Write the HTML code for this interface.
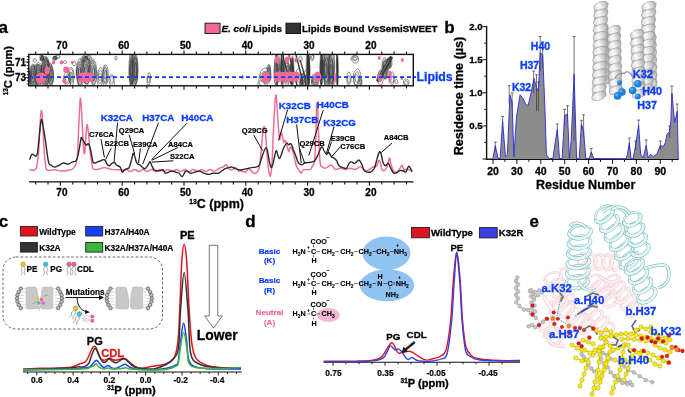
<!DOCTYPE html>
<html><head><meta charset="utf-8"><style>
html,body{margin:0;padding:0;background:#fff;width:685px;height:397px;overflow:hidden}
svg{display:block;font-family:"Liberation Sans",sans-serif;will-change:transform}
text{stroke-width:0.3px}
text:not([stroke]){stroke:#000}
</style></head><body>
<svg width="685" height="397" viewBox="0 0 685 397">
<text x="-1.5" y="33.0" font-size="17.00" font-weight="bold" fill="#000" stroke="#000" style="stroke-width:0.30px" text-anchor="start" >a</text>
<rect x="205" y="23.2" width="15" height="10.3" fill="#f0699a" stroke="#222" stroke-width="1"/>
<text x="221.5" y="31.6" font-size="9.8" font-weight="bold"><tspan font-style="italic">E. coli</tspan> Lipids</text>
<rect x="286" y="23.2" width="14.5" height="10.3" fill="#333" stroke="#111" stroke-width="1"/>
<text x="302" y="31.6" font-size="9.8" font-weight="bold">Lipids Bound <tspan font-style="italic">Vs</tspan>SemiSWEET</text>
<text x="61.9" y="48.7" font-size="10.00" font-weight="bold" fill="#000" stroke="#000" style="stroke-width:0.30px" text-anchor="middle" >70</text>
<text x="123.7" y="48.7" font-size="10.00" font-weight="bold" fill="#000" stroke="#000" style="stroke-width:0.30px" text-anchor="middle" >60</text>
<text x="185.5" y="48.7" font-size="10.00" font-weight="bold" fill="#000" stroke="#000" style="stroke-width:0.30px" text-anchor="middle" >50</text>
<text x="247.3" y="48.7" font-size="10.00" font-weight="bold" fill="#000" stroke="#000" style="stroke-width:0.30px" text-anchor="middle" >40</text>
<text x="309.1" y="48.7" font-size="10.00" font-weight="bold" fill="#000" stroke="#000" style="stroke-width:0.30px" text-anchor="middle" >30</text>
<text x="370.9" y="48.7" font-size="10.00" font-weight="bold" fill="#000" stroke="#000" style="stroke-width:0.30px" text-anchor="middle" >20</text>
<path d="M35.7,54.4 v-2.8 M35.7,85.8 v2.8 M48.0,54.4 v-2.8 M48.0,85.8 v2.8 M60.4,54.4 v-4.0 M60.4,85.8 v4.0 M72.8,54.4 v-2.8 M72.8,85.8 v2.8 M85.1,54.4 v-2.8 M85.1,85.8 v2.8 M97.5,54.4 v-2.8 M97.5,85.8 v2.8 M109.8,54.4 v-2.8 M109.8,85.8 v2.8 M122.2,54.4 v-4.0 M122.2,85.8 v4.0 M134.6,54.4 v-2.8 M134.6,85.8 v2.8 M146.9,54.4 v-2.8 M146.9,85.8 v2.8 M159.3,54.4 v-2.8 M159.3,85.8 v2.8 M171.6,54.4 v-2.8 M171.6,85.8 v2.8 M184.0,54.4 v-4.0 M184.0,85.8 v4.0 M196.4,54.4 v-2.8 M196.4,85.8 v2.8 M208.7,54.4 v-2.8 M208.7,85.8 v2.8 M221.1,54.4 v-2.8 M221.1,85.8 v2.8 M233.4,54.4 v-2.8 M233.4,85.8 v2.8 M245.8,54.4 v-4.0 M245.8,85.8 v4.0 M258.2,54.4 v-2.8 M258.2,85.8 v2.8 M270.5,54.4 v-2.8 M270.5,85.8 v2.8 M282.9,54.4 v-2.8 M282.9,85.8 v2.8 M295.2,54.4 v-2.8 M295.2,85.8 v2.8 M307.6,54.4 v-4.0 M307.6,85.8 v4.0 M320.0,54.4 v-2.8 M320.0,85.8 v2.8 M332.3,54.4 v-2.8 M332.3,85.8 v2.8 M344.7,54.4 v-2.8 M344.7,85.8 v2.8 M357.0,54.4 v-2.8 M357.0,85.8 v2.8 M369.4,54.4 v-4.0 M369.4,85.8 v4.0 M381.8,54.4 v-2.8 M381.8,85.8 v2.8 M394.1,54.4 v-2.8 M394.1,85.8 v2.8 M406.5,54.4 v-2.8 M406.5,85.8 v2.8" stroke="#111" stroke-width="1.1" fill="none"/>
<path d="M28.8,56.5 h-2 M28.8,59.5 h-2 M28.8,62.6 h-2 M28.8,65.6 h-2 M28.8,68.7 h-2 M28.8,71.7 h-2 M28.8,74.8 h-2 M28.8,77.8 h-2 M28.8,80.9 h-2 M28.8,83.9 h-2 M28.8,62 h-3.5 M28.8,77.7 h-3.5" stroke="#111" stroke-width="0.9" fill="none"/>
<text x="26.0" y="65.5" font-size="10.00" font-weight="bold" fill="#000" stroke="#000" style="stroke-width:0.30px" text-anchor="end" >71</text>
<text x="26.0" y="81.3" font-size="10.00" font-weight="bold" fill="#000" stroke="#000" style="stroke-width:0.30px" text-anchor="end" >73</text>
<text transform="translate(11.6,70.6) rotate(-90)" text-anchor="middle" font-size="11.2" font-weight="bold"><tspan font-size="6.4" dy="-3.8">13</tspan><tspan dy="3.8">C (ppm)</tspan></text>
<clipPath id="box2d"><rect x="29" y="55" width="384" height="30.5"/></clipPath>
<g clip-path="url(#box2d)">
<path d="M36.8,76.0 C36.8,76.7 36.9,79.0 36.8,80.4 C36.6,81.8 36.2,83.4 35.8,84.6 C35.3,85.7 34.7,86.6 34.0,87.1 C33.4,87.6 32.6,88.1 31.9,87.7 C31.3,87.3 30.7,85.8 30.2,84.7 C29.7,83.5 29.2,82.3 28.9,80.8 C28.6,79.4 28.3,77.5 28.4,76.0 C28.5,74.5 29.0,73.0 29.4,71.7 C29.7,70.4 30.0,69.3 30.5,68.2 C30.9,67.1 31.4,65.7 32.0,65.1 C32.6,64.4 33.4,64.2 34.1,64.4 C34.8,64.6 35.7,65.0 36.2,66.2 C36.7,67.3 37.0,69.5 37.1,71.2 C37.2,72.8 36.9,75.2 36.8,76.0 Z" fill="#999"/>
<path d="M37.7,76.4 C37.7,77.2 37.8,79.8 37.6,81.4 C37.4,83.1 37.1,85.2 36.5,86.1 C36.0,87.1 35.1,87.2 34.4,87.3 C33.7,87.4 33.0,86.9 32.4,86.5 C31.8,86.1 31.0,85.9 30.5,85.0 C30.1,84.0 29.8,82.3 29.5,80.9 C29.3,79.4 29.2,77.9 29.1,76.4 C29.1,74.8 29.0,73.0 29.2,71.5 C29.5,70.1 29.9,68.6 30.4,67.4 C30.9,66.2 31.6,64.7 32.2,64.3 C32.9,63.9 33.8,64.2 34.4,65.0 C35.0,65.8 35.4,67.8 35.8,69.0 C36.2,70.1 36.6,70.9 36.9,72.2 C37.3,73.4 37.6,75.7 37.7,76.4 Z" fill="none" stroke="#2a2a2a" stroke-width="0.55"/>
<path d="M37.0,76.2 C37.0,76.9 37.0,79.0 36.8,80.3 C36.6,81.6 36.3,83.2 35.9,84.0 C35.4,84.8 34.7,85.0 34.2,85.2 C33.6,85.3 33.1,85.2 32.5,84.9 C32.0,84.6 31.4,84.3 31.0,83.5 C30.6,82.6 30.5,81.0 30.3,79.8 C30.1,78.6 30.1,77.5 30.0,76.2 C30.0,75.0 29.9,73.5 30.0,72.3 C30.2,71.1 30.5,69.8 30.9,68.8 C31.3,67.7 31.9,66.5 32.4,66.2 C33.0,65.9 33.7,66.4 34.2,67.0 C34.7,67.7 35.0,69.3 35.3,70.2 C35.7,71.2 36.1,71.7 36.3,72.7 C36.6,73.7 36.9,75.7 37.0,76.2 Z" fill="none" stroke="#2a2a2a" stroke-width="0.55"/>
<path d="M35.7,76.1 C35.6,76.6 35.4,78.1 35.2,79.0 C35.0,79.8 34.8,80.5 34.5,81.2 C34.2,81.8 33.8,82.5 33.4,82.8 C33.0,83.1 32.6,83.0 32.2,82.9 C31.7,82.8 31.2,82.7 30.8,82.2 C30.4,81.6 30.0,80.5 29.9,79.5 C29.8,78.4 30.1,77.1 30.2,76.1 C30.3,75.1 30.4,74.3 30.5,73.4 C30.7,72.6 30.9,71.7 31.1,71.0 C31.4,70.3 31.8,69.6 32.2,69.2 C32.5,68.7 33.1,68.1 33.5,68.3 C33.9,68.5 34.4,69.5 34.7,70.3 C35.0,71.1 35.1,72.2 35.3,73.2 C35.4,74.1 35.6,75.6 35.7,76.1 Z" fill="none" stroke="#2a2a2a" stroke-width="0.55"/>
<path d="M34.7,76.7 C34.7,77.0 34.8,78.2 34.7,78.9 C34.6,79.5 34.3,80.1 34.1,80.6 C33.9,81.0 33.6,81.3 33.3,81.6 C33.0,81.8 32.6,82.3 32.3,82.1 C32.0,82.0 31.7,81.3 31.5,80.8 C31.3,80.2 31.2,79.4 31.1,78.7 C31.0,78.0 31.0,77.3 31.0,76.7 C31.0,76.0 31.1,75.4 31.2,74.8 C31.3,74.1 31.3,73.2 31.5,72.5 C31.7,71.9 32.0,71.2 32.3,71.0 C32.6,70.9 33.0,71.3 33.3,71.6 C33.6,71.9 33.9,72.3 34.1,72.9 C34.3,73.4 34.4,74.0 34.5,74.6 C34.6,75.3 34.7,76.3 34.7,76.7 Z" fill="none" stroke="#2a2a2a" stroke-width="0.55"/>
<path d="M34.0,76.2 C34.0,76.4 34.1,77.3 34.0,77.7 C33.9,78.1 33.7,78.5 33.5,78.7 C33.3,78.8 33.1,78.8 33.0,78.9 C32.8,78.9 32.6,78.9 32.5,78.8 C32.3,78.8 32.2,78.6 32.0,78.3 C31.9,78.1 31.7,77.9 31.6,77.6 C31.4,77.2 31.4,76.6 31.4,76.2 C31.4,75.7 31.5,75.3 31.6,74.9 C31.7,74.5 31.8,74.0 31.9,73.7 C32.1,73.5 32.3,73.2 32.4,73.2 C32.6,73.1 32.8,73.4 33.0,73.5 C33.1,73.6 33.3,73.8 33.4,74.0 C33.6,74.3 33.7,74.6 33.7,75.0 C33.8,75.3 33.9,76.0 34.0,76.2 Z" fill="none" stroke="#2a2a2a" stroke-width="0.55"/>
<path d="M44.7,75.0 C44.6,76.0 44.5,79.4 44.1,80.9 C43.6,82.3 42.6,82.9 41.9,83.7 C41.2,84.5 40.7,85.1 40.0,85.5 C39.3,86.0 38.6,86.4 37.9,86.2 C37.3,85.9 36.6,85.1 36.0,84.1 C35.3,83.2 34.6,82.1 34.2,80.5 C33.9,79.0 33.8,76.8 33.8,75.0 C33.8,73.2 34.1,71.4 34.4,69.7 C34.7,68.0 35.0,65.9 35.6,64.9 C36.2,63.9 37.2,63.8 37.9,63.8 C38.7,63.7 39.3,64.4 40.0,64.8 C40.6,65.2 41.3,65.3 41.9,66.2 C42.5,67.0 43.1,68.3 43.6,69.7 C44.0,71.2 44.5,74.1 44.7,75.0 Z" fill="#8a8a8a"/>
<path d="M44.0,74.7 C43.9,75.5 44.0,78.2 43.8,79.9 C43.6,81.6 43.3,83.8 42.7,85.0 C42.2,86.2 41.3,86.9 40.5,87.2 C39.7,87.5 38.8,87.5 38.1,86.8 C37.5,86.1 36.9,84.3 36.5,83.0 C36.1,81.8 35.9,80.4 35.5,79.0 C35.1,77.6 34.4,76.3 34.2,74.7 C34.0,73.0 34.0,70.6 34.3,68.9 C34.6,67.2 35.3,65.6 35.9,64.5 C36.6,63.5 37.4,62.6 38.1,62.4 C38.9,62.3 39.6,63.3 40.3,63.8 C41.0,64.4 41.7,64.8 42.2,65.8 C42.8,66.7 43.5,68.0 43.8,69.5 C44.1,70.9 43.9,73.8 44.0,74.7 Z" fill="none" stroke="#2a2a2a" stroke-width="0.55"/>
<path d="M42.4,75.7 C42.4,76.4 42.7,78.7 42.5,80.0 C42.3,81.3 41.8,82.4 41.3,83.4 C40.8,84.3 40.3,85.0 39.7,85.5 C39.1,85.9 38.4,86.3 37.8,86.0 C37.2,85.7 36.6,84.6 36.1,83.6 C35.7,82.6 35.2,81.4 34.9,80.1 C34.7,78.8 34.8,77.0 34.9,75.7 C35.0,74.4 35.4,73.4 35.7,72.1 C35.9,70.9 35.9,69.4 36.3,68.2 C36.6,67.0 37.2,65.7 37.8,65.1 C38.3,64.6 39.1,64.7 39.8,65.1 C40.4,65.5 41.1,66.4 41.5,67.5 C41.9,68.6 42.0,70.5 42.1,71.8 C42.3,73.2 42.3,75.1 42.4,75.7 Z" fill="none" stroke="#2a2a2a" stroke-width="0.55"/>
<path d="M42.4,74.8 C42.4,75.4 42.4,77.6 42.1,78.6 C41.8,79.5 41.2,80.0 40.8,80.6 C40.3,81.1 39.9,81.5 39.5,81.7 C39.1,81.8 38.6,81.8 38.2,81.6 C37.8,81.4 37.3,81.1 36.9,80.5 C36.5,80.0 36.0,79.3 35.8,78.3 C35.5,77.4 35.6,75.9 35.6,74.8 C35.6,73.6 35.7,72.5 35.9,71.4 C36.1,70.3 36.3,68.9 36.7,68.3 C37.1,67.6 37.7,67.6 38.1,67.5 C38.6,67.5 39.1,67.7 39.5,68.0 C39.9,68.3 40.3,68.7 40.7,69.3 C41.0,69.9 41.3,70.7 41.6,71.6 C41.9,72.5 42.3,74.3 42.4,74.8 Z" fill="none" stroke="#2a2a2a" stroke-width="0.55"/>
<path d="M41.1,75.2 C41.0,75.6 41.0,76.7 40.9,77.5 C40.8,78.3 40.7,79.4 40.4,80.0 C40.2,80.6 39.7,81.0 39.4,81.0 C39.1,81.0 38.7,80.4 38.4,80.0 C38.1,79.7 37.8,79.4 37.6,78.9 C37.4,78.5 37.1,78.0 37.0,77.3 C36.8,76.7 36.6,76.0 36.5,75.2 C36.4,74.4 36.4,73.2 36.5,72.5 C36.6,71.7 37.1,71.1 37.4,70.7 C37.7,70.3 38.0,70.2 38.4,70.0 C38.7,69.9 39.0,69.6 39.4,69.8 C39.7,70.0 39.9,70.6 40.2,71.2 C40.4,71.7 40.6,72.3 40.8,72.9 C40.9,73.6 41.0,74.8 41.1,75.2 Z" fill="none" stroke="#2a2a2a" stroke-width="0.55"/>
<path d="M40.3,75.5 C40.2,75.7 40.1,76.4 39.9,76.8 C39.8,77.2 39.7,77.5 39.6,77.8 C39.5,78.1 39.3,78.3 39.1,78.5 C38.9,78.6 38.7,78.9 38.5,78.9 C38.3,78.9 38.0,78.8 37.9,78.5 C37.7,78.1 37.6,77.4 37.6,77.0 C37.5,76.5 37.5,76.0 37.5,75.5 C37.6,75.0 37.6,74.5 37.6,74.1 C37.7,73.7 37.9,73.4 38.1,73.1 C38.2,72.8 38.4,72.5 38.6,72.4 C38.7,72.3 39.0,72.2 39.2,72.3 C39.3,72.4 39.5,72.7 39.7,72.9 C39.9,73.2 40.1,73.5 40.2,73.9 C40.3,74.3 40.3,75.2 40.3,75.5 Z" fill="none" stroke="#2a2a2a" stroke-width="0.55"/>
<path d="M50.6,72.0 C50.6,73.0 50.8,76.4 50.6,78.1 C50.3,79.9 49.6,81.3 49.0,82.6 C48.4,83.9 47.8,85.3 47.1,86.0 C46.4,86.7 45.5,87.2 44.8,86.8 C44.1,86.3 43.3,84.9 42.7,83.5 C42.2,82.0 41.5,80.2 41.3,78.3 C41.1,76.4 41.4,73.9 41.5,72.0 C41.6,70.1 42.0,68.8 42.2,66.9 C42.4,65.0 42.4,62.5 42.8,60.8 C43.2,59.1 44.0,57.5 44.8,56.9 C45.5,56.3 46.5,56.4 47.2,57.0 C48.0,57.7 48.8,59.0 49.2,60.6 C49.7,62.2 49.8,64.7 50.0,66.6 C50.3,68.5 50.5,71.1 50.6,72.0 Z" fill="#858585"/>
<path d="M50.1,72.4 C50.2,73.5 50.6,77.0 50.5,78.9 C50.3,80.9 49.6,83.0 49.0,84.3 C48.4,85.5 47.5,85.9 46.7,86.3 C46.0,86.7 45.2,87.1 44.5,86.6 C43.8,86.1 43.1,84.5 42.6,83.1 C42.0,81.7 41.6,80.0 41.3,78.2 C41.1,76.4 40.8,74.3 40.8,72.4 C40.9,70.5 41.3,68.8 41.5,66.9 C41.8,65.0 41.9,62.6 42.4,60.9 C42.8,59.2 43.6,57.0 44.3,56.5 C45.1,56.1 46.1,57.2 46.8,58.1 C47.5,59.0 48.1,60.5 48.6,61.9 C49.1,63.4 49.3,65.3 49.6,67.1 C49.8,68.8 50.0,71.5 50.1,72.4 Z" fill="none" stroke="#2a2a2a" stroke-width="0.55"/>
<path d="M50.3,72.1 C50.3,73.1 50.4,76.2 50.2,77.9 C49.9,79.5 49.3,81.1 48.7,82.1 C48.2,83.1 47.5,83.8 46.9,83.9 C46.2,84.0 45.6,83.1 45.0,82.6 C44.5,82.0 43.9,81.7 43.4,80.8 C42.9,80.0 42.3,78.8 42.0,77.3 C41.8,75.9 41.9,73.9 41.8,72.1 C41.8,70.4 41.8,68.5 42.0,66.8 C42.2,65.1 42.5,63.1 43.0,61.9 C43.5,60.8 44.3,60.3 44.9,60.0 C45.5,59.8 46.3,59.8 46.8,60.5 C47.4,61.1 47.8,62.7 48.2,64.0 C48.6,65.2 48.8,66.4 49.1,67.7 C49.5,69.1 50.1,71.4 50.3,72.1 Z" fill="none" stroke="#2a2a2a" stroke-width="0.55"/>
<path d="M49.4,71.5 C49.4,72.2 49.7,74.5 49.6,75.8 C49.4,77.1 49.0,78.4 48.6,79.4 C48.2,80.3 47.7,81.2 47.2,81.5 C46.7,81.9 46.0,81.9 45.6,81.5 C45.1,81.0 44.6,79.9 44.2,79.0 C43.9,78.0 43.4,77.0 43.2,75.8 C43.0,74.5 43.0,72.8 43.1,71.5 C43.2,70.2 43.5,69.1 43.7,67.9 C43.8,66.6 43.9,65.0 44.2,63.9 C44.5,62.7 45.0,61.6 45.5,61.1 C46.0,60.6 46.7,60.7 47.2,61.1 C47.7,61.5 48.3,62.4 48.6,63.5 C48.9,64.7 49.0,66.5 49.1,67.9 C49.2,69.2 49.3,70.9 49.4,71.5 Z" fill="none" stroke="#2a2a2a" stroke-width="0.55"/>
<path d="M48.4,71.8 C48.4,72.3 48.3,73.9 48.1,74.8 C48.0,75.7 47.7,76.5 47.4,77.3 C47.2,78.0 46.9,79.0 46.5,79.4 C46.1,79.7 45.7,79.4 45.3,79.1 C44.9,78.9 44.5,78.4 44.2,77.8 C43.8,77.2 43.3,76.4 43.2,75.4 C43.0,74.4 43.1,72.9 43.1,71.8 C43.2,70.7 43.4,69.6 43.6,68.8 C43.9,67.9 44.1,67.1 44.4,66.5 C44.6,65.9 45.0,65.5 45.3,65.0 C45.7,64.6 46.1,63.7 46.5,63.7 C46.9,63.7 47.5,64.2 47.8,65.0 C48.1,65.8 48.2,67.3 48.3,68.5 C48.4,69.6 48.4,71.2 48.4,71.8 Z" fill="none" stroke="#2a2a2a" stroke-width="0.55"/>
<path d="M48.0,72.5 C48.0,72.9 48.2,74.3 48.1,75.0 C48.0,75.8 47.7,76.4 47.5,76.9 C47.2,77.4 46.9,77.8 46.6,77.9 C46.4,78.1 46.0,78.1 45.8,77.9 C45.5,77.6 45.3,77.0 45.1,76.5 C44.8,76.0 44.6,75.4 44.5,74.8 C44.4,74.1 44.4,73.2 44.4,72.5 C44.4,71.7 44.5,71.1 44.6,70.3 C44.7,69.6 44.7,68.5 44.9,67.9 C45.1,67.3 45.4,66.7 45.7,66.5 C46.0,66.4 46.4,66.7 46.6,67.0 C46.9,67.3 47.2,67.8 47.4,68.4 C47.5,69.0 47.6,69.8 47.7,70.5 C47.8,71.2 47.9,72.1 48.0,72.5 Z" fill="none" stroke="#2a2a2a" stroke-width="0.55"/>
<path d="M46.8,71.7 C46.7,72.0 46.7,72.6 46.6,73.0 C46.6,73.5 46.5,74.0 46.4,74.3 C46.3,74.6 46.1,74.9 45.9,75.0 C45.8,75.1 45.6,74.9 45.4,74.9 C45.2,74.8 45.0,74.8 44.9,74.5 C44.7,74.3 44.6,73.7 44.6,73.3 C44.5,72.8 44.6,72.2 44.6,71.7 C44.6,71.3 44.7,70.9 44.7,70.5 C44.8,70.1 44.9,69.8 45.0,69.5 C45.1,69.2 45.3,68.8 45.4,68.5 C45.6,68.3 45.8,68.0 46.0,68.1 C46.1,68.1 46.3,68.7 46.4,69.1 C46.6,69.5 46.6,70.0 46.7,70.4 C46.7,70.8 46.7,71.5 46.8,71.7 Z" fill="none" stroke="#2a2a2a" stroke-width="0.55"/>
<path d="M53.4,75.0 C53.4,75.8 53.3,78.0 53.1,79.5 C53.0,81.1 52.9,83.0 52.7,84.3 C52.4,85.6 52.0,87.1 51.6,87.3 C51.3,87.5 50.8,86.4 50.4,85.7 C50.1,85.0 49.8,84.0 49.6,82.9 C49.3,81.8 49.2,80.5 49.0,79.2 C48.9,77.9 48.7,76.6 48.6,75.0 C48.6,73.4 48.4,71.2 48.5,69.6 C48.6,68.1 49.0,66.5 49.3,65.6 C49.6,64.7 50.1,64.5 50.4,64.3 C50.8,64.1 51.2,63.8 51.6,64.2 C51.9,64.6 52.2,65.8 52.5,66.9 C52.7,67.9 53.0,69.1 53.1,70.5 C53.3,71.8 53.4,74.2 53.4,75.0 Z" fill="#999"/>
<path d="M53.5,74.5 C53.5,75.4 53.6,78.4 53.4,79.9 C53.3,81.4 52.9,82.9 52.5,83.6 C52.2,84.3 51.7,84.0 51.4,84.2 C51.0,84.4 50.7,84.9 50.3,84.7 C50.0,84.5 49.6,83.8 49.3,82.8 C49.1,81.9 48.9,80.4 48.7,79.0 C48.5,77.6 48.3,76.1 48.3,74.5 C48.2,72.9 48.4,71.1 48.5,69.5 C48.7,68.0 48.9,66.4 49.2,65.3 C49.5,64.1 49.9,62.9 50.3,62.9 C50.6,62.8 51.0,64.1 51.4,64.8 C51.7,65.5 51.9,66.3 52.2,67.1 C52.5,68.0 52.8,68.6 53.0,69.8 C53.3,71.1 53.4,73.7 53.5,74.5 Z" fill="none" stroke="#2a2a2a" stroke-width="0.55"/>
<path d="M53.2,74.5 C53.2,75.1 53.3,77.1 53.2,78.3 C53.1,79.4 52.9,80.9 52.7,81.5 C52.4,82.1 52.0,81.8 51.8,81.7 C51.5,81.7 51.3,81.5 51.0,81.2 C50.8,81.0 50.5,80.9 50.3,80.4 C50.1,79.8 50.0,78.8 49.8,77.8 C49.7,76.8 49.6,75.6 49.5,74.5 C49.5,73.3 49.6,71.9 49.7,70.9 C49.8,69.8 50.1,69.0 50.3,68.2 C50.5,67.5 50.7,66.5 51.0,66.2 C51.2,66.0 51.6,66.4 51.8,66.9 C52.0,67.4 52.2,68.4 52.4,69.2 C52.5,69.9 52.7,70.4 52.9,71.3 C53.0,72.2 53.2,73.9 53.2,74.5 Z" fill="none" stroke="#2a2a2a" stroke-width="0.55"/>
<path d="M51.9,74.6 C51.9,74.9 51.8,75.8 51.8,76.4 C51.7,77.0 51.7,77.9 51.6,78.4 C51.5,78.8 51.3,79.1 51.2,79.3 C51.0,79.4 50.8,79.3 50.7,79.2 C50.5,79.1 50.3,79.0 50.2,78.6 C50.1,78.2 50.0,77.4 49.9,76.7 C49.9,76.0 49.8,75.3 49.9,74.6 C49.9,73.9 49.9,73.2 50.0,72.7 C50.1,72.2 50.2,71.9 50.4,71.4 C50.5,71.0 50.5,70.3 50.7,69.9 C50.8,69.6 51.0,69.2 51.2,69.3 C51.4,69.4 51.5,70.1 51.6,70.6 C51.8,71.1 51.9,71.8 51.9,72.5 C51.9,73.2 51.9,74.2 51.9,74.6 Z" fill="none" stroke="#2a2a2a" stroke-width="0.55"/>
<path d="M44.1,58.0 C44.1,58.2 44.1,59.0 43.9,59.4 C43.7,59.7 43.4,59.9 43.1,60.1 C42.9,60.3 42.6,60.4 42.4,60.6 C42.1,60.7 41.8,60.9 41.6,60.9 C41.3,60.9 40.9,60.8 40.7,60.5 C40.4,60.3 40.1,59.9 39.9,59.5 C39.8,59.1 39.8,58.4 39.9,58.0 C40.0,57.6 40.3,57.2 40.4,56.9 C40.6,56.5 40.6,56.1 40.8,55.8 C41.0,55.5 41.3,55.2 41.6,55.1 C41.8,55.0 42.1,55.0 42.4,55.1 C42.7,55.2 43.1,55.2 43.3,55.5 C43.6,55.8 43.7,56.2 43.9,56.7 C44.0,57.1 44.0,57.8 44.1,58.0 Z" fill="#666"/>
<path d="M43.5,58.0 C43.5,58.2 43.6,58.9 43.5,59.4 C43.4,59.8 43.2,60.2 42.9,60.5 C42.7,60.7 42.4,60.8 42.1,60.9 C41.8,61.0 41.4,61.2 41.1,61.1 C40.9,61.0 40.6,60.7 40.4,60.4 C40.2,60.1 40.1,59.6 40.0,59.2 C39.9,58.8 39.8,58.4 39.8,58.0 C39.8,57.6 39.9,57.2 40.0,56.8 C40.0,56.4 40.1,55.9 40.3,55.5 C40.5,55.1 40.8,54.6 41.1,54.5 C41.4,54.5 41.8,54.8 42.1,55.0 C42.4,55.2 42.6,55.5 42.8,55.8 C43.0,56.1 43.2,56.4 43.3,56.8 C43.4,57.2 43.4,57.8 43.5,58.0 Z" fill="none" stroke="#2a2a2a" stroke-width="0.55"/>
<path d="M43.5,58.2 C43.5,58.3 43.5,58.7 43.4,59.0 C43.4,59.2 43.3,59.5 43.2,59.7 C43.0,59.9 42.8,60.0 42.6,60.0 C42.5,60.1 42.3,60.1 42.1,60.0 C41.9,60.0 41.7,59.9 41.5,59.7 C41.4,59.6 41.4,59.2 41.3,58.9 C41.3,58.7 41.3,58.5 41.3,58.2 C41.3,58.0 41.3,57.7 41.3,57.5 C41.4,57.2 41.5,57.0 41.6,56.8 C41.7,56.6 41.9,56.3 42.1,56.2 C42.2,56.1 42.5,56.1 42.7,56.3 C42.8,56.4 42.9,56.7 43.0,56.9 C43.2,57.1 43.3,57.3 43.3,57.5 C43.4,57.7 43.5,58.1 43.5,58.2 Z" fill="none" stroke="#2a2a2a" stroke-width="0.55"/>
<path d="M36.4,60.6 C36.3,60.7 36.2,61.2 36.1,61.4 C36.0,61.7 35.7,61.8 35.5,61.9 C35.4,62.1 35.2,62.3 35.0,62.4 C34.8,62.5 34.6,62.6 34.4,62.5 C34.2,62.4 34.0,62.2 33.8,62.1 C33.6,61.9 33.4,61.7 33.3,61.5 C33.2,61.2 33.1,60.9 33.1,60.6 C33.1,60.2 33.2,59.9 33.3,59.6 C33.4,59.4 33.6,59.1 33.8,58.9 C33.9,58.8 34.2,58.9 34.4,58.9 C34.6,58.9 34.8,58.9 35.0,58.9 C35.2,58.9 35.5,58.8 35.7,58.9 C35.9,59.0 36.1,59.3 36.2,59.6 C36.3,59.9 36.3,60.4 36.4,60.6 Z" fill="none" stroke="#2a2a2a" stroke-width="0.55"/>
<path d="M57.3,58.0 C57.3,58.1 57.4,58.6 57.3,58.9 C57.2,59.2 57.0,59.6 56.8,59.8 C56.5,60.0 56.0,60.0 55.6,60.0 C55.2,60.1 54.8,60.0 54.5,59.9 C54.1,59.8 53.7,59.8 53.4,59.6 C53.2,59.4 53.0,59.1 52.9,58.8 C52.7,58.6 52.7,58.3 52.7,58.0 C52.7,57.7 52.7,57.4 52.8,57.1 C52.9,56.9 53.2,56.7 53.4,56.4 C53.7,56.2 54.0,55.9 54.4,55.8 C54.7,55.7 55.3,55.7 55.6,55.8 C56.0,56.0 56.2,56.3 56.4,56.6 C56.6,56.8 56.8,57.0 57.0,57.2 C57.1,57.5 57.3,57.9 57.3,58.0 Z" fill="#777"/>
<path d="M57.7,58.4 C57.6,58.5 57.2,58.9 57.0,59.1 C56.8,59.4 56.6,59.6 56.4,59.7 C56.1,59.9 55.8,60.1 55.5,60.2 C55.2,60.3 54.8,60.4 54.4,60.4 C54.0,60.4 53.5,60.4 53.2,60.2 C52.9,60.0 52.7,59.6 52.6,59.3 C52.6,59.0 52.6,58.7 52.6,58.4 C52.7,58.1 52.6,57.8 52.8,57.5 C52.9,57.3 53.3,57.1 53.5,56.9 C53.8,56.7 54.1,56.6 54.5,56.5 C54.8,56.4 55.2,56.3 55.6,56.4 C55.9,56.4 56.2,56.6 56.6,56.8 C56.9,57.0 57.3,57.1 57.5,57.4 C57.7,57.7 57.7,58.2 57.7,58.4 Z" fill="none" stroke="#2a2a2a" stroke-width="0.55"/>
<path d="M56.1,57.8 C56.2,57.9 56.3,58.2 56.2,58.4 C56.2,58.6 56.0,58.8 55.8,58.9 C55.6,59.0 55.3,58.9 55.0,58.9 C54.8,58.9 54.6,58.9 54.4,58.9 C54.2,58.8 54.0,58.8 53.8,58.7 C53.7,58.6 53.6,58.4 53.4,58.3 C53.3,58.1 53.2,58.0 53.2,57.8 C53.2,57.6 53.2,57.4 53.3,57.3 C53.4,57.1 53.6,57.0 53.8,56.8 C53.9,56.7 54.1,56.5 54.3,56.5 C54.6,56.5 54.9,56.5 55.1,56.6 C55.3,56.7 55.4,56.9 55.5,57.0 C55.7,57.1 55.8,57.2 55.9,57.3 C56.0,57.5 56.1,57.7 56.1,57.8 Z" fill="none" stroke="#2a2a2a" stroke-width="0.55"/>
<path d="M60.1,56.7 C60.1,56.9 60.2,57.3 60.0,57.5 C59.9,57.7 59.5,57.8 59.3,57.9 C59.0,58.0 58.7,58.1 58.4,58.1 C58.1,58.2 57.8,58.2 57.6,58.2 C57.3,58.2 57.0,58.0 56.8,57.9 C56.6,57.7 56.5,57.5 56.3,57.3 C56.2,57.2 56.0,57.0 55.9,56.7 C55.9,56.5 56.0,56.3 56.1,56.1 C56.2,55.8 56.4,55.6 56.6,55.4 C56.8,55.3 57.2,55.2 57.5,55.2 C57.8,55.2 58.1,55.4 58.4,55.5 C58.6,55.6 58.9,55.6 59.1,55.7 C59.3,55.8 59.6,55.9 59.8,56.1 C60.0,56.3 60.1,56.6 60.1,56.7 Z" fill="none" stroke="#2a2a2a" stroke-width="0.55"/>
<path d="M70.6,78.8 C70.6,79.3 70.9,80.7 70.8,81.7 C70.7,82.7 70.5,84.1 70.1,84.9 C69.6,85.6 68.9,86.0 68.3,86.1 C67.6,86.3 66.9,86.3 66.4,86.0 C65.8,85.6 65.3,84.8 64.9,84.0 C64.5,83.3 64.2,82.4 64.0,81.6 C63.7,80.7 63.3,79.7 63.3,78.8 C63.3,77.8 63.6,76.8 63.9,75.9 C64.1,75.0 64.5,74.2 64.9,73.5 C65.3,72.7 65.8,71.6 66.3,71.3 C66.9,70.9 67.7,71.1 68.3,71.4 C68.9,71.7 69.5,72.3 69.9,73.1 C70.3,73.8 70.6,75.0 70.7,75.9 C70.8,76.9 70.6,78.3 70.6,78.8 Z" fill="none" stroke="#2a2a2a" stroke-width="0.55"/>
<path d="M70.1,79.4 C70.0,79.8 69.8,80.8 69.6,81.5 C69.3,82.1 69.2,82.7 68.9,83.2 C68.6,83.7 68.1,84.1 67.8,84.2 C67.4,84.3 67.0,84.0 66.6,83.8 C66.2,83.7 65.7,83.7 65.3,83.3 C65.0,83.0 64.5,82.5 64.3,81.8 C64.1,81.2 64.0,80.2 64.0,79.4 C64.1,78.6 64.2,77.7 64.4,77.1 C64.7,76.6 65.2,76.2 65.5,75.9 C65.9,75.6 66.2,75.6 66.6,75.3 C67.0,75.1 67.4,74.5 67.8,74.4 C68.2,74.4 68.7,74.8 69.1,75.2 C69.4,75.6 69.7,76.4 69.9,77.1 C70.1,77.8 70.1,79.0 70.1,79.4 Z" fill="none" stroke="#2a2a2a" stroke-width="0.55"/>
<path d="M68.6,79.4 C68.6,79.6 68.6,80.3 68.5,80.7 C68.3,81.0 68.1,81.2 68.0,81.5 C67.8,81.9 67.6,82.3 67.4,82.5 C67.2,82.7 66.8,82.9 66.5,82.8 C66.3,82.7 66.0,82.3 65.9,81.9 C65.7,81.6 65.6,81.1 65.5,80.7 C65.4,80.3 65.5,79.8 65.5,79.4 C65.5,79.0 65.6,78.7 65.6,78.3 C65.7,77.9 65.7,77.3 65.8,76.9 C66.0,76.6 66.3,76.4 66.6,76.3 C66.8,76.2 67.1,76.3 67.4,76.4 C67.6,76.6 67.9,76.7 68.1,77.0 C68.3,77.3 68.4,77.7 68.5,78.2 C68.6,78.6 68.6,79.2 68.6,79.4 Z" fill="none" stroke="#2a2a2a" stroke-width="0.55"/>
<path d="M74.2,76.1 C74.1,76.8 74.0,78.8 73.8,80.0 C73.6,81.3 73.4,82.7 73.1,83.7 C72.8,84.6 72.3,85.8 71.9,85.9 C71.4,86.1 70.9,85.1 70.5,84.5 C70.1,83.9 69.8,83.1 69.5,82.3 C69.2,81.5 68.9,80.7 68.7,79.7 C68.4,78.6 68.3,77.5 68.2,76.1 C68.1,74.8 67.9,72.9 68.0,71.6 C68.2,70.3 68.6,69.0 69.1,68.4 C69.5,67.7 70.0,67.9 70.5,67.8 C70.9,67.7 71.4,67.4 71.8,67.7 C72.2,68.0 72.6,68.7 72.9,69.5 C73.2,70.3 73.5,71.3 73.7,72.4 C73.9,73.5 74.1,75.5 74.2,76.1 Z" fill="none" stroke="#2a2a2a" stroke-width="0.55"/>
<path d="M72.9,75.9 C72.9,76.4 73.1,77.7 73.0,78.6 C72.9,79.5 72.8,80.6 72.6,81.3 C72.4,82.1 72.0,82.7 71.7,82.9 C71.3,83.2 70.9,83.2 70.6,82.8 C70.3,82.4 70.1,81.3 69.9,80.5 C69.7,79.8 69.6,79.2 69.4,78.4 C69.3,77.6 69.0,76.8 69.0,75.9 C69.0,75.1 69.1,74.0 69.2,73.2 C69.4,72.3 69.5,71.4 69.8,70.8 C70.0,70.1 70.3,69.5 70.6,69.3 C70.9,69.1 71.3,69.3 71.6,69.5 C71.9,69.8 72.3,70.0 72.5,70.6 C72.8,71.3 72.9,72.4 73.0,73.3 C73.0,74.2 72.9,75.5 72.9,75.9 Z" fill="none" stroke="#2a2a2a" stroke-width="0.55"/>
<path d="M72.0,76.2 C72.0,76.5 72.0,77.2 71.9,77.8 C71.9,78.3 71.9,79.1 71.7,79.5 C71.6,79.9 71.4,80.3 71.2,80.4 C71.0,80.5 70.8,80.2 70.6,80.0 C70.4,79.8 70.2,79.7 70.1,79.3 C69.9,79.0 69.8,78.4 69.7,77.9 C69.7,77.4 69.7,76.8 69.7,76.2 C69.7,75.7 69.7,75.1 69.8,74.6 C69.8,74.2 70.0,73.8 70.1,73.4 C70.3,73.0 70.4,72.5 70.6,72.3 C70.8,72.0 71.0,71.7 71.2,71.8 C71.4,72.0 71.6,72.6 71.7,73.1 C71.8,73.6 71.9,74.2 71.9,74.7 C72.0,75.2 72.0,76.0 72.0,76.2 Z" fill="none" stroke="#2a2a2a" stroke-width="0.55"/>
<path d="M76.1,63.6 C76.1,63.7 76.2,64.2 76.1,64.5 C76.0,64.7 75.7,64.9 75.5,65.1 C75.3,65.3 75.0,65.5 74.7,65.6 C74.4,65.7 74.1,65.7 73.8,65.7 C73.5,65.6 73.2,65.4 73.0,65.2 C72.8,65.0 72.5,64.8 72.4,64.5 C72.3,64.2 72.3,63.9 72.4,63.6 C72.5,63.3 72.7,63.1 72.8,62.9 C72.9,62.6 72.9,62.3 73.0,62.0 C73.2,61.8 73.5,61.6 73.8,61.5 C74.1,61.4 74.5,61.3 74.8,61.4 C75.1,61.5 75.4,61.7 75.6,61.9 C75.8,62.1 75.8,62.5 75.9,62.8 C76.0,63.1 76.0,63.5 76.1,63.6 Z" fill="none" stroke="#2a2a2a" stroke-width="0.55"/>
<path d="M66.5,62.0 C66.5,62.2 66.6,62.6 66.5,62.8 C66.5,63.0 66.2,63.2 66.0,63.3 C65.8,63.4 65.5,63.4 65.3,63.4 C65.1,63.5 64.9,63.4 64.7,63.3 C64.5,63.3 64.4,63.2 64.2,63.1 C64.0,63.0 63.7,62.9 63.6,62.7 C63.4,62.6 63.3,62.3 63.3,62.0 C63.3,61.8 63.5,61.6 63.6,61.4 C63.7,61.2 63.9,61.0 64.1,60.9 C64.3,60.8 64.5,60.7 64.7,60.7 C64.9,60.6 65.1,60.6 65.3,60.7 C65.5,60.7 65.8,60.7 66.0,60.9 C66.1,61.0 66.2,61.2 66.3,61.4 C66.4,61.6 66.5,61.9 66.5,62.0 Z" fill="none" stroke="#2a2a2a" stroke-width="0.55"/>
<path d="M83.7,73.0 C83.6,73.9 83.6,76.6 83.3,78.2 C83.1,79.8 82.8,81.6 82.4,82.8 C82.0,83.9 81.4,84.6 80.9,85.2 C80.3,85.8 79.6,86.5 79.1,86.2 C78.5,85.9 77.9,84.7 77.4,83.5 C77.0,82.2 76.5,80.6 76.2,78.9 C75.9,77.1 75.6,74.9 75.6,73.0 C75.7,71.1 76.2,69.1 76.6,67.6 C76.9,66.2 77.4,65.4 77.9,64.3 C78.3,63.2 78.7,61.8 79.2,61.1 C79.7,60.4 80.3,60.1 80.9,60.1 C81.5,60.2 82.3,60.3 82.8,61.4 C83.4,62.5 83.9,64.8 84.0,66.7 C84.2,68.7 83.8,72.0 83.7,73.0 Z" fill="#bbb"/>
<path d="M83.6,72.5 C83.6,73.3 83.6,75.8 83.5,77.6 C83.3,79.4 83.2,81.8 82.8,83.3 C82.5,84.8 81.8,85.9 81.2,86.5 C80.6,87.0 79.8,87.3 79.2,86.6 C78.6,85.9 78.1,83.9 77.8,82.3 C77.4,80.8 77.3,79.0 77.1,77.3 C76.9,75.7 76.4,74.2 76.3,72.5 C76.2,70.7 76.3,68.5 76.6,66.8 C76.8,65.1 77.2,63.5 77.7,62.2 C78.1,60.9 78.7,59.4 79.2,58.9 C79.8,58.4 80.5,58.9 81.1,59.4 C81.7,59.9 82.3,60.7 82.8,61.9 C83.2,63.2 83.7,65.0 83.8,66.8 C83.9,68.6 83.6,71.5 83.6,72.5 Z" fill="none" stroke="#2a2a2a" stroke-width="0.55"/>
<path d="M82.7,73.2 C82.7,73.9 82.8,76.0 82.7,77.5 C82.6,79.0 82.4,80.9 82.1,82.1 C81.8,83.3 81.2,84.2 80.7,84.7 C80.2,85.1 79.6,85.2 79.1,84.7 C78.7,84.1 78.3,82.4 78.0,81.1 C77.7,79.9 77.6,78.6 77.3,77.3 C77.1,75.9 76.8,74.6 76.7,73.2 C76.7,71.8 76.8,70.0 77.0,68.7 C77.2,67.3 77.5,66.0 77.9,64.9 C78.3,63.8 78.7,62.5 79.2,62.1 C79.6,61.7 80.2,62.0 80.7,62.4 C81.2,62.8 81.7,63.3 82.1,64.4 C82.5,65.4 82.8,67.2 82.8,68.6 C82.9,70.1 82.7,72.4 82.7,73.2 Z" fill="none" stroke="#2a2a2a" stroke-width="0.55"/>
<path d="M82.2,72.5 C82.1,73.0 81.9,74.7 81.7,75.7 C81.5,76.7 81.3,77.6 81.1,78.4 C80.8,79.3 80.5,80.4 80.2,80.7 C79.9,81.0 79.4,80.6 79.1,80.3 C78.7,80.1 78.3,79.7 78.0,79.1 C77.7,78.4 77.3,77.5 77.1,76.4 C76.9,75.3 76.9,73.7 77.0,72.5 C77.0,71.2 77.1,69.8 77.3,68.8 C77.5,67.9 77.9,67.2 78.2,66.6 C78.5,66.1 78.8,66.0 79.1,65.6 C79.5,65.2 79.8,64.2 80.2,64.1 C80.6,64.0 81.1,64.4 81.4,65.2 C81.7,65.9 82.0,67.4 82.1,68.6 C82.2,69.8 82.2,71.8 82.2,72.5 Z" fill="none" stroke="#2a2a2a" stroke-width="0.55"/>
<path d="M82.1,73.2 C82.0,73.6 81.9,75.0 81.8,75.8 C81.7,76.6 81.5,77.4 81.3,78.0 C81.1,78.6 80.8,79.3 80.6,79.5 C80.3,79.6 80.0,79.1 79.8,78.7 C79.5,78.4 79.3,77.9 79.1,77.4 C78.9,76.8 78.8,76.3 78.6,75.6 C78.5,74.9 78.4,74.1 78.4,73.2 C78.3,72.3 78.2,71.1 78.3,70.3 C78.3,69.4 78.6,68.4 78.9,68.0 C79.1,67.6 79.5,67.8 79.8,67.8 C80.0,67.7 80.3,67.7 80.5,67.9 C80.8,68.1 81.0,68.5 81.2,69.0 C81.4,69.4 81.6,70.0 81.7,70.7 C81.9,71.4 82.0,72.8 82.1,73.2 Z" fill="none" stroke="#2a2a2a" stroke-width="0.55"/>
<path d="M80.9,72.4 C80.9,72.7 80.8,73.6 80.7,74.0 C80.6,74.4 80.4,74.6 80.2,74.9 C80.1,75.1 80.0,75.4 79.9,75.5 C79.7,75.6 79.6,75.7 79.4,75.6 C79.3,75.6 79.1,75.6 78.9,75.4 C78.8,75.1 78.6,74.6 78.5,74.1 C78.5,73.6 78.5,73.0 78.6,72.4 C78.6,71.9 78.6,71.3 78.7,70.9 C78.7,70.4 78.8,69.9 79.0,69.6 C79.1,69.4 79.3,69.3 79.4,69.2 C79.6,69.1 79.7,69.0 79.9,69.1 C80.0,69.2 80.2,69.4 80.3,69.7 C80.4,70.0 80.6,70.4 80.7,70.8 C80.8,71.3 80.9,72.1 80.9,72.4 Z" fill="none" stroke="#2a2a2a" stroke-width="0.55"/>
<path d="M91.3,70.0 C91.1,71.1 90.8,74.4 90.5,76.5 C90.2,78.6 89.9,81.0 89.3,82.5 C88.8,84.0 87.9,85.3 87.2,85.6 C86.5,85.8 85.6,84.8 84.9,84.0 C84.3,83.2 83.6,82.3 83.1,80.9 C82.6,79.5 82.4,77.6 82.0,75.8 C81.7,73.9 81.3,72.2 81.1,70.0 C80.9,67.8 80.5,64.6 80.7,62.4 C81.0,60.3 81.9,58.3 82.6,57.2 C83.3,56.1 84.2,55.9 84.9,55.7 C85.7,55.6 86.4,55.8 87.0,56.4 C87.7,57.1 88.2,58.4 88.8,59.5 C89.4,60.7 90.1,61.7 90.5,63.5 C90.9,65.2 91.2,68.9 91.3,70.0 Z" fill="#b0b0b0"/>
<path d="M91.4,70.1 C91.3,71.4 91.5,75.5 91.2,77.5 C90.8,79.4 89.9,80.8 89.2,81.9 C88.5,82.9 87.8,83.5 87.1,83.6 C86.4,83.8 85.8,83.4 85.1,83.0 C84.5,82.5 83.9,82.0 83.2,81.0 C82.5,80.1 81.5,79.3 81.0,77.5 C80.6,75.7 80.4,72.5 80.5,70.1 C80.6,67.8 81.2,65.6 81.6,63.7 C82.0,61.7 82.5,59.9 83.1,58.7 C83.6,57.5 84.4,57.1 85.1,56.7 C85.7,56.2 86.5,55.9 87.2,56.2 C87.9,56.4 88.7,56.9 89.3,58.2 C89.8,59.5 90.1,61.8 90.5,63.8 C90.8,65.8 91.2,69.1 91.4,70.1 Z" fill="none" stroke="#2a2a2a" stroke-width="0.55"/>
<path d="M90.4,69.6 C90.3,70.6 90.3,74.0 89.9,75.4 C89.6,76.9 88.8,77.7 88.3,78.5 C87.7,79.3 87.3,79.5 86.7,80.1 C86.2,80.8 85.6,82.2 85.0,82.2 C84.4,82.3 83.6,81.5 83.1,80.5 C82.5,79.4 81.9,77.6 81.7,75.8 C81.4,74.0 81.4,71.5 81.5,69.6 C81.7,67.8 82.2,66.3 82.5,64.7 C82.9,63.2 83.0,61.6 83.4,60.3 C83.9,59.1 84.4,57.7 85.0,57.3 C85.5,56.9 86.2,57.4 86.8,57.7 C87.4,58.1 88.1,58.3 88.7,59.3 C89.2,60.4 89.7,62.1 90.0,63.8 C90.3,65.5 90.3,68.7 90.4,69.6 Z" fill="none" stroke="#2a2a2a" stroke-width="0.55"/>
<path d="M89.2,69.3 C89.2,70.0 89.0,72.2 88.8,73.5 C88.6,74.8 88.4,76.3 88.0,77.2 C87.6,78.1 87.1,78.4 86.6,78.8 C86.1,79.3 85.6,80.0 85.1,80.0 C84.5,80.0 83.8,79.7 83.4,78.7 C83.0,77.6 82.8,75.4 82.7,73.9 C82.6,72.3 82.6,70.7 82.7,69.3 C82.8,67.8 83.0,66.5 83.2,65.3 C83.4,64.0 83.6,63.0 83.9,61.8 C84.2,60.6 84.6,58.7 85.1,58.1 C85.5,57.5 86.2,57.6 86.7,58.1 C87.3,58.6 87.7,60.0 88.1,61.1 C88.4,62.2 88.9,63.3 89.1,64.7 C89.3,66.0 89.2,68.5 89.2,69.3 Z" fill="none" stroke="#2a2a2a" stroke-width="0.55"/>
<path d="M88.4,70.1 C88.4,70.7 88.5,72.5 88.4,73.7 C88.3,75.0 88.1,76.7 87.8,77.5 C87.5,78.3 86.9,78.6 86.5,78.6 C86.1,78.5 85.7,77.7 85.3,77.3 C85.0,76.8 84.6,76.6 84.3,75.9 C84.0,75.3 83.8,74.4 83.6,73.4 C83.4,72.4 83.2,71.3 83.2,70.1 C83.1,69.0 83.1,67.4 83.3,66.4 C83.4,65.3 83.8,64.5 84.2,63.8 C84.5,63.0 84.9,62.2 85.2,61.9 C85.6,61.6 86.1,61.4 86.5,61.8 C86.9,62.2 87.2,63.4 87.4,64.3 C87.7,65.2 87.9,66.0 88.1,67.0 C88.2,68.0 88.4,69.6 88.4,70.1 Z" fill="none" stroke="#2a2a2a" stroke-width="0.55"/>
<path d="M88.3,70.2 C88.3,70.7 88.2,72.1 88.0,72.8 C87.9,73.5 87.6,74.1 87.4,74.4 C87.1,74.8 86.9,74.7 86.6,74.9 C86.3,75.1 86.1,75.6 85.8,75.7 C85.6,75.8 85.1,75.8 84.9,75.3 C84.7,74.8 84.5,73.8 84.4,72.9 C84.3,72.1 84.2,71.1 84.2,70.2 C84.3,69.4 84.4,68.5 84.6,67.8 C84.7,67.1 84.9,66.6 85.2,66.1 C85.4,65.6 85.6,64.8 85.8,64.6 C86.1,64.4 86.4,64.6 86.7,64.8 C86.9,65.0 87.2,65.4 87.4,65.9 C87.7,66.3 88.0,66.7 88.2,67.5 C88.3,68.2 88.3,69.8 88.3,70.2 Z" fill="none" stroke="#2a2a2a" stroke-width="0.55"/>
<path d="M87.2,70.7 C87.2,71.0 87.1,71.7 87.1,72.2 C87.0,72.7 87.0,73.4 86.9,73.8 C86.7,74.1 86.5,74.5 86.3,74.5 C86.2,74.6 86.0,74.2 85.8,74.0 C85.7,73.7 85.5,73.5 85.4,73.2 C85.3,72.8 85.2,72.5 85.1,72.1 C85.0,71.7 85.0,71.2 84.9,70.7 C84.9,70.2 84.8,69.5 84.9,69.0 C84.9,68.5 85.1,68.1 85.3,67.9 C85.4,67.6 85.6,67.5 85.8,67.4 C86.0,67.3 86.2,67.2 86.3,67.4 C86.5,67.5 86.6,67.9 86.7,68.2 C86.8,68.5 87.0,68.9 87.0,69.3 C87.1,69.7 87.2,70.5 87.2,70.7 Z" fill="none" stroke="#2a2a2a" stroke-width="0.55"/>
<path d="M96.4,72.0 C96.4,73.0 96.6,76.3 96.4,78.1 C96.2,79.9 95.8,81.6 95.3,82.9 C94.9,84.1 94.3,85.3 93.8,85.6 C93.3,85.8 92.7,85.0 92.2,84.3 C91.8,83.6 91.3,82.7 90.9,81.6 C90.5,80.5 90.0,79.2 89.9,77.6 C89.7,76.0 89.8,73.8 89.8,72.0 C89.8,70.2 89.8,68.4 90.0,66.6 C90.1,64.7 90.3,62.3 90.6,60.9 C91.0,59.5 91.6,58.6 92.2,58.2 C92.7,57.8 93.3,57.7 93.8,58.4 C94.3,59.1 94.8,60.9 95.1,62.4 C95.3,63.9 95.4,65.8 95.6,67.4 C95.8,69.0 96.3,71.2 96.4,72.0 Z" fill="#c0c0c0"/>
<path d="M96.6,72.2 C96.6,73.2 96.7,76.5 96.5,78.3 C96.2,80.0 95.8,81.6 95.3,82.7 C94.9,83.8 94.3,84.7 93.8,84.9 C93.3,85.2 92.8,84.9 92.3,84.2 C91.9,83.5 91.6,81.9 91.2,80.8 C90.8,79.7 90.3,79.1 90.0,77.7 C89.6,76.3 89.2,74.1 89.1,72.2 C89.0,70.2 89.3,67.8 89.6,66.0 C89.9,64.2 90.3,62.5 90.8,61.6 C91.2,60.7 91.8,60.6 92.3,60.6 C92.8,60.5 93.2,60.9 93.7,61.1 C94.2,61.3 94.8,61.0 95.3,61.9 C95.7,62.8 96.0,64.7 96.3,66.4 C96.5,68.2 96.5,71.2 96.6,72.2 Z" fill="none" stroke="#2a2a2a" stroke-width="0.55"/>
<path d="M96.0,71.9 C95.9,72.7 95.8,75.5 95.6,76.7 C95.3,77.9 94.8,78.4 94.4,79.1 C94.1,79.8 93.8,80.5 93.5,80.9 C93.1,81.3 92.7,81.8 92.3,81.5 C91.9,81.3 91.6,80.4 91.3,79.6 C90.9,78.7 90.5,77.8 90.3,76.5 C90.1,75.2 90.1,73.4 90.1,71.9 C90.1,70.4 90.2,68.8 90.4,67.3 C90.5,65.9 90.7,64.1 91.1,63.4 C91.4,62.6 91.9,62.6 92.3,62.6 C92.7,62.7 93.0,63.2 93.4,63.5 C93.8,63.8 94.2,63.7 94.5,64.3 C94.9,64.9 95.2,66.0 95.5,67.3 C95.7,68.6 95.9,71.1 96.0,71.9 Z" fill="none" stroke="#2a2a2a" stroke-width="0.55"/>
<path d="M94.8,72.7 C94.7,73.2 94.7,74.7 94.6,75.7 C94.5,76.8 94.4,78.0 94.2,78.9 C94.0,79.7 93.7,80.8 93.4,80.9 C93.1,81.0 92.7,80.2 92.5,79.7 C92.2,79.2 92.0,78.5 91.8,77.8 C91.6,77.1 91.5,76.4 91.3,75.5 C91.2,74.7 91.1,73.8 91.1,72.7 C91.0,71.7 90.9,70.3 91.0,69.3 C91.1,68.3 91.3,67.2 91.6,66.6 C91.8,66.0 92.2,66.0 92.5,65.8 C92.8,65.6 93.1,65.3 93.3,65.5 C93.6,65.8 93.9,66.5 94.1,67.2 C94.3,68.0 94.4,68.9 94.5,69.8 C94.6,70.7 94.7,72.3 94.8,72.7 Z" fill="none" stroke="#2a2a2a" stroke-width="0.55"/>
<path d="M94.7,72.0 C94.6,72.3 94.5,73.4 94.4,73.8 C94.3,74.3 94.1,74.5 94.0,74.8 C93.9,75.1 93.8,75.6 93.6,75.9 C93.5,76.2 93.3,76.5 93.1,76.5 C92.9,76.4 92.8,76.0 92.6,75.6 C92.5,75.2 92.3,74.6 92.2,74.0 C92.2,73.4 92.2,72.6 92.2,72.0 C92.2,71.4 92.3,70.8 92.4,70.2 C92.5,69.6 92.5,69.0 92.7,68.6 C92.8,68.2 93.0,68.2 93.1,68.1 C93.3,68.0 93.5,68.0 93.6,68.1 C93.8,68.1 94.0,68.1 94.2,68.4 C94.3,68.7 94.5,69.3 94.5,69.9 C94.6,70.5 94.6,71.7 94.7,72.0 Z" fill="none" stroke="#2a2a2a" stroke-width="0.55"/>
<path d="M87.1,58.7 C87.0,58.9 86.9,59.6 86.6,59.9 C86.4,60.3 86.1,60.6 85.7,60.8 C85.4,61.0 85.0,61.0 84.6,61.2 C84.2,61.3 83.8,61.6 83.3,61.7 C82.8,61.7 82.2,61.6 81.8,61.4 C81.5,61.1 81.2,60.5 81.1,60.1 C81.0,59.6 80.9,59.1 81.0,58.7 C81.1,58.2 81.3,57.8 81.6,57.5 C81.8,57.1 82.0,56.9 82.3,56.6 C82.6,56.2 82.9,55.8 83.3,55.6 C83.7,55.5 84.2,55.6 84.7,55.7 C85.1,55.8 85.5,56.0 85.9,56.3 C86.3,56.5 86.7,56.9 86.9,57.2 C87.1,57.6 87.0,58.4 87.1,58.7 Z" fill="none" stroke="#2a2a2a" stroke-width="0.55"/>
<path d="M85.5,58.7 C85.5,58.8 85.6,59.2 85.6,59.4 C85.5,59.7 85.3,60.0 85.1,60.2 C84.9,60.4 84.7,60.6 84.4,60.6 C84.1,60.7 83.8,60.6 83.5,60.5 C83.3,60.4 83.1,60.2 82.9,60.0 C82.7,59.8 82.5,59.7 82.3,59.4 C82.2,59.2 82.2,58.9 82.2,58.7 C82.3,58.4 82.4,58.2 82.5,58.0 C82.6,57.7 82.6,57.4 82.8,57.2 C83.0,57.0 83.3,56.9 83.5,56.8 C83.8,56.7 84.1,56.7 84.4,56.7 C84.7,56.8 85.0,57.0 85.2,57.2 C85.3,57.4 85.3,57.7 85.4,58.0 C85.4,58.2 85.5,58.6 85.5,58.7 Z" fill="none" stroke="#2a2a2a" stroke-width="0.55"/>
<path d="M91.4,57.6 C91.4,57.8 91.4,58.4 91.3,58.7 C91.2,59.1 91.1,59.6 90.8,59.9 C90.5,60.1 90.0,60.4 89.7,60.4 C89.3,60.4 88.8,60.1 88.5,59.9 C88.2,59.7 87.9,59.6 87.6,59.4 C87.4,59.2 87.0,59.0 86.9,58.7 C86.7,58.4 86.6,58.0 86.6,57.6 C86.5,57.3 86.5,56.8 86.6,56.5 C86.8,56.1 87.1,55.8 87.4,55.6 C87.7,55.4 88.1,55.3 88.5,55.2 C88.8,55.1 89.3,54.9 89.6,55.0 C90.0,55.1 90.3,55.5 90.5,55.8 C90.8,56.0 90.8,56.4 91.0,56.7 C91.1,57.0 91.3,57.5 91.4,57.6 Z" fill="none" stroke="#2a2a2a" stroke-width="0.55"/>
<path d="M90.3,57.4 C90.3,57.6 90.3,57.9 90.2,58.1 C90.2,58.3 90.0,58.6 89.8,58.7 C89.6,58.8 89.4,58.9 89.1,58.9 C88.9,58.9 88.7,59.0 88.5,58.9 C88.3,58.9 88.0,58.7 87.9,58.6 C87.8,58.4 87.7,58.2 87.6,58.0 C87.6,57.8 87.4,57.7 87.4,57.4 C87.3,57.2 87.3,57.0 87.4,56.7 C87.4,56.5 87.6,56.3 87.8,56.1 C88.0,56.0 88.2,55.8 88.4,55.8 C88.7,55.8 88.9,56.0 89.1,56.1 C89.3,56.2 89.4,56.3 89.6,56.4 C89.8,56.6 90.0,56.6 90.1,56.8 C90.3,57.0 90.3,57.3 90.3,57.4 Z" fill="none" stroke="#2a2a2a" stroke-width="0.55"/>
<path d="M102.7,77.2 C102.7,77.8 102.6,79.6 102.4,80.8 C102.3,81.9 102.1,83.0 101.8,84.0 C101.5,85.0 101.1,86.4 100.7,86.8 C100.3,87.2 99.7,86.7 99.3,86.3 C98.9,85.9 98.5,85.2 98.1,84.4 C97.7,83.5 97.3,82.6 97.1,81.4 C96.9,80.2 97.0,78.5 97.1,77.2 C97.1,75.9 97.3,74.7 97.5,73.6 C97.7,72.6 97.9,71.5 98.2,70.7 C98.6,69.9 98.9,69.5 99.3,68.9 C99.8,68.3 100.3,67.3 100.7,67.4 C101.2,67.4 101.8,68.1 102.1,69.1 C102.4,70.1 102.5,72.1 102.6,73.4 C102.7,74.8 102.7,76.6 102.7,77.2 Z" fill="none" stroke="#2a2a2a" stroke-width="0.55"/>
<path d="M102.5,76.7 C102.4,77.1 102.1,78.4 101.9,79.1 C101.7,79.8 101.6,80.4 101.4,81.0 C101.2,81.7 101.0,82.5 100.7,82.9 C100.4,83.3 100.0,83.5 99.7,83.4 C99.4,83.3 98.9,83.0 98.7,82.4 C98.4,81.8 98.3,80.5 98.2,79.6 C98.1,78.6 98.3,77.6 98.3,76.7 C98.3,75.8 98.2,74.8 98.3,74.0 C98.4,73.2 98.7,72.4 98.9,71.8 C99.1,71.3 99.5,70.9 99.8,70.7 C100.0,70.4 100.4,70.0 100.7,70.2 C101.0,70.3 101.3,70.9 101.6,71.4 C101.9,72.0 102.1,72.8 102.3,73.7 C102.4,74.5 102.5,76.2 102.5,76.7 Z" fill="none" stroke="#2a2a2a" stroke-width="0.55"/>
<path d="M101.3,76.9 C101.3,77.2 101.2,78.1 101.2,78.6 C101.1,79.1 101.0,79.7 100.8,80.0 C100.7,80.3 100.5,80.3 100.3,80.4 C100.1,80.5 99.9,80.5 99.8,80.5 C99.6,80.4 99.4,80.3 99.2,80.0 C99.0,79.7 98.9,79.2 98.8,78.7 C98.7,78.2 98.5,77.5 98.6,76.9 C98.6,76.4 98.7,75.7 98.8,75.2 C99.0,74.8 99.2,74.7 99.3,74.4 C99.5,74.1 99.6,73.7 99.8,73.5 C99.9,73.3 100.1,73.2 100.3,73.2 C100.5,73.3 100.7,73.4 100.9,73.7 C101.0,74.0 101.2,74.5 101.3,75.1 C101.4,75.6 101.3,76.6 101.3,76.9 Z" fill="none" stroke="#2a2a2a" stroke-width="0.55"/>
<path d="M108.3,75.0 C108.2,75.8 108.1,78.2 107.9,79.6 C107.7,81.0 107.4,82.5 107.0,83.3 C106.6,84.1 106.1,84.4 105.7,84.6 C105.2,84.7 104.8,84.6 104.4,84.3 C103.9,84.0 103.4,83.7 103.1,82.8 C102.8,81.9 102.7,80.2 102.5,79.0 C102.4,77.7 102.2,76.5 102.1,75.0 C102.0,73.5 101.9,71.6 102.0,70.2 C102.2,68.8 102.6,67.3 102.9,66.4 C103.3,65.5 103.8,64.8 104.3,64.7 C104.7,64.6 105.2,65.3 105.6,65.9 C106.0,66.5 106.2,67.7 106.5,68.5 C106.9,69.4 107.4,69.7 107.6,70.8 C107.9,71.8 108.2,74.3 108.3,75.0 Z" fill="#ccc"/>
<path d="M108.2,75.6 C108.1,76.3 108.2,78.7 108.0,79.9 C107.9,81.2 107.4,82.2 107.1,83.0 C106.7,83.7 106.4,84.0 105.9,84.5 C105.5,85.0 105.1,86.0 104.6,85.9 C104.2,85.9 103.6,85.2 103.3,84.2 C102.9,83.3 102.6,81.8 102.4,80.3 C102.2,78.9 102.2,77.0 102.3,75.6 C102.4,74.2 102.9,73.2 103.1,72.0 C103.3,70.8 103.4,69.7 103.6,68.6 C103.9,67.5 104.2,65.8 104.6,65.3 C105.0,64.7 105.6,64.9 106.0,65.2 C106.5,65.6 107.0,66.2 107.3,67.2 C107.7,68.2 107.9,69.8 108.1,71.2 C108.2,72.6 108.2,74.9 108.2,75.6 Z" fill="none" stroke="#2a2a2a" stroke-width="0.55"/>
<path d="M106.8,75.1 C106.8,75.6 106.7,76.8 106.6,77.8 C106.5,78.7 106.5,80.1 106.3,81.0 C106.2,81.8 105.8,82.6 105.5,82.8 C105.2,83.1 104.7,82.9 104.4,82.6 C104.1,82.3 103.8,81.6 103.6,80.9 C103.4,80.1 103.3,78.9 103.2,77.9 C103.1,77.0 102.9,76.1 102.9,75.1 C102.9,74.1 102.9,72.9 103.0,72.0 C103.1,71.1 103.4,70.5 103.7,69.9 C103.9,69.2 104.2,68.4 104.5,68.0 C104.8,67.6 105.2,67.2 105.5,67.4 C105.8,67.6 106.1,68.5 106.4,69.2 C106.6,70.0 106.8,71.0 106.9,72.0 C107.0,73.0 106.8,74.6 106.8,75.1 Z" fill="none" stroke="#2a2a2a" stroke-width="0.55"/>
<path d="M106.7,74.8 C106.6,75.1 106.6,76.1 106.5,76.7 C106.4,77.2 106.2,77.7 106.1,78.0 C105.9,78.4 105.8,78.7 105.6,78.8 C105.4,78.9 105.3,78.7 105.1,78.6 C104.9,78.5 104.7,78.5 104.5,78.3 C104.3,78.0 104.1,77.5 104.0,77.0 C103.9,76.4 103.9,75.5 104.0,74.8 C104.0,74.2 104.1,73.5 104.2,73.0 C104.3,72.5 104.5,72.2 104.6,71.9 C104.8,71.5 104.9,71.4 105.1,71.1 C105.2,70.9 105.4,70.4 105.6,70.4 C105.8,70.4 106.1,70.8 106.2,71.2 C106.3,71.6 106.4,72.3 106.5,72.9 C106.6,73.5 106.6,74.5 106.7,74.8 Z" fill="none" stroke="#2a2a2a" stroke-width="0.55"/>
<path d="M114.2,80.5 C114.2,81.0 114.4,82.5 114.3,83.4 C114.2,84.3 114.0,85.4 113.6,85.9 C113.3,86.4 112.8,86.2 112.4,86.2 C112.0,86.2 111.7,86.1 111.3,85.8 C111.0,85.6 110.7,85.2 110.5,84.7 C110.2,84.2 109.9,83.7 109.7,83.0 C109.4,82.3 109.1,81.4 109.0,80.5 C109.0,79.6 109.2,78.6 109.5,77.8 C109.7,77.0 110.0,76.4 110.3,75.8 C110.6,75.3 110.9,74.6 111.3,74.5 C111.6,74.3 112.0,74.7 112.4,74.9 C112.7,75.2 113.0,75.6 113.3,76.1 C113.6,76.7 113.8,77.3 114.0,78.1 C114.1,78.8 114.2,80.1 114.2,80.5 Z" fill="none" stroke="#2a2a2a" stroke-width="0.55"/>
<path d="M113.3,79.7 C113.3,79.9 113.4,80.7 113.3,81.2 C113.2,81.7 113.1,82.2 112.9,82.6 C112.8,83.0 112.5,83.4 112.3,83.5 C112.1,83.6 111.8,83.4 111.6,83.2 C111.4,83.0 111.2,82.7 111.0,82.4 C110.9,82.1 110.6,81.7 110.6,81.2 C110.5,80.8 110.6,80.2 110.6,79.7 C110.6,79.2 110.6,78.7 110.7,78.2 C110.8,77.7 110.8,77.2 111.0,76.8 C111.1,76.4 111.4,76.1 111.6,75.9 C111.8,75.7 112.1,75.5 112.3,75.7 C112.5,75.8 112.8,76.3 112.9,76.8 C113.0,77.2 113.0,77.9 113.1,78.3 C113.2,78.8 113.3,79.4 113.3,79.7 Z" fill="none" stroke="#2a2a2a" stroke-width="0.55"/>
<path d="M117.1,58.1 C117.0,58.2 116.9,58.7 116.8,58.9 C116.7,59.1 116.6,59.2 116.5,59.4 C116.4,59.6 116.3,59.9 116.2,60.0 C116.1,60.1 115.9,60.2 115.7,60.2 C115.6,60.1 115.4,60.0 115.3,59.8 C115.2,59.6 115.1,59.3 115.0,59.0 C115.0,58.7 115.0,58.4 115.1,58.1 C115.1,57.8 115.1,57.5 115.1,57.3 C115.2,57.0 115.3,56.7 115.4,56.5 C115.5,56.4 115.6,56.3 115.8,56.3 C115.9,56.2 116.1,56.1 116.2,56.1 C116.4,56.1 116.5,56.2 116.6,56.4 C116.8,56.6 116.9,56.9 116.9,57.1 C117.0,57.4 117.0,57.9 117.1,58.1 Z" fill="none" stroke="#2a2a2a" stroke-width="0.55"/>
<path d="M133.8,70.0 C133.8,71.2 133.7,74.8 133.6,76.9 C133.5,79.0 133.2,80.9 133.0,82.7 C132.7,84.4 132.4,86.7 132.1,87.4 C131.7,88.1 131.3,87.7 130.9,87.0 C130.6,86.4 130.2,85.1 129.9,83.6 C129.6,82.1 129.2,80.4 129.0,78.1 C128.9,75.8 128.9,72.4 129.0,70.0 C129.1,67.6 129.3,65.5 129.5,63.5 C129.7,61.4 129.8,59.4 130.1,57.8 C130.3,56.2 130.6,55.1 131.0,54.0 C131.3,52.9 131.7,51.3 132.1,51.4 C132.5,51.5 133.0,52.8 133.3,54.7 C133.6,56.6 133.6,60.3 133.7,62.9 C133.8,65.4 133.8,68.8 133.8,70.0 Z" fill="#777"/>
<path d="M133.5,70.5 C133.5,71.7 133.5,75.2 133.4,77.5 C133.3,79.8 133.1,82.2 132.9,84.3 C132.6,86.3 132.3,89.1 131.9,89.7 C131.6,90.4 131.0,89.5 130.7,88.3 C130.3,87.1 130.1,84.4 129.9,82.6 C129.6,80.8 129.3,79.5 129.2,77.5 C129.0,75.4 128.9,72.9 128.9,70.5 C128.9,68.2 129.0,65.6 129.1,63.3 C129.2,61.0 129.4,58.2 129.6,56.6 C129.9,55.0 130.3,54.3 130.7,53.7 C131.1,53.0 131.5,52.5 131.9,52.9 C132.3,53.3 132.7,54.3 133.0,56.1 C133.2,57.9 133.3,61.4 133.3,63.8 C133.4,66.2 133.4,69.4 133.5,70.5 Z" fill="none" stroke="#2a2a2a" stroke-width="0.55"/>
<path d="M133.4,70.8 C133.4,71.7 133.5,74.6 133.4,76.4 C133.3,78.1 133.1,79.9 132.9,81.1 C132.7,82.4 132.4,83.8 132.1,83.9 C131.9,84.0 131.5,82.9 131.3,82.0 C131.1,81.1 131.0,79.7 130.8,78.6 C130.6,77.6 130.3,77.1 130.1,75.8 C130.0,74.5 129.9,72.6 129.8,70.8 C129.8,69.0 129.8,66.8 129.9,65.1 C130.1,63.4 130.2,61.4 130.5,60.5 C130.7,59.5 131.0,59.5 131.3,59.3 C131.6,59.1 131.8,58.9 132.1,59.2 C132.3,59.5 132.6,60.2 132.8,61.3 C133.0,62.4 133.0,64.4 133.1,66.0 C133.2,67.6 133.3,70.0 133.4,70.8 Z" fill="none" stroke="#2a2a2a" stroke-width="0.55"/>
<path d="M132.7,69.6 C132.7,70.1 132.8,71.7 132.7,72.6 C132.7,73.6 132.6,74.7 132.5,75.3 C132.3,76.0 132.2,76.2 132.0,76.5 C131.9,76.8 131.7,77.3 131.5,77.1 C131.4,77.0 131.2,76.4 131.1,75.7 C130.9,75.0 130.8,73.8 130.8,72.8 C130.7,71.8 130.7,70.5 130.7,69.6 C130.8,68.6 130.9,67.7 131.0,66.9 C131.0,66.0 131.1,65.2 131.2,64.4 C131.3,63.5 131.4,62.1 131.5,61.7 C131.7,61.2 131.9,61.4 132.0,61.7 C132.2,62.0 132.4,62.7 132.5,63.5 C132.6,64.3 132.7,65.5 132.7,66.5 C132.8,67.5 132.7,69.0 132.7,69.6 Z" fill="none" stroke="#2a2a2a" stroke-width="0.55"/>
<path d="M138.3,70.0 C138.2,71.4 138.2,76.1 138.0,78.3 C137.8,80.4 137.3,81.6 137.0,82.8 C136.7,84.0 136.4,85.0 136.0,85.6 C135.7,86.2 135.3,86.9 135.0,86.4 C134.6,85.8 134.3,83.9 134.0,82.4 C133.8,80.9 133.5,79.3 133.3,77.3 C133.1,75.2 132.9,72.5 132.9,70.0 C132.9,67.5 133.0,64.7 133.1,62.2 C133.3,59.7 133.4,56.5 133.7,55.1 C134.1,53.6 134.6,53.4 134.9,53.6 C135.3,53.8 135.6,55.4 136.0,56.1 C136.3,56.8 136.6,56.7 136.9,57.8 C137.2,58.8 137.5,60.5 137.8,62.6 C138.0,64.6 138.2,68.8 138.3,70.0 Z" fill="#888"/>
<path d="M137.9,70.2 C137.8,71.4 137.7,75.5 137.5,77.6 C137.3,79.6 136.9,81.3 136.6,82.4 C136.4,83.4 136.0,83.3 135.7,84.1 C135.4,84.9 135.0,86.7 134.7,86.9 C134.3,87.1 133.8,86.8 133.4,85.3 C133.1,83.8 132.9,80.6 132.8,78.1 C132.7,75.6 132.6,72.6 132.7,70.2 C132.7,67.7 132.9,65.3 133.1,63.3 C133.3,61.3 133.5,59.7 133.8,58.0 C134.1,56.4 134.3,54.1 134.7,53.4 C135.0,52.8 135.4,53.4 135.8,54.0 C136.1,54.6 136.4,55.7 136.8,57.0 C137.1,58.3 137.5,59.8 137.7,62.0 C137.9,64.2 137.9,68.8 137.9,70.2 Z" fill="none" stroke="#2a2a2a" stroke-width="0.55"/>
<path d="M137.1,69.4 C137.1,70.3 137.0,73.5 136.8,75.0 C136.7,76.4 136.3,77.0 136.1,77.8 C135.9,78.6 135.7,79.4 135.5,79.9 C135.3,80.4 135.0,80.7 134.8,80.6 C134.5,80.6 134.2,80.3 134.0,79.5 C133.7,78.6 133.4,77.2 133.3,75.5 C133.2,73.8 133.2,71.2 133.3,69.4 C133.4,67.5 133.5,66.1 133.7,64.5 C133.8,63.0 133.9,61.3 134.1,60.3 C134.3,59.2 134.5,58.7 134.8,58.2 C135.0,57.8 135.3,57.4 135.5,57.6 C135.8,57.8 136.1,58.5 136.3,59.5 C136.5,60.6 136.6,62.4 136.8,64.0 C136.9,65.7 137.0,68.5 137.1,69.4 Z" fill="none" stroke="#2a2a2a" stroke-width="0.55"/>
<path d="M136.6,70.4 C136.6,70.9 136.6,72.6 136.5,73.6 C136.5,74.6 136.4,75.9 136.3,76.6 C136.2,77.2 136.0,77.6 135.8,77.7 C135.6,77.9 135.5,77.7 135.3,77.5 C135.2,77.2 135.0,77.0 134.9,76.3 C134.8,75.6 134.7,74.3 134.7,73.3 C134.6,72.3 134.6,71.4 134.6,70.4 C134.6,69.4 134.6,68.2 134.6,67.2 C134.6,66.2 134.7,65.1 134.8,64.3 C135.0,63.5 135.1,62.5 135.3,62.3 C135.4,62.1 135.7,62.3 135.8,62.9 C136.0,63.4 136.0,64.7 136.1,65.5 C136.2,66.2 136.3,66.7 136.4,67.5 C136.5,68.4 136.6,69.9 136.6,70.4 Z" fill="none" stroke="#2a2a2a" stroke-width="0.55"/>
<path d="M150.7,79.2 C150.6,79.6 150.5,80.9 150.4,81.6 C150.3,82.4 150.1,83.2 149.9,83.7 C149.7,84.2 149.5,84.5 149.2,84.7 C149.0,84.8 148.7,84.7 148.5,84.7 C148.2,84.7 147.8,84.8 147.6,84.4 C147.4,84.0 147.1,83.0 147.0,82.1 C146.9,81.2 147.0,80.0 147.1,79.2 C147.1,78.3 147.2,77.4 147.4,76.8 C147.5,76.1 147.7,75.7 147.9,75.2 C148.1,74.6 148.2,73.9 148.5,73.5 C148.7,73.1 149.0,72.5 149.3,72.6 C149.6,72.7 149.8,73.6 150.0,74.2 C150.2,74.9 150.4,75.7 150.5,76.5 C150.6,77.3 150.6,78.7 150.7,79.2 Z" fill="none" stroke="#2a2a2a" stroke-width="0.55"/>
<path d="M149.8,79.3 C149.7,79.6 149.7,80.4 149.6,80.9 C149.6,81.4 149.5,82.1 149.4,82.4 C149.3,82.7 149.0,82.8 148.9,82.8 C148.7,82.8 148.6,82.6 148.4,82.5 C148.3,82.3 148.1,82.2 148.0,81.9 C147.9,81.6 147.8,81.2 147.7,80.8 C147.6,80.4 147.5,79.9 147.4,79.3 C147.4,78.8 147.4,78.0 147.5,77.5 C147.6,77.0 147.8,76.8 148.0,76.6 C148.1,76.3 148.3,76.2 148.4,76.1 C148.6,76.0 148.7,76.0 148.9,76.1 C149.0,76.2 149.1,76.4 149.3,76.6 C149.4,76.9 149.6,77.2 149.7,77.7 C149.8,78.1 149.7,79.0 149.8,79.3 Z" fill="none" stroke="#2a2a2a" stroke-width="0.55"/>
<path d="M243.3,77.1 C243.3,77.2 243.2,77.5 243.1,77.7 C243.1,77.9 243.0,78.0 242.9,78.2 C242.8,78.3 242.7,78.4 242.5,78.5 C242.4,78.6 242.2,78.7 242.1,78.7 C241.9,78.7 241.7,78.6 241.6,78.4 C241.5,78.3 241.5,77.9 241.5,77.7 C241.4,77.5 241.4,77.3 241.4,77.1 C241.4,76.9 241.4,76.7 241.5,76.5 C241.5,76.3 241.6,76.1 241.7,76.0 C241.8,75.8 241.9,75.6 242.1,75.5 C242.2,75.4 242.4,75.5 242.6,75.6 C242.7,75.6 242.8,75.8 243.0,75.9 C243.1,76.1 243.2,76.2 243.3,76.4 C243.3,76.6 243.3,77.0 243.3,77.1 Z" fill="none" stroke="#2a2a2a" stroke-width="0.55"/>
<path d="M271.2,77.4 C271.0,78.0 270.4,80.1 269.9,81.1 C269.4,82.1 268.7,82.8 268.1,83.6 C267.5,84.4 266.8,85.3 266.1,85.7 C265.3,86.2 264.4,86.3 263.5,86.3 C262.5,86.2 261.3,86.2 260.5,85.5 C259.7,84.7 259.0,83.1 258.8,81.8 C258.6,80.4 259.1,78.7 259.3,77.4 C259.5,76.1 259.6,75.0 259.9,73.9 C260.3,72.8 260.7,71.6 261.3,70.7 C261.9,69.9 262.7,69.2 263.5,68.7 C264.3,68.3 265.4,67.7 266.2,67.9 C267.1,68.1 268.0,69.2 268.7,70.1 C269.3,71.1 269.9,72.2 270.3,73.4 C270.7,74.7 271.0,76.7 271.2,77.4 Z" fill="none" stroke="#2a2a2a" stroke-width="0.55"/>
<path d="M269.2,77.4 C269.1,77.9 269.2,79.4 269.0,80.3 C268.8,81.2 268.3,82.3 267.8,82.8 C267.3,83.3 266.4,83.3 265.8,83.3 C265.2,83.4 264.6,83.3 264.0,83.1 C263.5,82.8 263.0,82.4 262.5,81.9 C262.0,81.4 261.5,80.9 261.1,80.1 C260.7,79.4 260.0,78.3 259.9,77.4 C259.8,76.4 260.2,75.1 260.6,74.3 C261.0,73.5 261.8,73.1 262.4,72.6 C262.9,72.1 263.4,71.7 264.0,71.5 C264.6,71.3 265.2,71.5 265.8,71.6 C266.4,71.8 267.0,72.0 267.5,72.4 C268.1,72.9 268.7,73.6 269.0,74.4 C269.2,75.3 269.1,76.9 269.2,77.4 Z" fill="none" stroke="#2a2a2a" stroke-width="0.55"/>
<path d="M267.4,77.3 C267.4,77.6 267.4,78.6 267.3,79.2 C267.1,79.7 266.7,80.3 266.4,80.5 C266.0,80.8 265.6,80.6 265.2,80.7 C264.8,80.7 264.5,80.8 264.1,80.7 C263.8,80.7 263.4,80.6 263.1,80.3 C262.8,79.9 262.6,79.4 262.4,78.9 C262.3,78.4 262.1,77.8 262.0,77.3 C262.0,76.7 262.1,76.0 262.2,75.5 C262.4,75.0 262.7,74.5 263.0,74.1 C263.3,73.7 263.7,73.3 264.1,73.2 C264.4,73.2 264.9,73.5 265.2,73.8 C265.5,74.0 265.7,74.4 266.0,74.7 C266.3,75.0 266.7,75.2 266.9,75.6 C267.2,76.1 267.3,77.0 267.4,77.3 Z" fill="none" stroke="#2a2a2a" stroke-width="0.55"/>
<path d="M271.1,72.0 C271.1,72.6 271.0,74.6 270.9,75.7 C270.8,76.8 270.6,78.1 270.3,78.7 C270.1,79.3 269.7,79.1 269.4,79.1 C269.1,79.0 268.9,78.7 268.6,78.6 C268.4,78.4 268.0,78.7 267.8,78.2 C267.5,77.7 267.2,76.8 267.1,75.7 C266.9,74.7 266.8,73.2 266.8,72.0 C266.8,70.8 266.9,69.3 267.1,68.3 C267.3,67.4 267.6,67.0 267.9,66.4 C268.1,65.8 268.3,65.0 268.6,64.7 C268.8,64.3 269.2,64.1 269.4,64.3 C269.7,64.5 270.0,65.3 270.2,66.0 C270.4,66.7 270.7,67.4 270.9,68.4 C271.0,69.4 271.1,71.4 271.1,72.0 Z" fill="#999"/>
<path d="M270.8,72.5 C270.8,73.1 270.9,75.1 270.8,76.2 C270.7,77.4 270.5,78.5 270.2,79.3 C270.0,80.1 269.6,80.9 269.3,81.0 C269.0,81.0 268.7,80.2 268.4,79.7 C268.2,79.1 268.1,78.3 267.8,77.7 C267.6,77.0 267.3,76.7 267.1,75.9 C266.9,75.0 266.8,73.7 266.7,72.5 C266.7,71.3 266.8,69.8 266.9,68.7 C267.0,67.6 267.3,66.4 267.5,65.8 C267.8,65.1 268.1,65.1 268.4,65.0 C268.7,64.9 269.0,64.7 269.3,64.9 C269.6,65.1 269.9,65.5 270.1,66.3 C270.3,67.0 270.4,68.3 270.5,69.3 C270.6,70.4 270.8,72.0 270.8,72.5 Z" fill="none" stroke="#2a2a2a" stroke-width="0.55"/>
<path d="M269.9,72.7 C269.9,73.1 269.8,74.1 269.7,74.7 C269.7,75.3 269.5,75.6 269.4,76.1 C269.3,76.6 269.2,77.3 269.0,77.6 C268.8,77.9 268.6,78.0 268.4,77.9 C268.2,77.8 268.0,77.3 267.9,76.8 C267.8,76.3 267.7,75.5 267.6,74.8 C267.6,74.2 267.7,73.4 267.7,72.7 C267.7,72.1 267.7,71.5 267.8,70.9 C267.8,70.2 267.8,69.3 267.9,68.8 C268.0,68.2 268.3,67.9 268.4,67.7 C268.6,67.6 268.8,67.5 269.0,67.7 C269.2,67.9 269.4,68.4 269.5,68.9 C269.6,69.4 269.7,70.1 269.7,70.8 C269.8,71.4 269.9,72.4 269.9,72.7 Z" fill="none" stroke="#2a2a2a" stroke-width="0.55"/>
<path d="M265.1,84.3 C265.1,84.5 265.2,85.2 265.0,85.6 C264.9,86.0 264.5,86.5 264.0,86.8 C263.6,87.0 262.9,87.1 262.3,87.2 C261.7,87.3 261.0,87.5 260.4,87.4 C259.8,87.3 259.1,87.1 258.8,86.7 C258.4,86.4 258.3,85.9 258.1,85.4 C257.9,85.0 257.8,84.7 257.8,84.3 C257.7,83.9 257.8,83.4 258.0,83.0 C258.2,82.6 258.4,82.2 258.8,81.8 C259.2,81.4 259.7,80.9 260.3,80.8 C260.9,80.7 261.8,81.0 262.3,81.2 C262.9,81.4 263.2,81.8 263.6,82.1 C264.0,82.4 264.5,82.7 264.7,83.1 C265.0,83.4 265.1,84.1 265.1,84.3 Z" fill="none" stroke="#2a2a2a" stroke-width="0.55"/>
<path d="M280.5,70.0 C280.3,71.1 280.0,75.0 279.7,76.8 C279.4,78.7 279.0,80.0 278.7,81.2 C278.3,82.4 278.0,83.3 277.6,84.0 C277.2,84.6 276.8,84.9 276.4,84.9 C275.9,84.9 275.3,85.1 274.9,83.9 C274.5,82.7 274.2,79.9 274.1,77.5 C273.9,75.2 274.0,72.4 274.0,70.0 C274.1,67.6 274.1,64.9 274.2,62.9 C274.4,60.9 274.8,59.1 275.2,57.9 C275.5,56.7 276.0,56.0 276.4,55.5 C276.8,55.0 277.2,54.5 277.6,54.9 C278.0,55.3 278.4,56.7 278.8,58.0 C279.2,59.2 279.7,60.4 279.9,62.4 C280.2,64.4 280.4,68.7 280.5,70.0 Z" fill="#aaa"/>
<path d="M280.3,69.8 C280.2,71.0 280.2,75.3 280.0,77.1 C279.7,79.0 279.1,79.9 278.8,80.9 C278.4,81.8 278.0,82.1 277.7,82.9 C277.3,83.7 276.8,85.4 276.4,85.5 C276.0,85.6 275.5,84.6 275.1,83.3 C274.7,81.9 274.3,79.7 274.1,77.5 C273.9,75.2 273.9,72.1 273.9,69.8 C274.0,67.4 274.4,65.4 274.6,63.5 C274.9,61.5 275.0,59.4 275.3,57.8 C275.6,56.3 276.0,54.8 276.4,54.3 C276.8,53.8 277.3,54.6 277.7,55.1 C278.1,55.5 278.6,55.7 279.0,56.9 C279.4,58.1 279.8,60.2 280.0,62.3 C280.2,64.5 280.2,68.5 280.3,69.8 Z" fill="none" stroke="#2a2a2a" stroke-width="0.55"/>
<path d="M279.2,70.5 C279.2,71.3 279.1,73.7 279.0,75.2 C278.8,76.7 278.7,78.5 278.5,79.4 C278.2,80.3 277.9,80.4 277.6,80.7 C277.3,80.9 277.0,81.0 276.7,80.9 C276.4,80.9 276.0,81.0 275.7,80.1 C275.4,79.3 275.1,77.5 275.0,75.9 C274.9,74.3 274.8,72.2 274.8,70.5 C274.8,68.8 275.1,66.9 275.3,65.7 C275.5,64.5 275.8,64.1 276.0,63.1 C276.3,62.2 276.4,60.7 276.7,59.9 C276.9,59.2 277.3,58.4 277.6,58.6 C277.9,58.8 278.3,59.9 278.5,61.0 C278.8,62.1 279.1,63.6 279.2,65.1 C279.3,66.7 279.2,69.6 279.2,70.5 Z" fill="none" stroke="#2a2a2a" stroke-width="0.55"/>
<path d="M278.3,70.1 C278.3,70.6 278.2,72.0 278.1,72.8 C278.1,73.7 277.9,74.3 277.8,75.1 C277.7,75.9 277.6,77.2 277.4,77.6 C277.2,78.0 276.9,78.0 276.8,77.7 C276.6,77.3 276.4,76.3 276.3,75.5 C276.1,74.7 276.0,73.8 276.0,72.9 C275.9,72.0 276.0,71.1 276.0,70.1 C276.0,69.2 275.9,68.2 276.0,67.3 C276.0,66.3 276.1,64.9 276.2,64.2 C276.3,63.6 276.6,63.4 276.8,63.2 C277.0,63.0 277.2,63.0 277.4,63.2 C277.6,63.4 277.8,63.9 277.9,64.5 C278.0,65.2 278.1,66.3 278.2,67.3 C278.3,68.2 278.3,69.6 278.3,70.1 Z" fill="none" stroke="#2a2a2a" stroke-width="0.55"/>
<path d="M283.7,70.0 C283.7,71.3 283.7,75.7 283.6,77.8 C283.5,79.9 283.2,81.3 283.0,82.6 C282.8,83.9 282.6,85.2 282.4,85.6 C282.1,86.0 281.9,85.8 281.7,85.2 C281.4,84.5 281.2,83.0 281.1,81.7 C280.9,80.3 280.7,78.7 280.6,76.8 C280.5,74.9 280.5,72.3 280.5,70.0 C280.5,67.7 280.4,65.3 280.5,62.8 C280.6,60.4 280.7,57.0 280.8,55.5 C281.0,54.0 281.4,53.7 281.6,53.7 C281.9,53.8 282.1,54.8 282.3,55.7 C282.5,56.5 282.7,57.5 282.9,58.9 C283.0,60.2 283.2,61.9 283.3,63.7 C283.4,65.6 283.7,69.0 283.7,70.0 Z" fill="#555"/>
<path d="M283.8,70.0 C283.8,71.1 283.8,74.4 283.7,76.7 C283.6,79.0 283.6,81.9 283.4,83.5 C283.2,85.1 282.9,85.7 282.7,86.1 C282.4,86.4 282.2,86.2 282.0,85.8 C281.7,85.4 281.4,84.9 281.2,83.4 C281.1,81.9 281.0,78.9 280.9,76.7 C280.9,74.5 280.9,72.2 280.9,70.0 C280.9,67.8 280.9,65.6 281.0,63.5 C281.1,61.5 281.2,59.7 281.3,57.8 C281.5,56.0 281.7,53.2 281.9,52.3 C282.1,51.3 282.5,51.2 282.7,52.2 C282.9,53.1 283.1,56.1 283.3,58.0 C283.4,59.9 283.5,61.7 283.6,63.6 C283.7,65.6 283.8,68.9 283.8,70.0 Z" fill="none" stroke="#2a2a2a" stroke-width="0.55"/>
<path d="M283.3,70.2 C283.3,70.8 283.2,73.0 283.1,74.0 C283.0,75.1 282.9,75.6 282.8,76.5 C282.7,77.5 282.6,78.9 282.5,79.5 C282.4,80.1 282.2,80.2 282.1,79.9 C282.0,79.7 281.8,78.8 281.7,78.0 C281.6,77.1 281.4,75.9 281.4,74.6 C281.3,73.4 281.3,71.6 281.3,70.2 C281.4,68.8 281.4,67.2 281.4,66.0 C281.5,64.8 281.6,63.5 281.7,62.8 C281.8,62.2 282.0,62.4 282.1,62.1 C282.3,61.8 282.4,61.3 282.5,61.2 C282.7,61.2 282.8,61.2 283.0,61.9 C283.1,62.6 283.2,64.2 283.3,65.6 C283.3,67.0 283.3,69.4 283.3,70.2 Z" fill="none" stroke="#2a2a2a" stroke-width="0.55"/>
<path d="M290.4,72.0 C290.4,73.1 290.2,76.7 289.9,78.6 C289.7,80.5 289.3,82.2 288.9,83.2 C288.5,84.2 288.0,84.4 287.6,84.5 C287.2,84.6 286.8,84.3 286.4,84.0 C286.0,83.8 285.5,84.1 285.1,83.1 C284.7,82.2 284.4,80.1 284.2,78.2 C284.1,76.3 284.0,74.1 284.0,72.0 C284.0,69.9 283.9,67.3 284.1,65.4 C284.2,63.5 284.7,61.8 285.1,60.6 C285.4,59.4 285.9,58.7 286.3,58.4 C286.8,58.2 287.3,58.5 287.6,59.2 C288.0,59.9 288.2,61.6 288.6,62.7 C288.9,63.8 289.4,64.4 289.7,66.0 C290.0,67.5 290.3,71.0 290.4,72.0 Z" fill="#bbb"/>
<path d="M290.4,72.6 C290.3,73.7 290.1,77.3 289.8,79.1 C289.5,80.9 289.1,82.3 288.7,83.4 C288.4,84.5 288.0,85.3 287.5,85.6 C287.1,85.9 286.7,85.4 286.3,85.0 C285.9,84.7 285.4,84.6 285.0,83.5 C284.7,82.4 284.4,80.6 284.2,78.7 C284.0,76.9 284.0,74.7 284.0,72.6 C283.9,70.5 283.8,67.9 283.9,65.9 C284.1,63.9 284.5,61.8 284.9,60.7 C285.3,59.7 285.8,59.6 286.3,59.5 C286.7,59.4 287.1,59.6 287.5,60.2 C287.9,60.8 288.2,62.0 288.5,63.1 C288.9,64.1 289.3,64.9 289.6,66.5 C289.9,68.1 290.3,71.6 290.4,72.6 Z" fill="none" stroke="#2a2a2a" stroke-width="0.55"/>
<path d="M289.1,71.7 C289.0,72.4 288.9,74.9 288.7,76.1 C288.5,77.4 288.2,78.0 288.0,78.9 C287.7,79.7 287.5,80.9 287.2,81.2 C286.9,81.6 286.5,81.5 286.3,81.1 C286.0,80.7 285.8,79.7 285.5,78.9 C285.2,78.0 284.9,77.3 284.7,76.1 C284.6,74.9 284.4,73.2 284.4,71.7 C284.4,70.1 284.5,68.3 284.6,66.9 C284.8,65.6 285.0,64.0 285.3,63.4 C285.6,62.8 286.0,63.3 286.3,63.2 C286.6,63.2 286.8,63.2 287.1,63.3 C287.4,63.3 287.8,63.0 288.1,63.7 C288.4,64.3 288.6,65.7 288.8,67.0 C289.0,68.3 289.0,70.9 289.1,71.7 Z" fill="none" stroke="#2a2a2a" stroke-width="0.55"/>
<path d="M288.5,71.8 C288.5,72.2 288.6,73.5 288.5,74.4 C288.5,75.3 288.4,76.6 288.3,77.2 C288.1,77.8 287.8,78.0 287.6,78.1 C287.4,78.2 287.2,78.0 287.1,77.6 C286.9,77.3 286.8,76.5 286.6,75.9 C286.5,75.3 286.4,74.7 286.3,74.1 C286.2,73.4 286.0,72.6 286.0,71.8 C286.0,70.9 286.0,69.8 286.1,69.0 C286.2,68.2 286.4,67.5 286.5,67.0 C286.7,66.4 286.9,65.8 287.0,65.6 C287.2,65.5 287.4,65.7 287.6,66.0 C287.8,66.3 288.0,66.7 288.1,67.2 C288.3,67.8 288.4,68.5 288.4,69.3 C288.5,70.1 288.5,71.4 288.5,71.8 Z" fill="none" stroke="#2a2a2a" stroke-width="0.55"/>
<path d="M294.0,72.0 C294.0,73.0 293.9,76.4 293.8,78.0 C293.6,79.7 293.4,80.9 293.1,82.0 C292.9,83.2 292.7,84.5 292.4,85.0 C292.2,85.5 291.9,85.4 291.6,85.1 C291.3,84.9 290.9,84.7 290.7,83.7 C290.4,82.7 290.0,81.0 289.9,79.1 C289.8,77.2 289.9,74.1 290.0,72.0 C290.1,69.9 290.2,68.2 290.4,66.6 C290.5,64.9 290.7,63.4 290.9,62.1 C291.1,60.9 291.3,60.0 291.6,59.1 C291.8,58.3 292.2,57.0 292.5,57.2 C292.8,57.3 293.2,58.5 293.4,60.0 C293.6,61.5 293.7,64.0 293.8,66.0 C293.9,68.0 294.0,71.0 294.0,72.0 Z" fill="#555"/>
<path d="M293.9,71.7 C293.9,72.6 293.8,75.3 293.7,77.1 C293.7,78.9 293.6,80.9 293.4,82.6 C293.2,84.2 292.9,86.5 292.6,87.1 C292.4,87.6 292.0,86.6 291.7,85.9 C291.4,85.1 291.1,83.9 290.9,82.6 C290.7,81.2 290.4,79.7 290.3,77.9 C290.2,76.1 290.2,73.7 290.2,71.7 C290.3,69.7 290.3,67.7 290.4,65.9 C290.6,64.2 290.7,62.5 290.9,61.2 C291.2,59.9 291.4,59.1 291.7,58.3 C292.0,57.5 292.3,56.0 292.6,56.1 C292.9,56.3 293.3,57.8 293.5,59.4 C293.7,61.0 293.8,63.9 293.8,65.9 C293.9,68.0 293.9,70.7 293.9,71.7 Z" fill="none" stroke="#2a2a2a" stroke-width="0.55"/>
<path d="M293.1,71.2 C293.1,71.9 293.0,74.1 292.9,75.2 C292.8,76.3 292.7,77.3 292.5,77.9 C292.4,78.4 292.2,78.4 292.0,78.4 C291.8,78.5 291.7,78.3 291.5,78.3 C291.4,78.2 291.1,78.6 291.0,78.1 C290.8,77.6 290.7,76.3 290.6,75.2 C290.5,74.0 290.5,72.5 290.5,71.2 C290.5,69.9 290.5,68.5 290.6,67.4 C290.7,66.4 290.9,65.6 291.0,64.9 C291.2,64.2 291.3,63.5 291.5,63.3 C291.7,63.0 291.9,63.0 292.0,63.3 C292.2,63.7 292.3,64.7 292.4,65.4 C292.6,66.1 292.7,66.6 292.9,67.5 C293.0,68.5 293.1,70.6 293.1,71.2 Z" fill="none" stroke="#2a2a2a" stroke-width="0.55"/>
<path d="M301.2,76.8 C301.1,77.4 300.7,79.4 300.5,80.5 C300.3,81.6 300.1,82.4 299.8,83.2 C299.5,84.0 299.2,85.0 298.9,85.3 C298.6,85.6 298.2,85.4 297.8,85.1 C297.5,84.9 297.1,84.7 296.8,83.9 C296.5,83.2 296.2,82.0 296.0,80.8 C295.9,79.7 295.8,78.2 295.8,76.8 C295.8,75.4 295.7,73.6 295.9,72.5 C296.1,71.3 296.5,70.4 296.8,69.9 C297.2,69.4 297.6,69.6 297.9,69.4 C298.2,69.1 298.6,68.6 298.9,68.7 C299.2,68.7 299.6,69.0 300.0,69.7 C300.3,70.3 300.7,71.2 300.9,72.4 C301.1,73.6 301.2,76.1 301.2,76.8 Z" fill="none" stroke="#2a2a2a" stroke-width="0.55"/>
<path d="M299.8,77.3 C299.8,77.8 299.8,79.2 299.7,79.9 C299.6,80.6 299.3,81.3 299.1,81.6 C298.9,81.9 298.7,81.8 298.5,82.0 C298.3,82.1 298.1,82.5 297.9,82.4 C297.7,82.3 297.4,82.0 297.3,81.6 C297.1,81.1 297.0,80.3 296.9,79.6 C296.8,78.9 296.6,78.1 296.6,77.3 C296.6,76.6 296.6,75.6 296.7,74.9 C296.8,74.1 297.0,73.4 297.2,72.9 C297.4,72.4 297.6,72.0 297.8,72.0 C298.1,72.0 298.3,72.6 298.5,72.8 C298.7,73.1 298.8,73.3 299.0,73.6 C299.2,74.0 299.5,74.3 299.6,74.9 C299.7,75.5 299.8,76.9 299.8,77.3 Z" fill="none" stroke="#2a2a2a" stroke-width="0.55"/>
<path d="M306.4,82.2 C306.4,82.5 306.4,83.6 306.2,84.0 C305.9,84.5 305.4,84.8 305.0,85.1 C304.7,85.4 304.4,85.6 304.0,85.8 C303.6,85.9 303.1,86.1 302.7,86.0 C302.3,86.0 301.8,85.8 301.4,85.5 C301.0,85.2 300.4,84.8 300.2,84.3 C300.0,83.7 300.1,82.8 300.2,82.2 C300.3,81.6 300.7,81.2 301.0,80.7 C301.2,80.2 301.3,79.7 301.6,79.4 C301.9,79.0 302.3,78.7 302.7,78.5 C303.1,78.3 303.6,78.2 304.0,78.2 C304.5,78.3 305.1,78.4 305.4,78.8 C305.7,79.2 305.9,79.9 306.1,80.5 C306.2,81.1 306.4,81.9 306.4,82.2 Z" fill="none" stroke="#2a2a2a" stroke-width="0.55"/>
<path d="M304.5,82.4 C304.5,82.6 304.4,83.2 304.3,83.5 C304.1,83.8 303.9,84.1 303.7,84.2 C303.5,84.4 303.2,84.4 303.0,84.4 C302.7,84.5 302.5,84.7 302.3,84.7 C302.0,84.7 301.6,84.7 301.4,84.6 C301.1,84.4 301.0,83.9 300.9,83.6 C300.8,83.2 300.7,82.8 300.8,82.4 C300.8,82.1 301.0,81.7 301.1,81.5 C301.3,81.2 301.5,81.0 301.7,80.8 C301.9,80.6 302.0,80.2 302.2,80.1 C302.5,80.0 302.8,80.0 303.1,80.0 C303.3,80.1 303.5,80.4 303.8,80.6 C304.0,80.8 304.3,81.0 304.4,81.3 C304.5,81.6 304.5,82.3 304.5,82.4 Z" fill="none" stroke="#2a2a2a" stroke-width="0.55"/>
<path d="M302.1,59.0 C302.0,59.3 302.0,60.1 301.8,60.4 C301.7,60.8 301.4,60.9 301.2,61.1 C301.0,61.3 300.9,61.5 300.7,61.6 C300.5,61.7 300.3,61.8 300.1,61.8 C299.9,61.8 299.6,61.7 299.4,61.5 C299.2,61.3 298.9,61.0 298.8,60.5 C298.7,60.1 298.8,59.5 298.9,59.0 C298.9,58.6 299.0,58.2 299.1,57.8 C299.2,57.4 299.3,57.0 299.5,56.7 C299.6,56.5 299.9,56.4 300.1,56.3 C300.3,56.2 300.5,56.1 300.7,56.2 C300.9,56.2 301.2,56.4 301.3,56.6 C301.5,56.9 301.6,57.3 301.8,57.7 C301.9,58.1 302.0,58.8 302.1,59.0 Z" fill="none" stroke="#2a2a2a" stroke-width="0.55"/>
<path d="M310.1,70.0 C310.1,71.2 310.1,75.1 310.0,77.4 C309.9,79.7 309.7,81.8 309.6,83.7 C309.4,85.5 309.1,87.9 308.8,88.6 C308.6,89.3 308.2,89.2 308.0,88.0 C307.7,86.9 307.6,83.7 307.4,81.8 C307.2,79.8 307.1,78.4 307.0,76.4 C306.9,74.5 306.7,72.4 306.7,70.0 C306.6,67.6 306.6,64.8 306.7,62.3 C306.8,59.8 306.9,56.5 307.1,54.9 C307.3,53.3 307.7,52.9 308.0,52.8 C308.3,52.7 308.5,53.7 308.8,54.3 C309.0,55.0 309.3,55.3 309.5,56.7 C309.7,58.2 309.8,60.8 309.9,63.0 C310.0,65.2 310.1,68.8 310.1,70.0 Z" fill="#3a3a3a"/>
<path d="M310.0,69.6 C309.9,70.9 309.9,75.3 309.8,77.5 C309.6,79.7 309.4,81.2 309.2,82.8 C308.9,84.4 308.7,86.5 308.5,87.0 C308.2,87.6 307.9,87.0 307.6,86.1 C307.4,85.1 307.2,83.0 307.0,81.4 C306.9,79.8 306.7,78.5 306.5,76.5 C306.4,74.5 306.3,72.1 306.3,69.6 C306.2,67.1 306.2,64.0 306.3,61.5 C306.3,58.9 306.5,55.5 306.7,54.2 C307.0,52.8 307.4,53.3 307.7,53.5 C307.9,53.6 308.2,54.4 308.4,55.0 C308.6,55.6 308.9,56.0 309.1,57.2 C309.3,58.5 309.5,60.4 309.6,62.5 C309.8,64.5 309.9,68.4 310.0,69.6 Z" fill="none" stroke="#2a2a2a" stroke-width="0.55"/>
<path d="M309.4,69.9 C309.4,70.7 309.4,73.5 309.3,74.7 C309.2,76.0 309.0,76.6 308.8,77.2 C308.7,77.9 308.6,78.3 308.4,78.6 C308.3,78.9 308.1,79.1 308.0,79.0 C307.8,78.8 307.7,78.6 307.5,78.0 C307.4,77.3 307.2,76.3 307.1,75.0 C307.0,73.6 307.0,71.4 307.1,69.9 C307.1,68.3 307.2,66.9 307.3,65.6 C307.4,64.3 307.4,62.9 307.5,62.0 C307.7,61.2 307.8,60.8 308.0,60.5 C308.1,60.2 308.3,60.1 308.4,60.3 C308.6,60.5 308.8,61.0 308.9,61.8 C309.0,62.7 309.1,64.1 309.2,65.4 C309.3,66.8 309.4,69.1 309.4,69.9 Z" fill="none" stroke="#2a2a2a" stroke-width="0.55"/>
<path d="M307.1,80.0 C307.1,80.5 307.1,82.2 306.9,83.2 C306.7,84.2 306.4,85.4 306.0,86.0 C305.7,86.6 305.1,86.6 304.7,86.7 C304.2,86.8 303.8,86.9 303.3,86.7 C302.9,86.4 302.4,86.2 302.1,85.5 C301.8,84.9 301.7,83.7 301.6,82.7 C301.4,81.8 301.3,81.0 301.2,80.0 C301.1,79.0 301.0,77.8 301.2,76.8 C301.3,75.8 301.6,74.8 302.0,74.0 C302.3,73.3 302.8,72.5 303.3,72.4 C303.7,72.2 304.3,72.8 304.7,73.3 C305.0,73.8 305.2,74.8 305.6,75.5 C305.9,76.1 306.3,76.4 306.5,77.2 C306.8,77.9 307.0,79.5 307.1,80.0 Z" fill="#bbb"/>
<path d="M307.3,80.1 C307.2,80.6 307.1,82.5 306.9,83.4 C306.6,84.2 306.1,84.8 305.8,85.4 C305.4,86.0 305.0,86.7 304.6,86.9 C304.2,87.2 303.7,86.9 303.3,86.6 C302.9,86.3 302.5,85.7 302.2,85.1 C301.9,84.5 301.5,83.8 301.3,83.0 C301.1,82.2 301.1,81.1 301.0,80.1 C300.9,79.0 300.8,77.8 301.0,76.7 C301.1,75.7 301.4,74.3 301.8,73.7 C302.2,73.2 302.8,73.4 303.3,73.4 C303.7,73.4 304.1,73.7 304.5,74.0 C304.9,74.3 305.3,74.6 305.6,75.1 C305.9,75.6 306.2,76.3 306.5,77.1 C306.8,77.9 307.2,79.6 307.3,80.1 Z" fill="none" stroke="#2a2a2a" stroke-width="0.55"/>
<path d="M306.0,80.7 C306.0,81.0 305.9,82.0 305.8,82.7 C305.7,83.3 305.6,84.0 305.3,84.5 C305.1,85.0 304.8,85.6 304.5,85.8 C304.2,86.0 303.9,85.7 303.6,85.5 C303.2,85.4 302.9,85.2 302.6,84.8 C302.3,84.4 302.0,83.7 301.9,83.1 C301.8,82.4 301.9,81.4 302.0,80.7 C302.0,80.0 302.2,79.3 302.3,78.7 C302.4,78.1 302.6,77.6 302.8,77.1 C303.0,76.7 303.3,76.3 303.6,75.9 C303.9,75.5 304.3,74.9 304.6,75.0 C304.9,75.1 305.3,75.8 305.5,76.3 C305.7,76.9 305.8,77.9 305.9,78.6 C306.0,79.3 306.0,80.3 306.0,80.7 Z" fill="none" stroke="#2a2a2a" stroke-width="0.55"/>
<path d="M304.9,80.1 C304.9,80.2 304.7,80.8 304.6,81.2 C304.5,81.5 304.5,81.9 304.4,82.2 C304.2,82.6 304.1,82.9 303.9,83.0 C303.7,83.2 303.5,83.1 303.3,83.1 C303.1,83.0 302.9,82.9 302.8,82.6 C302.6,82.3 302.5,81.8 302.4,81.4 C302.4,81.0 302.3,80.5 302.3,80.1 C302.3,79.6 302.3,79.1 302.4,78.7 C302.5,78.4 302.7,78.2 302.9,78.0 C303.1,77.8 303.2,77.6 303.4,77.5 C303.5,77.3 303.7,77.0 303.9,77.0 C304.1,77.0 304.3,77.2 304.5,77.5 C304.7,77.8 304.8,78.2 304.9,78.6 C305.0,79.0 304.9,79.8 304.9,80.1 Z" fill="none" stroke="#2a2a2a" stroke-width="0.55"/>
<path d="M318.5,81.0 C318.4,81.4 318.5,82.7 318.3,83.4 C318.2,84.2 317.8,84.9 317.4,85.6 C317.0,86.2 316.5,86.9 315.9,87.2 C315.4,87.5 314.6,87.6 314.0,87.4 C313.5,87.1 313.0,86.3 312.5,85.6 C312.1,85.0 311.6,84.4 311.3,83.7 C311.0,82.9 310.9,81.8 311.0,81.0 C311.0,80.2 311.5,79.4 311.8,78.7 C312.1,77.9 312.3,77.2 312.7,76.6 C313.1,76.0 313.6,75.5 314.1,75.2 C314.7,74.9 315.3,74.6 316.0,74.7 C316.6,74.7 317.5,74.9 317.9,75.5 C318.3,76.2 318.5,77.5 318.6,78.4 C318.7,79.3 318.5,80.6 318.5,81.0 Z" fill="#aaa"/>
<path d="M318.8,80.9 C318.8,81.4 318.7,82.8 318.5,83.5 C318.2,84.3 317.7,84.9 317.3,85.5 C316.9,86.1 316.4,87.0 315.8,87.3 C315.2,87.5 314.5,87.4 313.9,87.2 C313.3,86.9 312.7,86.3 312.3,85.6 C311.9,85.0 311.6,84.2 311.4,83.4 C311.3,82.6 311.5,81.7 311.5,80.9 C311.5,80.1 311.3,79.3 311.4,78.4 C311.5,77.5 311.6,76.3 312.0,75.6 C312.4,74.9 313.2,74.6 313.9,74.5 C314.5,74.4 315.2,74.5 315.8,74.8 C316.3,75.2 316.8,75.9 317.2,76.5 C317.6,77.1 317.8,77.9 318.0,78.6 C318.3,79.4 318.7,80.5 318.8,80.9 Z" fill="none" stroke="#2a2a2a" stroke-width="0.55"/>
<path d="M317.4,80.3 C317.4,80.6 317.4,81.5 317.3,82.1 C317.2,82.7 317.1,83.5 316.8,84.0 C316.5,84.5 316.0,85.0 315.6,85.0 C315.1,85.1 314.6,84.7 314.2,84.5 C313.8,84.3 313.4,84.1 313.1,83.7 C312.8,83.3 312.5,82.7 312.3,82.2 C312.2,81.6 312.2,80.9 312.2,80.3 C312.2,79.7 312.2,79.1 312.3,78.5 C312.5,78.0 312.8,77.5 313.1,77.1 C313.4,76.7 313.8,76.2 314.2,76.0 C314.6,75.7 315.2,75.3 315.6,75.5 C316.0,75.7 316.4,76.4 316.7,76.9 C316.9,77.4 317.0,78.1 317.1,78.7 C317.3,79.3 317.4,80.1 317.4,80.3 Z" fill="none" stroke="#2a2a2a" stroke-width="0.55"/>
<path d="M316.6,80.3 C316.6,80.5 316.5,81.2 316.4,81.5 C316.2,81.9 316.0,82.2 315.8,82.4 C315.6,82.5 315.3,82.5 315.0,82.5 C314.8,82.5 314.6,82.5 314.4,82.5 C314.1,82.5 313.8,82.6 313.6,82.5 C313.4,82.3 313.2,81.9 313.0,81.5 C312.9,81.2 312.9,80.7 312.9,80.3 C312.9,79.9 313.0,79.5 313.1,79.2 C313.2,78.8 313.5,78.6 313.7,78.4 C313.9,78.2 314.1,78.0 314.3,77.9 C314.6,77.8 314.9,77.8 315.1,77.9 C315.3,78.0 315.5,78.3 315.7,78.5 C315.9,78.7 316.1,78.9 316.3,79.2 C316.5,79.5 316.6,80.1 316.6,80.3 Z" fill="none" stroke="#2a2a2a" stroke-width="0.55"/>
<path d="M323.1,70.0 C323.1,71.2 323.0,75.1 322.9,77.0 C322.7,78.8 322.5,79.7 322.3,81.3 C322.2,82.9 322.1,85.3 321.9,86.5 C321.6,87.7 321.3,88.6 321.1,88.3 C320.9,88.0 320.6,86.5 320.4,84.7 C320.2,83.0 320.0,80.3 320.0,77.8 C319.9,75.4 320.0,72.4 320.1,70.0 C320.1,67.6 320.2,65.8 320.2,63.5 C320.3,61.3 320.3,58.2 320.5,56.5 C320.6,54.8 320.9,53.9 321.1,53.2 C321.4,52.6 321.6,52.4 321.9,52.8 C322.1,53.2 322.4,54.2 322.6,55.8 C322.7,57.4 322.9,60.2 323.0,62.5 C323.1,64.9 323.1,68.8 323.1,70.0 Z" fill="#444"/>
<path d="M323.5,69.3 C323.5,70.6 323.3,74.8 323.2,76.9 C323.0,79.1 322.8,81.0 322.6,82.2 C322.4,83.5 322.2,84.2 322.0,84.6 C321.8,85.0 321.6,84.8 321.3,84.5 C321.1,84.2 320.8,84.2 320.6,82.9 C320.4,81.6 320.3,79.0 320.2,76.7 C320.1,74.4 320.1,71.9 320.0,69.3 C320.0,66.7 320.0,63.4 320.1,61.1 C320.2,58.8 320.4,56.7 320.6,55.4 C320.8,54.2 321.1,53.8 321.3,53.6 C321.6,53.4 321.8,53.7 322.0,54.3 C322.2,55.0 322.3,56.4 322.5,57.6 C322.7,58.8 323.0,59.5 323.2,61.5 C323.4,63.4 323.5,68.0 323.5,69.3 Z" fill="none" stroke="#2a2a2a" stroke-width="0.55"/>
<path d="M322.2,69.9 C322.1,70.6 322.1,72.9 322.0,74.3 C322.0,75.6 321.9,77.3 321.8,78.1 C321.7,78.9 321.5,78.9 321.4,79.0 C321.2,79.1 321.1,79.0 321.0,78.9 C320.9,78.7 320.7,78.5 320.6,77.8 C320.5,77.1 320.3,75.9 320.3,74.6 C320.2,73.2 320.1,71.4 320.1,69.9 C320.1,68.3 320.2,66.4 320.3,65.2 C320.4,64.1 320.5,63.7 320.7,63.0 C320.8,62.3 320.9,61.4 321.0,60.9 C321.1,60.4 321.3,60.0 321.4,60.1 C321.5,60.3 321.7,60.8 321.8,61.6 C321.9,62.4 322.1,63.6 322.1,65.0 C322.2,66.4 322.2,69.1 322.2,69.9 Z" fill="none" stroke="#2a2a2a" stroke-width="0.55"/>
<path d="M328.6,70.0 C328.6,71.2 328.8,75.0 328.7,77.4 C328.6,79.9 328.4,83.0 328.1,84.8 C327.8,86.6 327.2,87.8 326.7,88.2 C326.3,88.7 325.7,88.5 325.3,87.4 C324.9,86.3 324.6,83.5 324.4,81.7 C324.1,79.9 323.9,78.4 323.7,76.4 C323.4,74.5 323.0,72.3 322.9,70.0 C322.8,67.7 323.0,64.7 323.2,62.3 C323.4,60.0 323.7,57.7 324.0,56.1 C324.4,54.4 324.9,52.8 325.3,52.4 C325.7,52.0 326.2,52.9 326.7,53.6 C327.1,54.3 327.6,55.1 327.9,56.6 C328.2,58.2 328.5,60.8 328.6,63.0 C328.7,65.2 328.6,68.8 328.6,70.0 Z" fill="#a0a0a0"/>
<path d="M328.6,69.9 C328.7,71.1 328.8,74.7 328.7,77.1 C328.6,79.4 328.3,81.9 328.0,83.9 C327.7,85.8 327.3,88.3 326.8,88.9 C326.4,89.6 325.7,89.0 325.3,87.8 C324.9,86.6 324.7,83.6 324.4,81.8 C324.1,79.9 323.8,78.7 323.6,76.7 C323.4,74.7 323.2,72.2 323.1,69.9 C323.1,67.6 323.2,65.0 323.4,62.7 C323.6,60.3 323.8,57.5 324.1,55.8 C324.4,54.2 324.9,53.3 325.4,52.8 C325.8,52.3 326.3,52.2 326.8,52.7 C327.2,53.2 327.8,53.9 328.1,55.7 C328.4,57.4 328.4,60.8 328.5,63.1 C328.6,65.5 328.6,68.8 328.6,69.9 Z" fill="none" stroke="#2a2a2a" stroke-width="0.55"/>
<path d="M328.7,70.3 C328.6,71.3 328.5,74.4 328.3,76.2 C328.2,78.0 328.0,80.1 327.7,81.1 C327.4,82.2 327.0,82.4 326.7,82.4 C326.3,82.5 326.1,81.5 325.7,81.2 C325.4,80.9 325.1,81.3 324.7,80.5 C324.4,79.7 324.1,78.3 323.9,76.6 C323.7,74.9 323.6,72.4 323.6,70.3 C323.6,68.3 323.7,65.7 323.9,64.2 C324.1,62.6 324.6,61.9 324.9,61.1 C325.2,60.2 325.4,59.5 325.7,58.9 C326.0,58.2 326.4,57.2 326.7,57.4 C327.0,57.6 327.4,58.9 327.6,60.0 C327.9,61.2 328.2,62.7 328.4,64.4 C328.5,66.1 328.6,69.3 328.7,70.3 Z" fill="none" stroke="#2a2a2a" stroke-width="0.55"/>
<path d="M327.5,69.3 C327.5,70.1 327.5,72.6 327.4,73.8 C327.2,75.0 327.0,76.1 326.7,76.7 C326.5,77.3 326.3,77.2 326.0,77.4 C325.8,77.7 325.6,78.4 325.3,78.2 C325.1,78.1 324.9,77.5 324.7,76.7 C324.5,75.8 324.4,74.5 324.3,73.3 C324.1,72.0 324.0,70.7 323.9,69.3 C323.9,67.9 324.0,66.2 324.1,64.9 C324.2,63.6 324.4,62.4 324.6,61.5 C324.8,60.7 325.1,60.0 325.3,60.0 C325.6,60.0 325.8,61.0 326.0,61.5 C326.2,61.9 326.4,62.2 326.6,62.8 C326.8,63.4 327.1,63.9 327.3,64.9 C327.5,66.0 327.5,68.6 327.5,69.3 Z" fill="none" stroke="#2a2a2a" stroke-width="0.55"/>
<path d="M326.7,69.3 C326.7,69.7 326.7,70.8 326.7,71.6 C326.6,72.3 326.5,73.0 326.4,73.7 C326.3,74.4 326.2,75.4 326.1,75.7 C325.9,76.0 325.7,75.8 325.6,75.5 C325.4,75.1 325.3,74.1 325.2,73.5 C325.1,72.8 325.1,72.3 325.0,71.6 C324.9,70.9 324.9,70.1 324.9,69.3 C324.9,68.5 324.9,67.7 324.9,66.9 C325.0,66.1 325.1,65.1 325.2,64.6 C325.3,64.0 325.5,63.9 325.6,63.7 C325.8,63.5 325.9,63.4 326.1,63.6 C326.2,63.7 326.4,63.9 326.5,64.5 C326.6,65.1 326.6,66.2 326.7,67.0 C326.7,67.8 326.7,68.9 326.7,69.3 Z" fill="none" stroke="#2a2a2a" stroke-width="0.55"/>
<path d="M334.3,70.0 C334.2,71.3 334.2,75.7 334.0,78.1 C333.7,80.4 333.4,82.9 333.0,84.3 C332.6,85.6 332.1,86.0 331.7,86.1 C331.2,86.2 330.8,85.4 330.4,84.9 C330.0,84.4 329.5,84.4 329.1,83.2 C328.8,81.9 328.5,79.4 328.4,77.2 C328.2,75.0 328.2,72.5 328.1,70.0 C328.1,67.5 328.0,64.5 328.1,62.1 C328.2,59.7 328.6,57.2 329.0,55.6 C329.3,54.1 329.9,52.9 330.3,52.6 C330.7,52.3 331.3,52.7 331.7,53.8 C332.0,54.9 332.2,57.4 332.6,59.0 C332.9,60.5 333.2,61.3 333.5,63.2 C333.8,65.0 334.2,68.9 334.3,70.0 Z" fill="#999"/>
<path d="M334.3,70.7 C334.2,71.8 333.9,75.2 333.7,77.3 C333.5,79.4 333.3,81.4 333.0,83.1 C332.7,84.7 332.4,86.1 331.9,87.0 C331.5,88.0 331.0,88.8 330.6,88.7 C330.1,88.5 329.4,88.0 329.1,86.2 C328.8,84.5 328.7,80.7 328.6,78.1 C328.5,75.5 328.6,73.1 328.7,70.7 C328.7,68.4 328.6,66.0 328.8,63.9 C328.9,61.7 329.2,59.7 329.5,57.9 C329.8,56.1 330.2,54.0 330.6,53.1 C331.0,52.3 331.6,52.1 332.0,52.8 C332.4,53.5 332.8,55.8 333.1,57.5 C333.5,59.2 333.9,60.9 334.1,63.1 C334.3,65.3 334.3,69.4 334.3,70.7 Z" fill="none" stroke="#2a2a2a" stroke-width="0.55"/>
<path d="M333.1,69.7 C333.1,70.7 333.2,73.9 333.1,75.8 C333.0,77.6 332.7,79.6 332.5,80.9 C332.2,82.2 331.8,83.1 331.4,83.5 C331.1,83.8 330.7,83.6 330.4,82.8 C330.1,81.9 329.9,79.8 329.7,78.4 C329.4,77.1 329.2,76.3 329.0,74.8 C328.8,73.4 328.5,71.6 328.4,69.7 C328.3,67.8 328.4,65.3 328.6,63.5 C328.7,61.6 329.0,59.6 329.3,58.5 C329.6,57.3 330.0,56.9 330.4,56.8 C330.7,56.8 331.0,57.7 331.4,58.1 C331.7,58.6 332.0,58.6 332.3,59.6 C332.6,60.6 332.8,62.4 333.0,64.1 C333.1,65.8 333.1,68.8 333.1,69.7 Z" fill="none" stroke="#2a2a2a" stroke-width="0.55"/>
<path d="M332.8,69.4 C332.8,70.0 332.8,72.2 332.6,73.3 C332.5,74.4 332.3,75.3 332.1,76.0 C331.9,76.7 331.7,77.0 331.5,77.6 C331.3,78.1 331.0,79.4 330.8,79.4 C330.5,79.4 330.2,78.8 330.0,77.8 C329.8,76.8 329.7,75.0 329.6,73.6 C329.5,72.2 329.5,70.7 329.6,69.4 C329.6,68.0 329.8,66.9 329.9,65.8 C330.0,64.6 330.1,63.5 330.2,62.5 C330.4,61.4 330.6,60.0 330.8,59.6 C331.0,59.2 331.3,59.6 331.6,60.0 C331.8,60.3 332.1,60.9 332.3,61.7 C332.5,62.5 332.7,63.7 332.8,65.0 C332.9,66.2 332.8,68.6 332.8,69.4 Z" fill="none" stroke="#2a2a2a" stroke-width="0.55"/>
<path d="M331.9,70.7 C331.9,71.1 331.9,72.3 331.8,73.1 C331.8,73.9 331.7,74.7 331.6,75.3 C331.5,75.9 331.3,76.4 331.2,76.5 C331.0,76.7 330.9,76.5 330.7,76.4 C330.6,76.2 330.4,76.0 330.3,75.4 C330.2,74.9 330.1,73.9 330.1,73.1 C330.1,72.3 330.1,71.5 330.1,70.7 C330.1,69.9 330.1,69.1 330.1,68.4 C330.1,67.6 330.2,66.7 330.3,66.0 C330.4,65.4 330.6,64.8 330.7,64.5 C330.9,64.3 331.1,64.2 331.2,64.6 C331.3,64.9 331.4,66.0 331.5,66.6 C331.6,67.3 331.7,67.8 331.8,68.5 C331.8,69.2 331.9,70.3 331.9,70.7 Z" fill="none" stroke="#2a2a2a" stroke-width="0.55"/>
<path d="M338.3,70.0 C338.3,71.2 338.2,74.6 338.2,77.0 C338.1,79.4 338.1,82.5 338.0,84.4 C337.9,86.2 337.7,87.9 337.5,88.3 C337.4,88.8 337.2,88.0 337.1,87.1 C336.9,86.1 336.8,84.6 336.7,82.8 C336.6,80.9 336.6,78.3 336.5,76.2 C336.5,74.1 336.4,72.4 336.4,70.0 C336.3,67.6 336.3,64.2 336.3,61.8 C336.3,59.4 336.5,57.0 336.6,55.5 C336.7,54.0 336.9,53.0 337.1,52.7 C337.2,52.4 337.4,52.8 337.5,53.7 C337.7,54.5 337.8,56.4 337.9,57.9 C338.0,59.4 338.1,60.7 338.2,62.8 C338.3,64.8 338.3,68.8 338.3,70.0 Z" fill="#333"/>
<path d="M338.2,70.4 C338.2,71.7 338.2,75.6 338.2,78.0 C338.1,80.3 338.0,82.4 337.9,84.3 C337.8,86.1 337.7,88.5 337.5,89.1 C337.4,89.7 337.1,89.1 337.0,87.9 C336.9,86.7 336.8,83.7 336.7,81.8 C336.6,80.0 336.5,78.9 336.5,77.0 C336.4,75.1 336.3,72.8 336.3,70.4 C336.2,68.0 336.2,65.1 336.3,62.6 C336.3,60.1 336.4,56.8 336.5,55.3 C336.7,53.9 336.9,53.8 337.0,53.7 C337.2,53.6 337.3,54.3 337.5,54.9 C337.6,55.4 337.8,55.7 337.9,57.2 C338.0,58.6 338.0,61.3 338.1,63.5 C338.2,65.7 338.2,69.3 338.2,70.4 Z" fill="none" stroke="#2a2a2a" stroke-width="0.55"/>
<path d="M314.0,57.4 C314.0,57.6 313.9,58.2 313.8,58.6 C313.7,59.0 313.5,59.3 313.3,59.6 C313.1,60.0 312.9,60.5 312.6,60.7 C312.3,60.9 311.9,60.8 311.6,60.6 C311.3,60.5 311.1,60.0 310.9,59.6 C310.7,59.3 310.5,58.9 310.4,58.5 C310.4,58.2 310.3,57.8 310.3,57.4 C310.3,57.0 310.2,56.5 310.3,56.1 C310.3,55.6 310.4,55.0 310.7,54.7 C310.9,54.4 311.3,54.4 311.6,54.3 C311.9,54.3 312.2,54.3 312.5,54.4 C312.8,54.5 313.1,54.7 313.3,55.0 C313.5,55.3 313.7,55.7 313.8,56.1 C313.9,56.5 314.0,57.2 314.0,57.4 Z" fill="none" stroke="#2a2a2a" stroke-width="0.55"/>
<path d="M313.5,57.3 C313.5,57.4 313.4,57.7 313.4,58.0 C313.3,58.2 313.2,58.3 313.0,58.5 C312.9,58.7 312.8,58.9 312.7,59.1 C312.5,59.2 312.3,59.3 312.1,59.3 C311.9,59.2 311.7,58.9 311.6,58.7 C311.5,58.5 311.4,58.3 311.3,58.0 C311.2,57.8 311.2,57.5 311.2,57.3 C311.2,57.0 311.3,56.8 311.4,56.5 C311.5,56.3 311.5,56.0 311.6,55.9 C311.8,55.7 312.0,55.6 312.1,55.5 C312.3,55.5 312.5,55.5 312.6,55.5 C312.8,55.5 313.1,55.5 313.2,55.7 C313.4,55.8 313.5,56.1 313.6,56.4 C313.6,56.7 313.5,57.1 313.5,57.3 Z" fill="none" stroke="#2a2a2a" stroke-width="0.55"/>
<path d="M351.2,78.5 C351.1,79.1 351.0,80.9 350.8,81.7 C350.6,82.6 350.4,83.4 350.1,83.8 C349.9,84.2 349.6,84.1 349.3,84.3 C349.0,84.5 348.8,85.0 348.5,85.0 C348.2,85.0 347.8,85.0 347.6,84.4 C347.3,83.9 347.2,82.7 347.0,81.7 C346.9,80.7 346.8,79.6 346.8,78.5 C346.8,77.5 346.9,76.3 347.1,75.4 C347.2,74.5 347.5,73.8 347.7,73.2 C347.9,72.6 348.2,72.0 348.5,71.8 C348.7,71.7 349.1,72.1 349.3,72.3 C349.6,72.6 349.8,73.1 350.1,73.6 C350.3,74.0 350.7,74.4 350.9,75.2 C351.1,76.0 351.1,78.0 351.2,78.5 Z" fill="none" stroke="#2a2a2a" stroke-width="0.55"/>
<path d="M350.3,79.4 C350.2,79.7 350.1,80.7 350.0,81.3 C349.9,81.8 349.7,82.1 349.6,82.4 C349.4,82.8 349.3,83.2 349.1,83.3 C349.0,83.4 348.8,83.3 348.6,83.2 C348.5,83.1 348.3,83.0 348.1,82.7 C348.0,82.4 347.8,81.8 347.8,81.3 C347.7,80.7 347.7,80.1 347.7,79.4 C347.7,78.8 347.6,78.0 347.7,77.4 C347.8,76.8 347.9,76.2 348.1,76.0 C348.3,75.7 348.5,75.8 348.6,75.8 C348.8,75.7 349.0,75.6 349.1,75.7 C349.3,75.8 349.4,76.0 349.6,76.3 C349.7,76.6 349.9,76.9 350.0,77.5 C350.2,78.0 350.2,79.1 350.3,79.4 Z" fill="none" stroke="#2a2a2a" stroke-width="0.55"/>
<path d="M361.0,78.5 C361.0,79.1 360.8,80.8 360.7,82.1 C360.5,83.4 360.5,85.2 360.1,86.3 C359.8,87.4 359.0,88.4 358.4,88.6 C357.8,88.8 357.0,88.1 356.5,87.5 C355.9,86.9 355.4,86.1 355.0,85.2 C354.6,84.3 354.5,83.1 354.2,82.0 C354.0,80.8 353.7,79.8 353.6,78.5 C353.5,77.3 353.3,75.5 353.5,74.3 C353.7,73.1 354.3,72.1 354.8,71.3 C355.3,70.5 355.9,69.9 356.5,69.5 C357.1,69.2 357.8,68.8 358.3,69.2 C358.9,69.5 359.4,70.7 359.8,71.6 C360.2,72.6 360.6,73.7 360.8,74.8 C361.0,76.0 361.0,77.9 361.0,78.5 Z" fill="none" stroke="#2a2a2a" stroke-width="0.55"/>
<path d="M359.7,78.5 C359.6,79.0 359.5,80.5 359.2,81.3 C359.0,82.0 358.6,82.5 358.3,83.0 C358.0,83.6 357.7,84.2 357.3,84.4 C356.9,84.7 356.5,84.7 356.1,84.7 C355.7,84.6 355.1,84.6 354.7,84.1 C354.3,83.6 353.9,82.7 353.7,81.8 C353.6,80.8 353.9,79.5 354.0,78.5 C354.1,77.6 354.3,76.8 354.4,76.1 C354.6,75.3 354.8,74.5 355.1,73.9 C355.3,73.3 355.7,72.8 356.1,72.5 C356.5,72.1 357.0,71.6 357.4,71.7 C357.8,71.8 358.3,72.5 358.6,73.2 C358.9,73.9 359.1,74.9 359.3,75.8 C359.5,76.7 359.6,78.1 359.7,78.5 Z" fill="none" stroke="#2a2a2a" stroke-width="0.55"/>
<path d="M358.3,78.3 C358.3,78.6 358.4,79.6 358.3,80.2 C358.3,80.7 358.0,81.2 357.8,81.5 C357.6,81.8 357.3,82.0 357.1,82.1 C356.8,82.3 356.5,82.5 356.3,82.4 C356.0,82.2 355.8,81.7 355.6,81.3 C355.5,80.9 355.4,80.3 355.3,79.9 C355.2,79.4 355.1,78.9 355.1,78.3 C355.1,77.8 355.1,77.3 355.2,76.7 C355.3,76.2 355.3,75.4 355.5,75.0 C355.7,74.5 356.0,74.1 356.2,74.0 C356.5,74.0 356.8,74.5 357.0,74.7 C357.3,75.0 357.5,75.3 357.6,75.6 C357.8,76.0 358.0,76.4 358.1,76.8 C358.2,77.3 358.3,78.1 358.3,78.3 Z" fill="none" stroke="#2a2a2a" stroke-width="0.55"/>
<path d="M358.3,59.3 C358.3,59.5 358.5,60.3 358.4,60.8 C358.3,61.3 358.0,61.9 357.6,62.3 C357.1,62.6 356.5,63.0 355.9,63.1 C355.2,63.2 354.4,63.2 353.9,63.0 C353.4,62.7 353.0,62.1 352.6,61.7 C352.3,61.3 352.0,61.0 351.7,60.6 C351.4,60.2 350.9,59.8 350.8,59.3 C350.8,58.8 351.0,58.2 351.2,57.7 C351.4,57.3 351.8,56.7 352.2,56.4 C352.7,56.1 353.3,55.8 353.9,55.7 C354.5,55.6 355.2,55.8 355.7,55.9 C356.3,56.0 357.0,56.2 357.4,56.5 C357.8,56.8 358.1,57.4 358.3,57.8 C358.4,58.3 358.3,59.1 358.3,59.3 Z" fill="none" stroke="#2a2a2a" stroke-width="0.55"/>
<path d="M357.8,58.2 C357.7,58.4 357.3,58.9 357.1,59.2 C356.9,59.4 356.8,59.7 356.5,60.0 C356.2,60.2 355.9,60.7 355.6,60.8 C355.2,60.9 354.7,60.8 354.2,60.8 C353.8,60.7 353.4,60.5 353.1,60.2 C352.7,60.0 352.3,59.7 352.2,59.4 C352.0,59.0 352.0,58.6 352.1,58.2 C352.1,57.8 352.2,57.4 352.4,57.1 C352.6,56.8 352.9,56.6 353.2,56.4 C353.6,56.2 354.0,56.2 354.3,56.1 C354.7,56.0 355.1,55.7 355.6,55.7 C356.0,55.6 356.6,55.8 356.9,56.0 C357.3,56.2 357.5,56.7 357.7,57.1 C357.8,57.4 357.7,58.0 357.8,58.2 Z" fill="none" stroke="#2a2a2a" stroke-width="0.55"/>
<path d="M356.8,58.7 C356.7,58.8 356.6,59.2 356.5,59.4 C356.4,59.6 356.2,59.8 356.0,59.9 C355.8,60.1 355.5,60.2 355.3,60.2 C355.1,60.2 354.8,60.2 354.5,60.1 C354.3,60.1 354.0,60.0 353.9,59.9 C353.7,59.7 353.6,59.5 353.5,59.3 C353.4,59.1 353.4,58.9 353.3,58.7 C353.2,58.5 353.1,58.2 353.2,58.0 C353.2,57.8 353.5,57.5 353.7,57.4 C353.9,57.3 354.3,57.2 354.5,57.2 C354.8,57.2 355.1,57.3 355.3,57.3 C355.5,57.4 355.6,57.6 355.8,57.7 C356.0,57.8 356.3,57.9 356.4,58.1 C356.6,58.2 356.7,58.6 356.8,58.7 Z" fill="none" stroke="#2a2a2a" stroke-width="0.55"/>
<path d="M362.0,82.3 C362.0,82.6 362.0,83.7 361.9,84.2 C361.7,84.7 361.4,85.0 361.2,85.3 C360.9,85.5 360.6,85.5 360.4,85.7 C360.1,85.8 359.8,86.1 359.5,86.1 C359.3,86.1 358.9,85.9 358.7,85.6 C358.4,85.3 358.1,84.8 357.9,84.3 C357.8,83.7 357.7,82.9 357.8,82.3 C357.9,81.7 358.2,81.2 358.4,80.8 C358.5,80.3 358.7,79.9 358.9,79.5 C359.1,79.1 359.3,78.7 359.5,78.5 C359.8,78.3 360.1,78.4 360.4,78.5 C360.7,78.5 361.1,78.7 361.3,79.0 C361.5,79.3 361.7,80.0 361.9,80.5 C362.0,81.1 362.0,82.0 362.0,82.3 Z" fill="none" stroke="#2a2a2a" stroke-width="0.55"/>
<path d="M361.4,82.3 C361.4,82.5 361.4,82.9 361.3,83.2 C361.2,83.5 361.2,83.8 361.1,84.1 C360.9,84.4 360.8,84.7 360.6,84.8 C360.5,85.0 360.2,85.1 360.0,85.0 C359.9,84.9 359.7,84.5 359.6,84.2 C359.5,83.9 359.4,83.6 359.3,83.3 C359.3,83.0 359.2,82.6 359.2,82.3 C359.2,82.0 359.3,81.6 359.3,81.3 C359.4,81.0 359.5,80.7 359.6,80.5 C359.7,80.2 359.9,80.0 360.1,79.9 C360.2,79.8 360.4,79.9 360.6,79.9 C360.8,80.0 361.0,80.0 361.2,80.2 C361.3,80.4 361.4,80.9 361.5,81.2 C361.5,81.6 361.4,82.1 361.4,82.3 Z" fill="none" stroke="#2a2a2a" stroke-width="0.55"/>
<path d="M388.0,69.0 C387.9,69.8 387.8,72.2 387.6,73.6 C387.4,74.9 387.1,76.3 386.8,77.2 C386.5,78.1 386.0,78.6 385.6,79.0 C385.2,79.4 384.7,80.0 384.3,79.8 C383.9,79.5 383.5,78.6 383.1,77.6 C382.8,76.6 382.5,75.3 382.2,73.9 C382.0,72.4 381.6,70.6 381.6,69.0 C381.6,67.4 381.9,65.3 382.2,64.0 C382.5,62.8 383.0,62.1 383.3,61.3 C383.7,60.5 384.0,59.8 384.4,59.4 C384.8,59.0 385.2,59.0 385.6,59.1 C386.1,59.1 386.6,59.0 387.0,59.7 C387.4,60.4 388.0,61.9 388.1,63.5 C388.3,65.0 388.0,68.1 388.0,69.0 Z" fill="#999"/>
<path d="M388.3,68.7 C388.3,69.5 388.2,72.4 388.0,73.9 C387.8,75.5 387.4,77.1 387.0,77.9 C386.6,78.8 386.1,78.9 385.7,78.9 C385.2,79.0 384.8,78.3 384.4,78.0 C384.0,77.7 383.5,77.9 383.2,77.1 C382.8,76.4 382.5,74.9 382.3,73.4 C382.1,72.0 382.1,70.3 382.1,68.7 C382.0,67.0 382.0,65.1 382.1,63.5 C382.3,62.0 382.7,60.6 383.0,59.6 C383.4,58.6 383.9,57.8 384.3,57.6 C384.8,57.3 385.3,57.5 385.7,58.1 C386.0,58.8 386.3,60.4 386.6,61.4 C386.9,62.4 387.2,63.0 387.5,64.2 C387.8,65.4 388.2,67.9 388.3,68.7 Z" fill="none" stroke="#2a2a2a" stroke-width="0.55"/>
<path d="M387.1,69.4 C387.1,70.0 387.0,71.7 386.9,72.7 C386.8,73.6 386.5,74.3 386.3,75.1 C386.1,75.9 385.9,76.9 385.6,77.5 C385.3,78.0 384.8,78.6 384.5,78.3 C384.2,78.0 383.9,76.8 383.7,75.8 C383.5,74.9 383.3,73.7 383.2,72.6 C383.2,71.6 383.2,70.5 383.2,69.4 C383.2,68.4 383.3,67.4 383.3,66.3 C383.4,65.2 383.4,63.6 383.6,62.8 C383.8,61.9 384.2,61.3 384.5,61.1 C384.9,60.9 385.2,61.3 385.5,61.7 C385.9,62.0 386.2,62.3 386.4,63.0 C386.7,63.8 386.8,65.0 386.9,66.1 C387.1,67.2 387.1,68.9 387.1,69.4 Z" fill="none" stroke="#2a2a2a" stroke-width="0.55"/>
<path d="M386.0,69.3 C386.1,69.7 386.1,70.9 386.1,71.6 C386.0,72.3 385.9,73.2 385.7,73.6 C385.6,74.0 385.3,73.9 385.1,73.9 C384.9,73.9 384.7,73.8 384.6,73.6 C384.4,73.3 384.3,72.9 384.1,72.6 C384.0,72.2 383.9,71.8 383.7,71.3 C383.6,70.7 383.4,70.0 383.4,69.3 C383.3,68.7 383.4,67.7 383.6,67.1 C383.7,66.5 383.9,66.1 384.0,65.7 C384.2,65.3 384.4,64.8 384.5,64.7 C384.7,64.6 384.9,64.8 385.1,65.0 C385.3,65.2 385.4,65.5 385.6,65.8 C385.7,66.2 385.9,66.8 386.0,67.3 C386.0,67.9 386.0,69.0 386.0,69.3 Z" fill="none" stroke="#2a2a2a" stroke-width="0.55"/>
<path d="M382.9,77.6 C382.9,78.1 383.0,79.6 383.0,80.5 C382.9,81.5 382.6,82.7 382.3,83.4 C382.0,84.1 381.5,84.4 381.1,84.7 C380.6,84.9 380.1,85.2 379.7,84.9 C379.2,84.7 378.8,83.9 378.5,83.2 C378.1,82.5 377.9,81.6 377.7,80.6 C377.5,79.7 377.3,78.6 377.4,77.6 C377.4,76.7 377.8,75.8 378.0,75.0 C378.2,74.1 378.4,73.4 378.6,72.6 C378.9,71.8 379.2,70.6 379.6,70.2 C380.1,69.8 380.6,69.8 381.1,70.1 C381.6,70.3 382.1,70.9 382.4,71.7 C382.7,72.5 382.9,73.7 383.0,74.7 C383.0,75.7 382.9,77.1 382.9,77.6 Z" fill="none" stroke="#2a2a2a" stroke-width="0.55"/>
<path d="M382.2,76.5 C382.2,76.9 382.0,77.9 381.9,78.6 C381.8,79.2 381.6,79.8 381.4,80.3 C381.1,80.7 380.8,81.2 380.6,81.4 C380.3,81.5 380.0,81.3 379.6,81.2 C379.3,81.1 378.9,81.1 378.6,80.8 C378.4,80.4 378.0,79.7 377.9,79.0 C377.8,78.3 377.9,77.3 378.0,76.5 C378.0,75.8 378.2,75.1 378.3,74.6 C378.5,74.0 378.7,73.5 378.9,73.1 C379.1,72.7 379.4,72.3 379.6,71.9 C379.9,71.6 380.3,71.0 380.6,71.0 C380.9,71.1 381.3,71.7 381.6,72.3 C381.8,72.8 381.9,73.7 382.0,74.4 C382.1,75.1 382.2,76.2 382.2,76.5 Z" fill="none" stroke="#2a2a2a" stroke-width="0.55"/>
<path d="M381.8,77.1 C381.7,77.3 381.6,78.0 381.5,78.4 C381.4,78.7 381.3,79.1 381.2,79.3 C381.0,79.5 380.8,79.6 380.6,79.7 C380.5,79.7 380.3,79.7 380.1,79.7 C379.9,79.7 379.7,79.9 379.5,79.7 C379.3,79.5 379.1,79.0 379.1,78.5 C379.0,78.1 379.0,77.5 379.1,77.1 C379.1,76.6 379.2,76.2 379.3,75.8 C379.4,75.5 379.5,75.3 379.7,75.0 C379.8,74.8 379.9,74.5 380.1,74.3 C380.3,74.1 380.5,73.9 380.7,74.0 C380.9,74.1 381.0,74.4 381.2,74.7 C381.3,75.0 381.5,75.3 381.6,75.7 C381.7,76.1 381.7,76.8 381.8,77.1 Z" fill="none" stroke="#2a2a2a" stroke-width="0.55"/>
<path d="M391.5,63.0 C391.5,63.5 391.6,65.0 391.4,65.8 C391.3,66.6 390.9,67.3 390.6,67.8 C390.3,68.3 389.9,68.7 389.6,68.8 C389.2,68.9 388.8,68.8 388.5,68.5 C388.2,68.2 388.0,67.5 387.7,67.0 C387.4,66.5 387.0,66.3 386.7,65.6 C386.5,65.0 386.2,63.9 386.1,63.0 C386.1,62.1 386.3,61.0 386.6,60.2 C386.8,59.4 387.1,58.6 387.4,58.2 C387.7,57.8 388.2,57.8 388.5,57.7 C388.8,57.7 389.1,57.8 389.5,57.8 C389.8,57.9 390.3,57.8 390.6,58.2 C390.9,58.6 391.2,59.5 391.3,60.3 C391.5,61.1 391.5,62.6 391.5,63.0 Z" fill="#777"/>
<path d="M392.0,63.2 C391.9,63.6 391.9,65.2 391.7,65.9 C391.5,66.6 391.1,67.2 390.8,67.5 C390.5,67.9 390.1,67.8 389.8,68.0 C389.5,68.3 389.1,68.9 388.8,69.0 C388.4,69.0 387.9,68.9 387.6,68.4 C387.3,67.9 387.0,66.9 386.9,66.0 C386.7,65.2 386.6,64.1 386.7,63.2 C386.7,62.3 387.0,61.5 387.2,60.8 C387.4,60.1 387.7,59.5 387.9,58.9 C388.2,58.3 388.4,57.5 388.8,57.3 C389.1,57.1 389.5,57.3 389.9,57.5 C390.2,57.7 390.6,58.0 390.9,58.5 C391.2,59.0 391.6,59.6 391.8,60.3 C392.0,61.1 391.9,62.7 392.0,63.2 Z" fill="none" stroke="#2a2a2a" stroke-width="0.55"/>
<path d="M390.6,63.3 C390.6,63.6 390.5,64.5 390.4,64.9 C390.3,65.4 390.1,65.8 389.9,66.0 C389.8,66.3 389.6,66.6 389.4,66.6 C389.2,66.7 389.0,66.5 388.7,66.5 C388.5,66.4 388.3,66.5 388.1,66.3 C387.9,66.0 387.6,65.6 387.5,65.2 C387.4,64.7 387.4,63.9 387.4,63.3 C387.5,62.8 387.6,62.2 387.7,61.8 C387.9,61.4 388.0,61.1 388.2,60.8 C388.4,60.6 388.5,60.4 388.7,60.2 C388.9,60.0 389.2,59.6 389.4,59.7 C389.6,59.7 389.9,60.0 390.0,60.4 C390.2,60.7 390.3,61.3 390.4,61.8 C390.5,62.3 390.6,63.1 390.6,63.3 Z" fill="none" stroke="#2a2a2a" stroke-width="0.55"/>
<path d="M394.2,78.6 C394.1,79.0 394.1,80.3 394.0,81.1 C393.8,81.8 393.6,82.6 393.4,83.2 C393.1,83.8 392.8,84.6 392.4,84.8 C392.1,85.0 391.7,84.7 391.3,84.5 C390.9,84.3 390.5,84.1 390.2,83.6 C389.9,83.1 389.5,82.3 389.4,81.5 C389.3,80.7 389.4,79.5 389.5,78.6 C389.6,77.8 389.7,77.1 389.9,76.3 C390.0,75.6 390.2,74.9 390.4,74.3 C390.6,73.7 390.9,73.2 391.3,72.7 C391.6,72.3 392.1,71.7 392.5,71.9 C392.9,72.0 393.3,72.7 393.6,73.5 C393.8,74.2 393.8,75.4 393.9,76.2 C394.0,77.1 394.1,78.2 394.2,78.6 Z" fill="none" stroke="#2a2a2a" stroke-width="0.55"/>
<path d="M393.7,79.4 C393.7,79.7 393.7,80.7 393.6,81.1 C393.5,81.6 393.3,82.1 393.1,82.3 C392.9,82.5 392.6,82.4 392.4,82.4 C392.2,82.4 392.0,82.5 391.8,82.5 C391.6,82.5 391.3,82.6 391.1,82.3 C390.9,82.1 390.8,81.6 390.7,81.1 C390.6,80.6 390.5,80.0 390.5,79.4 C390.5,78.9 390.6,78.3 390.7,77.8 C390.8,77.4 391.0,77.1 391.2,76.7 C391.4,76.4 391.6,76.0 391.8,75.9 C392.0,75.8 392.2,76.0 392.4,76.1 C392.6,76.3 392.8,76.6 392.9,76.9 C393.1,77.2 393.4,77.4 393.5,77.8 C393.6,78.2 393.7,79.2 393.7,79.4 Z" fill="none" stroke="#2a2a2a" stroke-width="0.55"/>
<path d="M409.1,82.6 C409.0,82.8 408.8,83.5 408.6,83.9 C408.4,84.4 408.4,84.9 408.1,85.3 C407.9,85.7 407.4,86.2 407.0,86.3 C406.6,86.5 406.0,86.5 405.5,86.4 C405.1,86.3 404.5,85.9 404.3,85.5 C404.0,85.1 404.0,84.4 403.9,84.0 C403.8,83.5 403.7,83.1 403.7,82.6 C403.6,82.1 403.4,81.5 403.5,81.1 C403.7,80.6 404.0,80.1 404.3,79.8 C404.7,79.5 405.1,79.1 405.6,79.0 C406.0,78.9 406.5,78.8 407.0,79.0 C407.4,79.1 407.8,79.5 408.1,79.9 C408.5,80.2 408.9,80.6 409.0,81.1 C409.2,81.5 409.1,82.3 409.1,82.6 Z" fill="none" stroke="#2a2a2a" stroke-width="0.55"/>
<path d="M408.0,82.6 C408.0,82.8 407.8,83.3 407.7,83.6 C407.5,83.8 407.3,84.0 407.1,84.2 C406.9,84.3 406.6,84.3 406.4,84.4 C406.1,84.5 405.9,84.7 405.6,84.7 C405.4,84.7 405.0,84.6 404.8,84.4 C404.6,84.2 404.5,83.9 404.4,83.6 C404.3,83.3 404.1,83.0 404.1,82.6 C404.1,82.3 404.2,82.0 404.3,81.7 C404.5,81.4 404.7,81.2 404.9,81.1 C405.1,80.9 405.4,80.7 405.6,80.7 C405.9,80.6 406.1,80.8 406.4,80.8 C406.6,80.9 406.8,81.0 407.1,81.1 C407.3,81.2 407.7,81.4 407.9,81.6 C408.0,81.9 408.0,82.5 408.0,82.6 Z" fill="none" stroke="#2a2a2a" stroke-width="0.55"/>
<path d="M397.9,81.5 C397.9,81.7 398.0,82.2 397.9,82.5 C397.8,82.7 397.6,83.1 397.4,83.2 C397.2,83.4 396.9,83.3 396.7,83.3 C396.5,83.4 396.3,83.4 396.1,83.3 C395.9,83.3 395.6,83.2 395.4,83.0 C395.3,82.9 395.2,82.6 395.1,82.3 C395.0,82.1 394.9,81.8 394.9,81.5 C394.9,81.2 394.9,80.9 395.0,80.6 C395.0,80.3 395.2,80.0 395.4,79.8 C395.6,79.6 395.8,79.4 396.0,79.3 C396.2,79.3 396.5,79.5 396.7,79.6 C396.9,79.8 397.0,80.0 397.2,80.2 C397.3,80.4 397.5,80.5 397.7,80.7 C397.8,80.9 397.9,81.4 397.9,81.5 Z" fill="none" stroke="#2a2a2a" stroke-width="0.55"/>
<path d="M283,55 C284,65 288,72 292,86 M289,55 C291,62 294,70 297,86 M296,55 C298,64 301,72 303,86 M300,60 C302,66 305,74 306,86 M277,86 C277,75 278,65 276,55" stroke="#333" stroke-width="1.3" fill="none"/>
<path d="M300,86 C300,80 302,74 306,70 M302,86 C303,80 305,78 307,74 M324,55 C325,65 323,75 325,86 M329,55 C328,65 330,75 329,86 M334,55 C335,65 333,75 334,86" stroke="#444" stroke-width="0.8" fill="none"/>
<path d="M391,58 L378,80" stroke="#3a3a3a" stroke-width="3.6" stroke-linecap="round"/><path d="M389,60 L380,76" stroke="#888" stroke-width="0.8"/>
<rect x="274" y="72" width="25" height="9.6" rx="3" fill="#f0699a"/>
<rect x="78" y="72.8" width="15.5" height="9.3" rx="2.5" fill="#f0699a"/>
<ellipse cx="41.0" cy="78.0" rx="5.5" ry="5.5" fill="#f0699a"/>
<ellipse cx="47.0" cy="70.5" rx="2.5" ry="4.0" fill="#f0699a"/>
<ellipse cx="53.5" cy="62.4" rx="1.8" ry="2.0" fill="#f0699a"/>
<ellipse cx="61.5" cy="62.4" rx="1.8" ry="2.0" fill="#f0699a"/>
<ellipse cx="66.2" cy="69.7" rx="3.0" ry="3.2" fill="#f0699a"/>
<ellipse cx="64.4" cy="80.7" rx="2.2" ry="2.5" fill="#f0699a"/>
<ellipse cx="72.4" cy="62.4" rx="1.4" ry="1.6" fill="#f0699a"/>
<ellipse cx="85.6" cy="77.4" rx="8.0" ry="4.8" fill="#f0699a"/>
<ellipse cx="227.6" cy="77.3" rx="1.0" ry="2.0" fill="#f0699a"/>
<ellipse cx="265.7" cy="77.2" rx="4.5" ry="5.8" fill="#f0699a"/>
<ellipse cx="279.0" cy="76.5" rx="5.5" ry="5.0" fill="#f0699a"/>
<ellipse cx="289.0" cy="76.5" rx="5.0" ry="5.0" fill="#f0699a"/>
<ellipse cx="296.0" cy="77.0" rx="3.0" ry="4.3" fill="#f0699a"/>
<ellipse cx="276.5" cy="59.5" rx="1.8" ry="3.2" fill="#f0699a"/>
<ellipse cx="278.0" cy="62.0" rx="1.5" ry="2.0" fill="#f0699a"/>
<ellipse cx="287.0" cy="60.0" rx="2.2" ry="3.2" fill="#f0699a"/>
<ellipse cx="289.0" cy="57.5" rx="1.5" ry="1.8" fill="#f0699a"/>
<ellipse cx="296.0" cy="60.0" rx="1.6" ry="2.6" fill="#f0699a"/>
<ellipse cx="317.5" cy="76.8" rx="3.8" ry="5.2" fill="#f0699a"/>
<ellipse cx="335.0" cy="78.0" rx="1.0" ry="5.0" fill="#f0699a"/>
<ellipse cx="379.2" cy="58.0" rx="1.6" ry="2.0" fill="#f0699a"/>
<ellipse cx="380.0" cy="78.0" rx="2.5" ry="3.5" fill="#f0699a"/>
<ellipse cx="390.0" cy="76.5" rx="1.8" ry="6.0" fill="#f0699a"/>
<ellipse cx="402.3" cy="60.0" rx="1.5" ry="2.0" fill="#f0699a"/>
<ellipse cx="402.0" cy="78.0" rx="1.5" ry="2.0" fill="#f0699a"/>
</g>
<rect x="28.8" y="54.4" width="384.5" height="31.4" fill="none" stroke="#111" stroke-width="1.4"/>
<path d="M29,77.2 H416" stroke="#0a3cff" stroke-width="1.7" stroke-dasharray="4 3"/>
<text x="416.5" y="80.8" font-size="12.30" font-weight="bold" fill="#0a3cff" stroke="#0a3cff" style="stroke-width:0.30px" text-anchor="start" >Lipids</text>
<path d="M29,181.8 H413.5" stroke="#111" stroke-width="1.3"/>
<path d="M35.7,181.8 v2.8 M48.0,181.8 v2.8 M60.4,181.8 v4.0 M72.8,181.8 v2.8 M85.1,181.8 v2.8 M97.5,181.8 v2.8 M109.8,181.8 v2.8 M122.2,181.8 v4.0 M134.6,181.8 v2.8 M146.9,181.8 v2.8 M159.3,181.8 v2.8 M171.6,181.8 v2.8 M184.0,181.8 v4.0 M196.4,181.8 v2.8 M208.7,181.8 v2.8 M221.1,181.8 v2.8 M233.4,181.8 v2.8 M245.8,181.8 v4.0 M258.2,181.8 v2.8 M270.5,181.8 v2.8 M282.9,181.8 v2.8 M295.2,181.8 v2.8 M307.6,181.8 v4.0 M320.0,181.8 v2.8 M332.3,181.8 v2.8 M344.7,181.8 v2.8 M357.0,181.8 v2.8 M369.4,181.8 v4.0 M381.8,181.8 v2.8 M394.1,181.8 v2.8 M406.5,181.8 v2.8" stroke="#111" stroke-width="1.1" fill="none"/>
<text x="61.9" y="196.4" font-size="10.00" font-weight="bold" fill="#000" stroke="#000" style="stroke-width:0.30px" text-anchor="middle" >70</text>
<text x="123.7" y="196.4" font-size="10.00" font-weight="bold" fill="#000" stroke="#000" style="stroke-width:0.30px" text-anchor="middle" >60</text>
<text x="185.5" y="196.4" font-size="10.00" font-weight="bold" fill="#000" stroke="#000" style="stroke-width:0.30px" text-anchor="middle" >50</text>
<text x="247.3" y="196.4" font-size="10.00" font-weight="bold" fill="#000" stroke="#000" style="stroke-width:0.30px" text-anchor="middle" >40</text>
<text x="309.1" y="196.4" font-size="10.00" font-weight="bold" fill="#000" stroke="#000" style="stroke-width:0.30px" text-anchor="middle" >30</text>
<text x="370.9" y="196.4" font-size="10.00" font-weight="bold" fill="#000" stroke="#000" style="stroke-width:0.30px" text-anchor="middle" >20</text>
<text x="189.2" y="208.4" font-size="12.5" font-weight="bold"><tspan font-size="6.8" dy="-4.3">13</tspan><tspan dy="4.3">C (ppm)</tspan></text>
<path d="M29.5,169.4 C30.1,169.5 31.8,170.5 32.9,170.3 C34.1,170.1 35.4,171.1 36.3,168.0 C37.3,164.9 38.0,158.9 38.6,151.7 C39.2,144.4 39.5,131.4 40.0,124.5 C40.4,117.6 40.9,110.8 41.3,110.4 C41.8,110.0 42.2,115.3 42.7,122.2 C43.2,129.1 43.7,144.1 44.3,151.7 C44.8,159.2 45.3,164.5 45.9,167.6 C46.4,170.7 46.2,169.9 47.7,170.3 C49.1,170.7 52.2,169.7 54.5,169.8 C56.7,169.9 58.6,171.0 61.3,171.0 C63.9,171.0 68.3,170.4 70.4,169.8 C72.4,169.3 72.6,169.5 73.8,167.6 C74.9,165.7 76.3,166.1 77.2,158.5 C78.0,150.9 78.4,132.2 79.0,122.2 C79.5,112.2 79.9,99.9 80.3,98.4 C80.8,96.9 81.2,106.1 81.7,113.1 C82.1,120.1 82.6,133.5 83.0,140.4 C83.5,147.2 84.0,154.3 84.4,154.0 C84.9,153.6 85.4,143.0 85.8,138.1 C86.2,133.2 86.5,125.2 86.9,124.5 C87.4,123.7 88.0,129.0 88.5,133.5 C89.0,138.1 89.5,146.8 90.1,151.7 C90.6,156.6 91.4,160.2 91.9,163.0 C92.4,165.9 92.1,167.6 93.0,168.7 C94.0,169.8 95.7,169.6 97.6,169.4 C99.5,169.2 102.1,167.6 104.4,167.6 C106.6,167.6 108.5,169.0 111.2,169.4 C113.8,169.8 118.0,169.7 120.2,169.8 C122.5,170.0 123.4,170.3 124.5,170.2 C125.6,170.2 126.0,169.3 126.8,169.5 C127.6,169.6 128.3,170.7 129.1,171.1 C129.8,171.4 130.6,171.6 131.3,171.4 C132.1,171.2 132.8,170.0 133.6,169.7 C134.4,169.4 135.1,169.5 135.9,169.8 C136.6,170.1 137.4,171.3 138.1,171.5 C138.9,171.7 139.7,171.3 140.4,171.0 C141.2,170.6 141.9,169.5 142.7,169.4 C143.4,169.3 144.2,170.0 144.9,170.3 C145.7,170.7 146.5,171.6 147.2,171.6 C148.0,171.7 148.7,170.8 149.5,170.4 C150.2,170.0 151.0,169.3 151.7,169.4 C152.5,169.5 153.3,170.6 154.0,170.9 C154.8,171.3 155.5,171.7 156.3,171.5 C157.0,171.3 157.8,170.2 158.5,169.8 C159.3,169.5 160.1,169.4 160.8,169.7 C161.6,169.9 162.3,171.1 163.1,171.4 C163.8,171.6 164.6,171.4 165.4,171.1 C166.1,170.8 166.9,169.6 167.6,169.5 C168.4,169.3 169.1,169.8 169.9,170.2 C170.6,170.5 171.4,171.6 172.2,171.6 C172.9,171.7 173.7,170.9 174.4,170.6 C175.2,170.2 175.9,169.3 176.7,169.4 C177.4,169.4 178.2,170.4 179.0,170.8 C179.7,171.1 180.5,171.7 181.2,171.6 C182.0,171.4 182.7,170.3 183.5,170.0 C184.2,169.7 185.0,169.4 185.8,169.6 C186.5,169.8 187.3,171.0 188.0,171.3 C188.8,171.5 189.5,171.5 190.3,171.2 C191.1,171.0 191.8,169.8 192.6,169.6 C193.3,169.4 194.1,169.7 194.8,170.0 C195.6,170.4 196.3,171.5 197.1,171.6 C197.9,171.7 198.6,171.1 199.4,170.7 C200.1,170.4 200.9,169.4 201.6,169.4 C202.4,169.4 203.1,170.2 203.9,170.6 C204.7,171.0 205.4,171.7 206.2,171.6 C206.9,171.5 207.7,170.5 208.4,170.1 C209.2,169.8 209.9,169.3 210.7,169.5 C211.5,169.7 211.9,171.1 213.0,171.1 C214.1,171.2 216.2,170.3 217.3,169.8 C218.4,169.3 218.6,168.5 219.5,168.0 C220.5,167.6 221.8,167.6 222.9,167.1 C224.1,166.6 225.4,164.6 226.3,164.8 C227.3,165.1 227.7,167.9 228.6,168.7 C229.6,169.5 230.9,170.0 232.0,169.8 C233.1,169.6 234.3,167.4 235.4,167.6 C236.5,167.8 237.7,170.4 238.8,171.0 C239.9,171.5 241.1,170.8 242.2,171.0 C243.3,171.2 244.5,172.5 245.6,172.1 C246.7,171.7 247.9,168.7 249.0,168.7 C250.1,168.7 251.3,171.3 252.4,172.1 C253.5,172.9 254.7,174.0 255.8,173.2 C257.0,172.5 258.3,171.9 259.2,167.6 C260.2,163.2 260.8,153.4 261.5,147.2 C262.1,140.9 262.6,133.5 263.1,130.1 C263.6,126.7 264.0,126.2 264.4,126.7 C264.8,127.3 265.1,128.6 265.6,133.5 C266.0,138.5 266.6,149.8 267.2,156.2 C267.7,162.6 268.4,168.9 269.0,172.1 C269.5,175.3 270.0,177.4 270.6,175.5 C271.1,173.6 271.7,168.5 272.1,160.8 C272.6,153.0 273.0,138.5 273.5,129.0 C274.0,119.6 274.5,109.7 274.9,104.1 C275.2,98.4 275.5,95.4 275.8,95.0 C276.1,94.6 276.3,97.3 276.7,101.8 C277.1,106.3 277.5,116.0 278.0,122.2 C278.5,128.4 279.1,137.5 279.6,139.2 C280.2,140.9 280.7,132.8 281.2,132.4 C281.7,132.0 282.2,135.2 282.6,137.0 C283.0,138.7 283.3,142.1 283.7,142.6 C284.2,143.2 284.7,139.8 285.3,140.4 C285.9,140.9 286.5,144.1 287.1,146.0 C287.7,147.9 288.2,151.5 288.7,151.7 C289.2,151.9 289.7,147.5 290.3,147.2 C290.9,146.8 291.5,148.1 292.1,149.4 C292.7,150.7 293.3,152.8 293.9,155.1 C294.5,157.4 295.0,160.9 295.5,163.0 C296.0,165.1 296.5,166.4 297.1,167.6 C297.7,168.7 298.2,168.9 298.9,169.8 C299.6,170.8 300.4,173.2 301.2,173.2 C301.9,173.2 301.9,170.5 303.4,169.8 C304.9,169.2 308.6,170.1 310.1,169.4 C311.6,168.8 311.8,167.1 312.6,165.7 C313.4,164.2 314.1,165.7 314.6,160.6 C315.2,155.6 315.5,144.7 315.9,135.4 C316.2,126.2 316.3,109.8 316.6,105.2 C316.9,100.5 317.3,102.6 317.6,107.7 C318.0,112.7 318.2,126.2 318.7,135.4 C319.1,144.7 319.5,157.9 320.2,163.1 C320.8,168.4 321.8,166.1 322.7,166.9 C323.5,167.8 324.4,168.2 325.2,168.2 C326.0,168.2 326.7,167.4 327.7,166.9 C328.8,166.4 330.2,164.7 331.5,165.2 C332.8,165.6 333.8,168.9 335.3,169.4 C336.8,170.0 338.7,168.2 340.3,168.2 C342.0,168.2 343.7,169.4 345.4,169.4 C347.1,169.4 348.7,168.2 350.4,168.2 C352.1,168.2 353.8,169.7 355.5,169.4 C357.1,169.2 358.8,166.7 360.5,166.9 C362.2,167.1 364.1,170.3 365.5,170.7 C367.0,171.1 368.1,170.1 369.3,169.4 C370.6,168.8 371.8,167.6 373.1,166.9 C374.4,166.3 376.0,166.7 376.9,165.7 C377.8,164.6 378.1,161.3 378.6,160.6 C379.2,160.0 379.6,160.4 380.2,161.9 C380.7,163.4 381.2,168.0 381.9,169.4 C382.6,170.9 383.6,171.1 384.4,170.7 C385.3,170.3 386.1,169.0 387.0,166.9 C387.8,164.8 388.9,158.7 389.5,158.1 C390.1,157.5 390.1,161.0 390.7,163.1 C391.4,165.2 392.2,169.2 393.3,170.7 C394.3,172.2 395.8,172.6 397.1,172.0 C398.3,171.3 400.0,168.1 400.8,166.9 C401.7,165.8 401.6,164.7 402.1,165.2 C402.6,165.6 403.0,168.7 403.9,169.4 C404.7,170.2 406.0,169.2 407.1,169.4 C408.3,169.7 410.3,170.5 410.9,170.7" stroke="#f0699a" stroke-width="1.45" fill="none" stroke-linejoin="round"/>
<path d="M29.5,159.6 C29.9,158.8 31.0,155.2 31.8,154.4 C32.6,153.7 33.4,154.8 34.1,155.1 C34.8,155.4 35.3,156.6 35.9,156.2 C36.5,155.8 36.9,155.8 37.5,152.8 C38.0,149.8 38.4,143.6 39.1,138.1 C39.7,132.6 40.6,121.8 41.3,119.9 C42.0,118.1 42.5,123.3 43.1,126.7 C43.8,130.1 44.7,135.8 45.4,140.4 C46.1,144.9 46.7,150.2 47.2,154.0 C47.8,157.7 48.2,161.1 48.8,163.0 C49.5,164.9 50.1,164.6 51.1,165.3 C52.0,166.0 53.2,167.1 54.5,167.1 C55.8,167.1 57.5,166.0 59.0,165.3 C60.5,164.6 62.0,163.2 63.5,163.0 C65.1,162.8 66.6,164.3 68.1,164.2 C69.6,164.0 71.3,162.5 72.6,161.9 C73.9,161.3 75.1,162.1 76.0,160.8 C77.0,159.4 77.6,156.8 78.3,154.0 C79.0,151.1 79.6,146.5 80.1,143.8 C80.6,141.0 80.8,138.3 81.2,137.6 C81.7,137.0 82.3,139.1 82.8,139.9 C83.4,140.7 83.8,141.7 84.4,142.6 C85.0,143.5 85.6,145.2 86.2,145.3 C86.8,145.5 87.5,143.6 88.0,143.8 C88.6,143.9 89.1,144.5 89.6,146.0 C90.2,147.5 90.6,150.2 91.2,152.8 C91.8,155.5 92.3,160.2 93.0,161.9 C93.7,163.6 94.5,163.0 95.3,163.0 C96.1,163.0 96.6,162.3 97.6,161.9 C98.5,161.5 100.0,161.1 101.0,160.8 C101.9,160.4 102.5,159.6 103.2,159.6 C104.0,159.6 104.9,160.0 105.5,160.8 C106.1,161.5 106.4,163.3 107.1,164.2 C107.7,165.0 108.5,165.9 109.4,165.7 C110.2,165.6 111.4,163.6 112.3,163.0 C113.2,162.5 113.8,162.2 114.6,162.6 C115.3,163.0 115.9,164.5 116.8,165.3 C117.8,166.1 119.3,166.0 120.2,167.1 C121.1,168.2 121.6,171.6 122.3,172.1 C123.0,172.6 123.8,170.4 124.5,169.8 C125.3,169.3 126.0,169.1 126.8,168.7 C127.6,168.3 128.3,168.9 129.1,167.6 C129.8,166.2 130.7,163.1 131.3,160.8 C132.0,158.4 132.6,154.3 133.2,153.5 C133.7,152.7 134.2,154.8 134.7,156.2 C135.3,157.6 135.8,160.6 136.3,161.9 C136.9,163.2 137.5,163.6 138.1,164.2 C138.8,164.7 139.7,164.7 140.4,165.3 C141.2,165.9 141.9,167.0 142.7,167.6 C143.4,168.1 144.2,168.9 144.9,168.7 C145.7,168.5 146.5,167.4 147.2,166.4 C147.9,165.5 148.5,163.8 149.0,163.0 C149.5,162.3 149.7,161.5 150.2,161.9 C150.6,162.3 151.1,164.0 151.7,165.3 C152.4,166.6 152.9,168.9 154.0,169.8 C155.1,170.8 157.0,171.0 158.5,171.0 C160.1,171.0 162.0,169.5 163.1,169.8 C164.2,170.2 164.4,172.9 165.4,173.2 C166.3,173.6 167.6,172.5 168.8,172.1 C169.9,171.7 171.0,171.0 172.2,171.0 C173.3,171.0 174.4,171.7 175.6,172.1 C176.7,172.5 177.8,172.5 179.0,173.2 C180.1,174.0 181.2,177.0 182.4,176.6 C183.5,176.3 184.4,171.5 185.8,171.0 C187.1,170.4 188.8,173.0 190.3,173.2 C191.8,173.4 193.3,172.5 194.8,172.1 C196.3,171.7 197.9,170.8 199.4,171.0 C200.9,171.2 202.4,172.7 203.9,173.2 C205.4,173.8 206.9,174.4 208.4,174.4 C209.9,174.4 211.3,173.4 213.0,173.2 C214.6,173.0 216.9,173.6 218.4,173.2 C219.9,172.9 220.7,171.7 221.8,171.0 C222.9,170.2 224.1,169.3 225.2,168.7 C226.3,168.1 227.5,167.8 228.6,167.6 C229.7,167.3 230.9,166.9 232.0,167.1 C233.1,167.3 234.3,168.2 235.4,168.7 C236.5,169.1 237.7,169.6 238.8,169.8 C239.9,170.0 240.9,170.0 242.2,169.8 C243.5,169.6 245.2,169.1 246.7,168.7 C248.3,168.3 249.8,167.8 251.3,167.6 C252.8,167.3 254.5,167.5 255.8,167.1 C257.1,166.7 258.3,166.7 259.2,165.3 C260.2,163.9 260.7,160.8 261.5,158.5 C262.2,156.2 263.0,153.5 263.8,151.7 C264.5,149.9 265.4,147.6 266.0,147.6 C266.7,147.6 267.0,149.3 267.6,151.7 C268.2,154.1 268.8,159.2 269.4,161.9 C270.0,164.5 270.7,167.2 271.2,167.6 C271.8,167.9 272.3,165.9 272.8,164.2 C273.4,162.5 273.8,159.6 274.4,157.4 C275.0,155.1 275.6,150.8 276.2,150.6 C276.8,150.3 277.5,154.4 278.0,155.8 C278.6,157.1 279.1,158.6 279.6,158.5 C280.2,158.4 280.6,156.6 281.2,155.1 C281.8,153.6 282.3,151.1 283.0,149.4 C283.7,147.7 284.6,145.9 285.3,144.9 C286.0,143.8 286.5,143.1 287.1,143.1 C287.7,143.1 288.1,144.8 288.7,144.9 C289.3,145.0 290.2,143.0 291.0,143.8 C291.7,144.5 292.5,147.5 293.2,149.4 C294.0,151.3 294.7,153.0 295.5,155.1 C296.3,157.2 297.0,160.4 297.8,161.9 C298.5,163.4 299.3,163.7 300.0,164.2 C300.8,164.7 301.5,165.0 302.3,164.8 C303.1,164.7 302.9,163.5 304.6,163.0 C306.3,162.5 310.8,162.4 312.6,161.9 C314.4,161.4 314.3,161.2 315.1,160.1 C316.0,159.1 316.8,157.4 317.6,155.6 C318.5,153.8 319.4,150.8 320.2,149.3 C320.9,147.8 321.6,146.5 322.2,146.8 C322.8,147.0 323.2,149.3 323.9,150.5 C324.7,151.8 325.6,154.0 326.5,154.3 C327.3,154.7 328.1,152.1 329.0,152.6 C329.8,153.0 330.7,155.9 331.5,156.8 C332.4,157.8 333.2,157.5 334.0,158.1 C334.9,158.7 335.7,159.4 336.6,160.6 C337.4,161.9 338.0,164.5 339.1,165.7 C340.1,166.8 341.6,167.3 342.9,167.7 C344.1,168.1 345.6,168.9 346.6,168.2 C347.7,167.4 348.3,164.2 349.2,163.1 C350.0,162.1 350.8,161.8 351.7,161.9 C352.5,162.0 353.4,163.6 354.2,163.6 C355.0,163.6 355.9,162.5 356.7,161.9 C357.6,161.3 358.4,159.7 359.2,160.1 C360.1,160.5 360.9,162.6 361.8,164.4 C362.6,166.2 363.4,169.4 364.3,170.7 C365.1,172.0 365.8,171.8 366.8,172.0 C367.9,172.2 369.3,172.6 370.6,172.0 C371.8,171.3 373.3,170.3 374.4,168.2 C375.4,166.1 376.0,162.1 376.9,159.4 C377.7,156.6 378.7,152.6 379.4,151.8 C380.1,151.0 380.5,152.4 381.2,154.3 C381.8,156.2 382.4,161.3 383.2,163.1 C383.9,165.0 384.9,165.7 385.7,165.7 C386.5,165.7 387.4,162.7 388.2,163.1 C389.1,163.6 389.9,166.6 390.7,168.2 C391.6,169.8 392.4,171.9 393.3,172.7 C394.1,173.6 394.7,173.6 395.8,173.2 C396.8,172.9 398.3,171.1 399.6,170.7 C400.8,170.3 402.3,170.5 403.4,170.7 C404.4,170.9 404.9,172.7 405.9,172.0 C406.8,171.2 407.8,166.2 408.9,166.2 C409.9,166.2 411.6,171.0 412.2,172.0" stroke="#2a2a2a" stroke-width="1.4" fill="none" stroke-linejoin="round"/>
<text x="100.7" y="121.3" font-size="9.80" font-weight="bold" fill="#0a3cff" stroke="#0a3cff" style="stroke-width:0.30px" text-anchor="start" >K32CA</text>
<text x="142.2" y="121.3" font-size="9.80" font-weight="bold" fill="#0a3cff" stroke="#0a3cff" style="stroke-width:0.30px" text-anchor="start" >H37CA</text>
<text x="181.2" y="121.3" font-size="9.80" font-weight="bold" fill="#0a3cff" stroke="#0a3cff" style="stroke-width:0.30px" text-anchor="start" >H40CA</text>
<text x="278.8" y="109.2" font-size="9.80" font-weight="bold" fill="#0a3cff" stroke="#0a3cff" style="stroke-width:0.30px" text-anchor="start" >K32CB</text>
<text x="286.3" y="123.0" font-size="9.80" font-weight="bold" fill="#0a3cff" stroke="#0a3cff" style="stroke-width:0.30px" text-anchor="start" >H37CB</text>
<text x="316.8" y="108.2" font-size="9.80" font-weight="bold" fill="#0a3cff" stroke="#0a3cff" style="stroke-width:0.30px" text-anchor="start" >H40CB</text>
<text x="323.2" y="125.8" font-size="9.80" font-weight="bold" fill="#0a3cff" stroke="#0a3cff" style="stroke-width:0.30px" text-anchor="start" >K32CG</text>
<text x="89.0" y="137.4" font-size="7.60" font-weight="bold" fill="#000" stroke="#000" style="stroke-width:0.20px" text-anchor="start" >C76CA</text>
<text x="118.8" y="132.6" font-size="7.60" font-weight="bold" fill="#000" stroke="#000" style="stroke-width:0.20px" text-anchor="start" >Q29CA</text>
<text x="104.5" y="145.6" font-size="7.60" font-weight="bold" fill="#000" stroke="#000" style="stroke-width:0.20px" text-anchor="start" >S22CB</text>
<text x="133.0" y="147.4" font-size="7.60" font-weight="bold" fill="#000" stroke="#000" style="stroke-width:0.20px" text-anchor="start" >E39CA</text>
<text x="168.0" y="146.6" font-size="7.60" font-weight="bold" fill="#000" stroke="#000" style="stroke-width:0.20px" text-anchor="start" >A84CA</text>
<text x="170.0" y="158.6" font-size="7.60" font-weight="bold" fill="#000" stroke="#000" style="stroke-width:0.20px" text-anchor="start" >S22CA</text>
<text x="241.8" y="132.7" font-size="7.60" font-weight="bold" fill="#000" stroke="#000" style="stroke-width:0.20px" text-anchor="start" >Q29CG</text>
<text x="299.4" y="145.6" font-size="7.60" font-weight="bold" fill="#000" stroke="#000" style="stroke-width:0.20px" text-anchor="start" >Q29CB</text>
<text x="330.8" y="140.6" font-size="7.60" font-weight="bold" fill="#000" stroke="#000" style="stroke-width:0.20px" text-anchor="start" >E39CB</text>
<text x="340.3" y="149.4" font-size="7.60" font-weight="bold" fill="#000" stroke="#000" style="stroke-width:0.20px" text-anchor="start" >C76CB</text>
<text x="383.7" y="140.0" font-size="7.60" font-weight="bold" fill="#000" stroke="#000" style="stroke-width:0.20px" text-anchor="start" >A84CB</text>
<path d="M101.0,139.2 L104.4,157.4 M111.2,148.3 L105.5,159.6 M117.5,122.7 L114.1,161.9 M129.1,134.7 L134.7,154.0 M140.4,148.3 L138.6,163.0 M158.5,122.7 L142.7,164.2 M186.9,123.3 L151.7,159.6 M177.8,147.6 L151.7,160.3 M173.3,160.8 L151.7,162.1 M253.5,134.7 L262.6,150.6 M287.6,109.7 L278.5,140.4 M296.6,124.5 L301.2,163.0 M323.2,110.2 L308.8,155.6 M334.0,126.6 L326.5,153.1 M331.5,141.7 L327.7,153.1 M340.3,146.8 L331.5,156.8 M392.0,143.0 L381.2,152.6 M299.4,148.3 L304.6,163.0" stroke="#000" stroke-width="0.95" fill="none"/>
<text x="444.3" y="33.0" font-size="17.00" font-weight="bold" fill="#000" stroke="#000" style="stroke-width:0.30px" text-anchor="start" >b</text>
<path d="M486.6,25.8 V159.3 H678.5" stroke="#111" stroke-width="1.4" fill="none"/>
<path d="M486.6,159.0 h-4.0 M486.6,142.4 h-2.4 M486.6,125.9 h-4.0 M486.6,109.3 h-2.4 M486.6,92.8 h-4.0 M486.6,76.2 h-2.4 M486.6,59.7 h-4.0 M486.6,43.1 h-2.4 M486.6,26.6 h-4.0 M493.0,159.3 v4.6 M504.9,159.3 v2.6 M516.9,159.3 v4.6 M528.9,159.3 v2.6 M540.8,159.3 v4.6 M552.8,159.3 v2.6 M564.7,159.3 v4.6 M576.6,159.3 v2.6 M588.6,159.3 v4.6 M600.5,159.3 v2.6 M612.5,159.3 v4.6 M624.5,159.3 v2.6 M636.4,159.3 v4.6 M648.4,159.3 v2.6 M660.3,159.3 v4.6 M672.2,159.3 v2.6" stroke="#111" stroke-width="1" fill="none"/>
<text x="482.6" y="29.6" font-size="9.70" font-weight="bold" fill="#000" stroke="#000" style="stroke-width:0.30px" text-anchor="end" >2.0</text>
<text x="482.6" y="62.7" font-size="9.70" font-weight="bold" fill="#000" stroke="#000" style="stroke-width:0.30px" text-anchor="end" >1.5</text>
<text x="482.6" y="95.8" font-size="9.70" font-weight="bold" fill="#000" stroke="#000" style="stroke-width:0.30px" text-anchor="end" >1.0</text>
<text x="482.6" y="128.9" font-size="9.70" font-weight="bold" fill="#000" stroke="#000" style="stroke-width:0.30px" text-anchor="end" >0.5</text>
<text x="493.0" y="175.3" font-size="10.50" font-weight="bold" fill="#000" stroke="#000" style="stroke-width:0.30px" text-anchor="middle" >20</text>
<text x="516.9" y="175.3" font-size="10.50" font-weight="bold" fill="#000" stroke="#000" style="stroke-width:0.30px" text-anchor="middle" >30</text>
<text x="540.8" y="175.3" font-size="10.50" font-weight="bold" fill="#000" stroke="#000" style="stroke-width:0.30px" text-anchor="middle" >40</text>
<text x="564.7" y="175.3" font-size="10.50" font-weight="bold" fill="#000" stroke="#000" style="stroke-width:0.30px" text-anchor="middle" >50</text>
<text x="588.6" y="175.3" font-size="10.50" font-weight="bold" fill="#000" stroke="#000" style="stroke-width:0.30px" text-anchor="middle" >60</text>
<text x="612.5" y="175.3" font-size="10.50" font-weight="bold" fill="#000" stroke="#000" style="stroke-width:0.30px" text-anchor="middle" >70</text>
<text x="636.4" y="175.3" font-size="10.50" font-weight="bold" fill="#000" stroke="#000" style="stroke-width:0.30px" text-anchor="middle" >80</text>
<text x="660.3" y="175.3" font-size="10.50" font-weight="bold" fill="#000" stroke="#000" style="stroke-width:0.30px" text-anchor="middle" >90</text>
<text x="585.7" y="189.0" font-size="12.50" font-weight="bold" fill="#000" stroke="#000" style="stroke-width:0.30px" text-anchor="middle" >Residue Number</text>
<text transform="translate(463,96) rotate(-90)" text-anchor="middle" font-size="12.6" font-weight="bold">Residence time (µs)</text>
<path d="M492.8,159 L492.8,158.6 L495.3,145.8 L498.2,158.6 L500.1,158.6 L502.6,121.4 L505.5,156.8 L507.4,154.9 L509.9,94.8 L512.1,102.1 L513.9,156.8 L516.5,116.6 L520.1,94.8 L523.0,98.4 L525.6,103.9 L528.1,105.7 L531.1,92.9 L534.0,78.4 L536.5,87.5 L538.4,91.1 L540.2,52.5 L542.7,55.0 L544.9,107.5 L546.4,154.9 L549.3,158.6 L552.9,158.6 L555.5,140.4 L557.3,129.4 L559.5,158.6 L562.1,158.6 L564.6,115.6 L567.5,114.1 L569.4,158.6 L571.2,140.4 L574.1,74.0 L576.6,158.6 L579.2,158.6 L581.4,123.9 L583.6,131.2 L585.8,158.6 L589.4,158.6 L591.2,152.0 L593.8,158.6 L626.0,159.0 L627.5,154.2 L629.3,142.8 L631.1,159.0 L633.1,159.0 L635.6,145.4 L638.6,125.2 L640.6,154.2 L643.2,158.0 L646.2,145.4 L648.2,158.0 L650.7,154.2 L653.2,156.7 L657.0,154.2 L660.3,145.4 L663.3,146.6 L665.3,142.8 L667.1,134.0 L669.6,131.5 L670.9,120.2 L671.9,93.2 L674.7,122.7 L677.2,111.3 L678.3,159.0 L678.3,159 Z" fill="#8c8c8c" stroke="none"/>
<path d="M495.3,142.2 V151.3 M493.8,142.2 h3 M502.6,116.6 V127.6 M501.1,116.6 h3 M509.2,85.6 V103.9 M507.7,85.6 h3 M512.1,92.9 V107.5 M510.6,92.9 h3 M533.6,71.1 V92.9 M532.1,71.1 h3 M536.5,74.7 V111.2 M535.0,74.7 h3 M540.2,36.4 V71.1 M538.7,36.4 h3 M542.7,41.9 V67.4 M541.2,41.9 h3 M538.4,82.0 V111.2 M536.9,82.0 h3 M557.3,123.9 V136.7 M555.8,123.9 h3 M564.6,109.4 V125.8 M563.1,109.4 h3 M567.5,105.7 V122.1 M566.0,105.7 h3 M574.1,36.4 V140.4 M572.6,36.4 h3 M581.4,120.3 V129.4 M579.9,120.3 h3 M583.6,114.8 V136.7 M582.1,114.8 h3 M591.2,148.4 V154.9 M589.7,148.4 h3 M629.3,138.0 V150.0 M627.8,138.0 h3 M638.6,120.0 V132.0 M637.1,120.0 h3 M646.2,140.0 V150.0 M644.7,140.0 h3 M660.3,141.0 V150.0 M658.8,141.0 h3 M669.6,126.0 V138.0 M668.1,126.0 h3 M671.9,86.0 V100.0 M670.4,86.0 h3 M677.2,104.0 V118.0 M675.7,104.0 h3 M635.6,141.0 V150.0 M634.1,141.0 h3" stroke="#3a3a3a" stroke-width="0.7" fill="none"/>
<path d="M492.8,158.6 L495.3,145.8 L498.2,158.6 L500.1,158.6 L502.6,121.4 L505.5,156.8 L507.4,154.9 L509.9,94.8 L512.1,102.1 L513.9,156.8 L516.5,116.6 L520.1,94.8 L523.0,98.4 L525.6,103.9 L528.1,105.7 L531.1,92.9 L534.0,78.4 L536.5,87.5 L538.4,91.1 L540.2,52.5 L542.7,55.0 L544.9,107.5 L546.4,154.9 L549.3,158.6 L552.9,158.6 L555.5,140.4 L557.3,129.4 L559.5,158.6 L562.1,158.6 L564.6,115.6 L567.5,114.1 L569.4,158.6 L571.2,140.4 L574.1,74.0 L576.6,158.6 L579.2,158.6 L581.4,123.9 L583.6,131.2 L585.8,158.6 L589.4,158.6 L591.2,152.0 L593.8,158.6 L626.0,159.0 L627.5,154.2 L629.3,142.8 L631.1,159.0 L633.1,159.0 L635.6,145.4 L638.6,125.2 L640.6,154.2 L643.2,158.0 L646.2,145.4 L648.2,158.0 L650.7,154.2 L653.2,156.7 L657.0,154.2 L660.3,145.4 L663.3,146.6 L665.3,142.8 L667.1,134.0 L669.6,131.5 L670.9,120.2 L671.9,93.2 L674.7,122.7 L677.2,111.3 L678.3,159.0" fill="none" stroke="#3030e0" stroke-width="0.95" stroke-linejoin="round"/>
<defs><linearGradient id="hg" x1="0" y1="0" x2="1" y2="0"><stop offset="0" stop-color="#d8d8d8"/><stop offset="0.4" stop-color="#fbfbfb"/><stop offset="1" stop-color="#ababab"/></linearGradient></defs>
<path d="M598.4,28.1 L599.4,84.1 L608.6,83.9 L607.6,27.9 Z" fill="#cacaca" stroke="#8c8c8c" stroke-width="0.5"/>
<ellipse cx="603.0" cy="28.0" rx="5.5" ry="4.1" transform="rotate(-23.0 603.0 28.0)" fill="url(#hg)" stroke="#8c8c8c" stroke-width="0.5"/>
<ellipse cx="603.1" cy="35.5" rx="5.5" ry="4.1" transform="rotate(-23.0 603.1 35.5)" fill="url(#hg)" stroke="#8c8c8c" stroke-width="0.5"/>
<ellipse cx="603.3" cy="43.0" rx="5.5" ry="4.1" transform="rotate(-23.0 603.3 43.0)" fill="url(#hg)" stroke="#8c8c8c" stroke-width="0.5"/>
<ellipse cx="603.4" cy="50.5" rx="5.5" ry="4.1" transform="rotate(-23.0 603.4 50.5)" fill="url(#hg)" stroke="#8c8c8c" stroke-width="0.5"/>
<ellipse cx="603.5" cy="58.0" rx="5.5" ry="4.1" transform="rotate(-23.0 603.5 58.0)" fill="url(#hg)" stroke="#8c8c8c" stroke-width="0.5"/>
<ellipse cx="603.7" cy="65.5" rx="5.5" ry="4.1" transform="rotate(-23.0 603.7 65.5)" fill="url(#hg)" stroke="#8c8c8c" stroke-width="0.5"/>
<ellipse cx="603.8" cy="73.0" rx="5.5" ry="4.1" transform="rotate(-23.0 603.8 73.0)" fill="url(#hg)" stroke="#8c8c8c" stroke-width="0.5"/>
<ellipse cx="603.9" cy="80.5" rx="5.5" ry="4.1" transform="rotate(-23.0 603.9 80.5)" fill="url(#hg)" stroke="#8c8c8c" stroke-width="0.5"/>
<path d="M646.4,38.1 L647.4,90.1 L656.6,89.9 L655.6,37.9 Z" fill="#cacaca" stroke="#8c8c8c" stroke-width="0.5"/>
<ellipse cx="651.0" cy="38.0" rx="5.5" ry="4.1" transform="rotate(-23.1 651.0 38.0)" fill="url(#hg)" stroke="#8c8c8c" stroke-width="0.5"/>
<ellipse cx="651.1" cy="45.5" rx="5.5" ry="4.1" transform="rotate(-23.1 651.1 45.5)" fill="url(#hg)" stroke="#8c8c8c" stroke-width="0.5"/>
<ellipse cx="651.3" cy="53.0" rx="5.5" ry="4.1" transform="rotate(-23.1 651.3 53.0)" fill="url(#hg)" stroke="#8c8c8c" stroke-width="0.5"/>
<ellipse cx="651.4" cy="60.5" rx="5.5" ry="4.1" transform="rotate(-23.1 651.4 60.5)" fill="url(#hg)" stroke="#8c8c8c" stroke-width="0.5"/>
<ellipse cx="651.6" cy="68.0" rx="5.5" ry="4.1" transform="rotate(-23.1 651.6 68.0)" fill="url(#hg)" stroke="#8c8c8c" stroke-width="0.5"/>
<ellipse cx="651.7" cy="75.5" rx="5.5" ry="4.1" transform="rotate(-23.1 651.7 75.5)" fill="url(#hg)" stroke="#8c8c8c" stroke-width="0.5"/>
<ellipse cx="651.9" cy="83.0" rx="5.5" ry="4.1" transform="rotate(-23.1 651.9 83.0)" fill="url(#hg)" stroke="#8c8c8c" stroke-width="0.5"/>
<path d="M594.7,5.9 L592.7,95.9 L605.3,96.1 L607.3,6.1 Z" fill="#cacaca" stroke="#8c8c8c" stroke-width="0.5"/>
<ellipse cx="601.0" cy="6.0" rx="7.5" ry="4.1" transform="rotate(-20.7 601.0 6.0)" fill="url(#hg)" stroke="#8c8c8c" stroke-width="0.5"/>
<ellipse cx="600.8" cy="13.5" rx="7.5" ry="4.1" transform="rotate(-20.7 600.8 13.5)" fill="url(#hg)" stroke="#8c8c8c" stroke-width="0.5"/>
<ellipse cx="600.7" cy="21.0" rx="7.5" ry="4.1" transform="rotate(-20.7 600.7 21.0)" fill="url(#hg)" stroke="#8c8c8c" stroke-width="0.5"/>
<ellipse cx="600.5" cy="28.5" rx="7.5" ry="4.1" transform="rotate(-20.7 600.5 28.5)" fill="url(#hg)" stroke="#8c8c8c" stroke-width="0.5"/>
<ellipse cx="600.3" cy="36.0" rx="7.5" ry="4.1" transform="rotate(-20.7 600.3 36.0)" fill="url(#hg)" stroke="#8c8c8c" stroke-width="0.5"/>
<ellipse cx="600.2" cy="43.5" rx="7.5" ry="4.1" transform="rotate(-20.7 600.2 43.5)" fill="url(#hg)" stroke="#8c8c8c" stroke-width="0.5"/>
<ellipse cx="600.0" cy="51.0" rx="7.5" ry="4.1" transform="rotate(-20.7 600.0 51.0)" fill="url(#hg)" stroke="#8c8c8c" stroke-width="0.5"/>
<ellipse cx="599.8" cy="58.5" rx="7.5" ry="4.1" transform="rotate(-20.7 599.8 58.5)" fill="url(#hg)" stroke="#8c8c8c" stroke-width="0.5"/>
<ellipse cx="599.7" cy="66.0" rx="7.5" ry="4.1" transform="rotate(-20.7 599.7 66.0)" fill="url(#hg)" stroke="#8c8c8c" stroke-width="0.5"/>
<ellipse cx="599.5" cy="73.5" rx="7.5" ry="4.1" transform="rotate(-20.7 599.5 73.5)" fill="url(#hg)" stroke="#8c8c8c" stroke-width="0.5"/>
<ellipse cx="599.3" cy="81.0" rx="7.5" ry="4.1" transform="rotate(-20.7 599.3 81.0)" fill="url(#hg)" stroke="#8c8c8c" stroke-width="0.5"/>
<ellipse cx="599.2" cy="88.5" rx="7.5" ry="4.1" transform="rotate(-20.7 599.2 88.5)" fill="url(#hg)" stroke="#8c8c8c" stroke-width="0.5"/>
<ellipse cx="599.0" cy="96.0" rx="7.5" ry="4.1" transform="rotate(-20.7 599.0 96.0)" fill="url(#hg)" stroke="#8c8c8c" stroke-width="0.5"/>
<path d="M608.1,30.2 L610.1,94.2 L621.9,93.8 L619.9,29.8 Z" fill="#cacaca" stroke="#8c8c8c" stroke-width="0.5"/>
<ellipse cx="614.0" cy="30.0" rx="7.0" ry="4.1" transform="rotate(-23.8 614.0 30.0)" fill="url(#hg)" stroke="#8c8c8c" stroke-width="0.5"/>
<ellipse cx="614.2" cy="37.5" rx="7.0" ry="4.1" transform="rotate(-23.8 614.2 37.5)" fill="url(#hg)" stroke="#8c8c8c" stroke-width="0.5"/>
<ellipse cx="614.5" cy="45.0" rx="7.0" ry="4.1" transform="rotate(-23.8 614.5 45.0)" fill="url(#hg)" stroke="#8c8c8c" stroke-width="0.5"/>
<ellipse cx="614.7" cy="52.5" rx="7.0" ry="4.1" transform="rotate(-23.8 614.7 52.5)" fill="url(#hg)" stroke="#8c8c8c" stroke-width="0.5"/>
<ellipse cx="614.9" cy="60.0" rx="7.0" ry="4.1" transform="rotate(-23.8 614.9 60.0)" fill="url(#hg)" stroke="#8c8c8c" stroke-width="0.5"/>
<ellipse cx="615.2" cy="67.5" rx="7.0" ry="4.1" transform="rotate(-23.8 615.2 67.5)" fill="url(#hg)" stroke="#8c8c8c" stroke-width="0.5"/>
<ellipse cx="615.4" cy="75.0" rx="7.0" ry="4.1" transform="rotate(-23.8 615.4 75.0)" fill="url(#hg)" stroke="#8c8c8c" stroke-width="0.5"/>
<ellipse cx="615.6" cy="82.5" rx="7.0" ry="4.1" transform="rotate(-23.8 615.6 82.5)" fill="url(#hg)" stroke="#8c8c8c" stroke-width="0.5"/>
<ellipse cx="615.9" cy="90.0" rx="7.0" ry="4.1" transform="rotate(-23.8 615.9 90.0)" fill="url(#hg)" stroke="#8c8c8c" stroke-width="0.5"/>
<path d="M642.7,5.8 L639.7,89.8 L652.3,90.2 L655.3,6.2 Z" fill="#cacaca" stroke="#8c8c8c" stroke-width="0.5"/>
<ellipse cx="649.0" cy="6.0" rx="7.5" ry="4.1" transform="rotate(-20.0 649.0 6.0)" fill="url(#hg)" stroke="#8c8c8c" stroke-width="0.5"/>
<ellipse cx="648.7" cy="13.5" rx="7.5" ry="4.1" transform="rotate(-20.0 648.7 13.5)" fill="url(#hg)" stroke="#8c8c8c" stroke-width="0.5"/>
<ellipse cx="648.5" cy="21.0" rx="7.5" ry="4.1" transform="rotate(-20.0 648.5 21.0)" fill="url(#hg)" stroke="#8c8c8c" stroke-width="0.5"/>
<ellipse cx="648.2" cy="28.5" rx="7.5" ry="4.1" transform="rotate(-20.0 648.2 28.5)" fill="url(#hg)" stroke="#8c8c8c" stroke-width="0.5"/>
<ellipse cx="647.9" cy="36.0" rx="7.5" ry="4.1" transform="rotate(-20.0 647.9 36.0)" fill="url(#hg)" stroke="#8c8c8c" stroke-width="0.5"/>
<ellipse cx="647.7" cy="43.5" rx="7.5" ry="4.1" transform="rotate(-20.0 647.7 43.5)" fill="url(#hg)" stroke="#8c8c8c" stroke-width="0.5"/>
<ellipse cx="647.4" cy="51.0" rx="7.5" ry="4.1" transform="rotate(-20.0 647.4 51.0)" fill="url(#hg)" stroke="#8c8c8c" stroke-width="0.5"/>
<ellipse cx="647.1" cy="58.5" rx="7.5" ry="4.1" transform="rotate(-20.0 647.1 58.5)" fill="url(#hg)" stroke="#8c8c8c" stroke-width="0.5"/>
<ellipse cx="646.9" cy="66.0" rx="7.5" ry="4.1" transform="rotate(-20.0 646.9 66.0)" fill="url(#hg)" stroke="#8c8c8c" stroke-width="0.5"/>
<ellipse cx="646.6" cy="73.5" rx="7.5" ry="4.1" transform="rotate(-20.0 646.6 73.5)" fill="url(#hg)" stroke="#8c8c8c" stroke-width="0.5"/>
<ellipse cx="646.3" cy="81.0" rx="7.5" ry="4.1" transform="rotate(-20.0 646.3 81.0)" fill="url(#hg)" stroke="#8c8c8c" stroke-width="0.5"/>
<ellipse cx="646.1" cy="88.4" rx="7.5" ry="4.1" transform="rotate(-20.0 646.1 88.4)" fill="url(#hg)" stroke="#8c8c8c" stroke-width="0.5"/>
<path d="M631.1,34.2 L633.1,96.2 L644.9,95.8 L642.9,33.8 Z" fill="#cacaca" stroke="#8c8c8c" stroke-width="0.5"/>
<ellipse cx="637.0" cy="34.0" rx="7.0" ry="4.1" transform="rotate(-23.8 637.0 34.0)" fill="url(#hg)" stroke="#8c8c8c" stroke-width="0.5"/>
<ellipse cx="637.2" cy="41.5" rx="7.0" ry="4.1" transform="rotate(-23.8 637.2 41.5)" fill="url(#hg)" stroke="#8c8c8c" stroke-width="0.5"/>
<ellipse cx="637.5" cy="49.0" rx="7.0" ry="4.1" transform="rotate(-23.8 637.5 49.0)" fill="url(#hg)" stroke="#8c8c8c" stroke-width="0.5"/>
<ellipse cx="637.7" cy="56.5" rx="7.0" ry="4.1" transform="rotate(-23.8 637.7 56.5)" fill="url(#hg)" stroke="#8c8c8c" stroke-width="0.5"/>
<ellipse cx="638.0" cy="64.0" rx="7.0" ry="4.1" transform="rotate(-23.8 638.0 64.0)" fill="url(#hg)" stroke="#8c8c8c" stroke-width="0.5"/>
<ellipse cx="638.2" cy="71.5" rx="7.0" ry="4.1" transform="rotate(-23.8 638.2 71.5)" fill="url(#hg)" stroke="#8c8c8c" stroke-width="0.5"/>
<ellipse cx="638.5" cy="79.0" rx="7.0" ry="4.1" transform="rotate(-23.8 638.5 79.0)" fill="url(#hg)" stroke="#8c8c8c" stroke-width="0.5"/>
<ellipse cx="638.7" cy="86.5" rx="7.0" ry="4.1" transform="rotate(-23.8 638.7 86.5)" fill="url(#hg)" stroke="#8c8c8c" stroke-width="0.5"/>
<ellipse cx="638.9" cy="94.0" rx="7.0" ry="4.1" transform="rotate(-23.8 638.9 94.0)" fill="url(#hg)" stroke="#8c8c8c" stroke-width="0.5"/>
<path d="M615,78 C620,70 624,76 626,72 C628,70 632,76 634,78" stroke="#999" stroke-width="1.4" fill="none"/>
<circle cx="619.5" cy="82.7" r="2.5" fill="#1f7fdc"/>
<circle cx="618.5" cy="81.7" r="1.1" fill="#58a8f0"/>
<circle cx="637.8" cy="96.5" r="3.0" fill="#1f7fdc"/>
<circle cx="636.8" cy="95.5" r="1.4" fill="#58a8f0"/>
<circle cx="622.0" cy="92.1" r="3.8" fill="#1f7fdc"/>
<circle cx="621.0" cy="91.1" r="1.7" fill="#58a8f0"/>
<circle cx="617.6" cy="95.9" r="3.8" fill="#1f7fdc"/>
<circle cx="616.6" cy="94.9" r="1.7" fill="#58a8f0"/>
<circle cx="637.8" cy="83.7" r="3.8" fill="#1f7fdc"/>
<circle cx="636.8" cy="82.7" r="1.7" fill="#58a8f0"/>
<circle cx="632.7" cy="90.5" r="3.8" fill="#1f7fdc"/>
<circle cx="631.7" cy="89.5" r="1.7" fill="#58a8f0"/>
<text x="632.8" y="77.7" font-size="11.00" font-weight="bold" fill="#0a3cff" stroke="#0a3cff" style="stroke-width:0.30px" text-anchor="start" >K32</text>
<text x="642.2" y="94.7" font-size="10.80" font-weight="bold" fill="#0a3cff" stroke="#0a3cff" style="stroke-width:0.30px" text-anchor="start" >H40</text>
<text x="637.2" y="109.1" font-size="10.80" font-weight="bold" fill="#0a3cff" stroke="#0a3cff" style="stroke-width:0.30px" text-anchor="start" >H37</text>
<text x="530.8" y="49.9" font-size="10.50" font-weight="bold" fill="#0a3cff" stroke="#0a3cff" style="stroke-width:0.30px" text-anchor="start" >H40</text>
<text x="519.9" y="69.2" font-size="10.50" font-weight="bold" fill="#0a3cff" stroke="#0a3cff" style="stroke-width:0.30px" text-anchor="start" >H37</text>
<text x="511.9" y="91.1" font-size="10.50" font-weight="bold" fill="#0a3cff" stroke="#0a3cff" style="stroke-width:0.30px" text-anchor="start" >K32</text>
<text x="-1.3" y="226.5" font-size="17.00" font-weight="bold" fill="#000" stroke="#000" style="stroke-width:0.30px" text-anchor="start" >c</text>
<rect x="20.4" y="226.4" width="17" height="9.6" fill="#e0141c" stroke="#222" stroke-width="0.9"/>
<text x="39.2" y="234.9" font-size="8.40" font-weight="bold" fill="#000" stroke="#000" style="stroke-width:0.20px" text-anchor="start" >WildType</text>
<rect x="20.4" y="242.5" width="17" height="9.6" fill="#333" stroke="#222" stroke-width="0.9"/>
<text x="39.2" y="251.0" font-size="8.40" font-weight="bold" fill="#000" stroke="#000" style="stroke-width:0.20px" text-anchor="start" >K32A</text>
<rect x="85.7" y="226.4" width="17" height="9.6" fill="#1a3ff0" stroke="#222" stroke-width="0.9"/>
<text x="104.5" y="234.9" font-size="8.40" font-weight="bold" fill="#000" stroke="#000" style="stroke-width:0.20px" text-anchor="start" >H37A/H40A</text>
<rect x="85.7" y="242.5" width="17" height="9.6" fill="#3db53d" stroke="#222" stroke-width="0.9"/>
<text x="104.5" y="251.0" font-size="8.40" font-weight="bold" fill="#000" stroke="#000" style="stroke-width:0.20px" text-anchor="start" >K32A/H37A/H40A</text>
<rect x="3" y="257" width="159.5" height="72" rx="13" fill="none" stroke="#555" stroke-width="0.9" stroke-dasharray="2.6 2"/>
<g transform="translate(23.1,264.2) rotate(0)"><path d="M-0.5,2 l-1.5,3 l1,3 l-1,3 M0.8,2 l1.2,3 l-1,3 l1,3" stroke="#777" stroke-width="0.6" fill="none"/><circle r="2.3" fill="#f5c518" stroke="#444" stroke-width="0.3"/></g>
<text x="26.6" y="271.8" font-size="8.20" font-weight="bold" fill="#000" stroke="#000" style="stroke-width:0.20px" text-anchor="start" >PE</text>
<g transform="translate(45.6,264.2) rotate(0)"><path d="M-0.5,2 l-1.5,3 l1,3 l-1,3 M0.8,2 l1.2,3 l-1,3 l1,3" stroke="#777" stroke-width="0.6" fill="none"/><circle r="2.3" fill="#2ec4f0" stroke="#444" stroke-width="0.3"/></g>
<text x="50.2" y="271.8" font-size="8.20" font-weight="bold" fill="#000" stroke="#000" style="stroke-width:0.20px" text-anchor="start" >PG</text>
<g transform="translate(69.0,264.2) rotate(0)"><path d="M-0.5,2 l-1.5,3 l1,3 l-1,3 M0.8,2 l1.2,3 l-1,3 l1,3" stroke="#777" stroke-width="0.6" fill="none"/><circle r="2.3" fill="#f0609a" stroke="#444" stroke-width="0.3"/></g>
<g transform="translate(73.9,264.2) rotate(0)"><path d="M-0.5,2 l-1.5,3 l1,3 l-1,3 M0.8,2 l1.2,3 l-1,3 l1,3" stroke="#777" stroke-width="0.6" fill="none"/><circle r="2.3" fill="#f0609a" stroke="#444" stroke-width="0.3"/></g>
<text x="77.0" y="271.8" font-size="8.20" font-weight="bold" fill="#000" stroke="#000" style="stroke-width:0.20px" text-anchor="start" >CDL</text>
<path d="M22.8,288.6 l5.0,1.5 M22.8,288.6 l5.0,0" stroke="#c8c8c8" stroke-width="0.4"/>
<circle cx="20.8" cy="288.6" r="1.75" fill="#bdbdbd" stroke="#555" stroke-width="0.7"/>
<path d="M20.7,291.9 l5.0,1.0 M20.7,291.9 l5.0,0" stroke="#c8c8c8" stroke-width="0.4"/>
<circle cx="18.7" cy="291.9" r="1.75" fill="#bdbdbd" stroke="#555" stroke-width="0.7"/>
<path d="M19.4,295.1 l5.0,0.5 M19.4,295.1 l5.0,0" stroke="#c8c8c8" stroke-width="0.4"/>
<circle cx="17.4" cy="295.1" r="1.75" fill="#bdbdbd" stroke="#555" stroke-width="0.7"/>
<path d="M19.0,298.4 l5.0,0.0 M19.0,298.4 l5.0,0" stroke="#c8c8c8" stroke-width="0.4"/>
<circle cx="17.0" cy="298.4" r="1.75" fill="#bdbdbd" stroke="#555" stroke-width="0.7"/>
<path d="M19.4,301.6 l5.0,-0.5 M19.4,301.6 l5.0,0" stroke="#c8c8c8" stroke-width="0.4"/>
<circle cx="17.4" cy="301.6" r="1.75" fill="#bdbdbd" stroke="#555" stroke-width="0.7"/>
<path d="M20.7,304.9 l5.0,-1.0 M20.7,304.9 l5.0,0" stroke="#c8c8c8" stroke-width="0.4"/>
<circle cx="18.7" cy="304.9" r="1.75" fill="#bdbdbd" stroke="#555" stroke-width="0.7"/>
<path d="M22.8,308.1 l5.0,-1.5 M22.8,308.1 l5.0,0" stroke="#c8c8c8" stroke-width="0.4"/>
<circle cx="20.8" cy="308.1" r="1.75" fill="#bdbdbd" stroke="#555" stroke-width="0.7"/>
<path d="M56.2,288.6 l-5.0,1.5 M56.2,288.6 l-5.0,0" stroke="#c8c8c8" stroke-width="0.4"/>
<circle cx="58.2" cy="288.6" r="1.75" fill="#bdbdbd" stroke="#555" stroke-width="0.7"/>
<path d="M58.3,291.9 l-5.0,1.0 M58.3,291.9 l-5.0,0" stroke="#c8c8c8" stroke-width="0.4"/>
<circle cx="60.3" cy="291.9" r="1.75" fill="#bdbdbd" stroke="#555" stroke-width="0.7"/>
<path d="M59.6,295.1 l-5.0,0.5 M59.6,295.1 l-5.0,0" stroke="#c8c8c8" stroke-width="0.4"/>
<circle cx="61.6" cy="295.1" r="1.75" fill="#bdbdbd" stroke="#555" stroke-width="0.7"/>
<path d="M60.0,298.4 l-5.0,0.0 M60.0,298.4 l-5.0,0" stroke="#c8c8c8" stroke-width="0.4"/>
<circle cx="62.0" cy="298.4" r="1.75" fill="#bdbdbd" stroke="#555" stroke-width="0.7"/>
<path d="M59.6,301.6 l-5.0,-0.5 M59.6,301.6 l-5.0,0" stroke="#c8c8c8" stroke-width="0.4"/>
<circle cx="61.6" cy="301.6" r="1.75" fill="#bdbdbd" stroke="#555" stroke-width="0.7"/>
<path d="M58.3,304.9 l-5.0,-1.0 M58.3,304.9 l-5.0,0" stroke="#c8c8c8" stroke-width="0.4"/>
<circle cx="60.3" cy="304.9" r="1.75" fill="#bdbdbd" stroke="#555" stroke-width="0.7"/>
<path d="M56.2,308.1 l-5.0,-1.5 M56.2,308.1 l-5.0,0" stroke="#c8c8c8" stroke-width="0.4"/>
<circle cx="58.2" cy="308.1" r="1.75" fill="#bdbdbd" stroke="#555" stroke-width="0.7"/>
<path d="M26.1,288.8 q0,-1.8 1.8,-1.8 h7 q1.6,0 1.8,1.6 l2.2,11 v7.5 q0,1.8 -1.8,1.8 h-9.2 q-1.8,0 -1.8,-1.8 z" fill="#c9c9c9" stroke="#b0b0b0" stroke-width="0.5"/>
<path d="M52.8,288.8 q0,-1.8 -1.8,-1.8 h-7 q-1.6,0 -1.8,1.6 l-1.6,11 v7.5 q0,1.8 1.8,1.8 h8.6 q1.8,0 1.8,-1.8 z" fill="#c9c9c9" stroke="#b0b0b0" stroke-width="0.5"/>
<circle cx="37.0" cy="299.1" r="1.8" fill="#f5c518"/>
<circle cx="41.4" cy="299.6" r="1.8" fill="#f0609a"/>
<circle cx="38.9" cy="303.0" r="1.8" fill="#2ec4f0"/>
<circle cx="43.2" cy="303.0" r="1.8" fill="#f0609a"/>
<path d="M32,304 l4,-2 l3,1 M40,306 l-1,5 M44,296 l4,-1" stroke="#888" stroke-width="0.5" fill="none"/>
<path d="M112.5,288.6 l5.0,1.5 M112.5,288.6 l5.0,0" stroke="#c8c8c8" stroke-width="0.4"/>
<circle cx="110.5" cy="288.6" r="1.75" fill="#bdbdbd" stroke="#555" stroke-width="0.7"/>
<path d="M110.4,291.9 l5.0,1.0 M110.4,291.9 l5.0,0" stroke="#c8c8c8" stroke-width="0.4"/>
<circle cx="108.4" cy="291.9" r="1.75" fill="#bdbdbd" stroke="#555" stroke-width="0.7"/>
<path d="M109.1,295.1 l5.0,0.5 M109.1,295.1 l5.0,0" stroke="#c8c8c8" stroke-width="0.4"/>
<circle cx="107.1" cy="295.1" r="1.75" fill="#bdbdbd" stroke="#555" stroke-width="0.7"/>
<path d="M108.7,298.4 l5.0,0.0 M108.7,298.4 l5.0,0" stroke="#c8c8c8" stroke-width="0.4"/>
<circle cx="106.7" cy="298.4" r="1.75" fill="#bdbdbd" stroke="#555" stroke-width="0.7"/>
<path d="M109.1,301.6 l5.0,-0.5 M109.1,301.6 l5.0,0" stroke="#c8c8c8" stroke-width="0.4"/>
<circle cx="107.1" cy="301.6" r="1.75" fill="#bdbdbd" stroke="#555" stroke-width="0.7"/>
<path d="M110.4,304.9 l5.0,-1.0 M110.4,304.9 l5.0,0" stroke="#c8c8c8" stroke-width="0.4"/>
<circle cx="108.4" cy="304.9" r="1.75" fill="#bdbdbd" stroke="#555" stroke-width="0.7"/>
<path d="M112.5,308.1 l5.0,-1.5 M112.5,308.1 l5.0,0" stroke="#c8c8c8" stroke-width="0.4"/>
<circle cx="110.5" cy="308.1" r="1.75" fill="#bdbdbd" stroke="#555" stroke-width="0.7"/>
<path d="M146.0,288.6 l-5.0,1.5 M146.0,288.6 l-5.0,0" stroke="#c8c8c8" stroke-width="0.4"/>
<circle cx="148.0" cy="288.6" r="1.75" fill="#bdbdbd" stroke="#555" stroke-width="0.7"/>
<path d="M148.1,291.9 l-5.0,1.0 M148.1,291.9 l-5.0,0" stroke="#c8c8c8" stroke-width="0.4"/>
<circle cx="150.1" cy="291.9" r="1.75" fill="#bdbdbd" stroke="#555" stroke-width="0.7"/>
<path d="M149.4,295.1 l-5.0,0.5 M149.4,295.1 l-5.0,0" stroke="#c8c8c8" stroke-width="0.4"/>
<circle cx="151.4" cy="295.1" r="1.75" fill="#bdbdbd" stroke="#555" stroke-width="0.7"/>
<path d="M149.8,298.4 l-5.0,0.0 M149.8,298.4 l-5.0,0" stroke="#c8c8c8" stroke-width="0.4"/>
<circle cx="151.8" cy="298.4" r="1.75" fill="#bdbdbd" stroke="#555" stroke-width="0.7"/>
<path d="M149.4,301.6 l-5.0,-0.5 M149.4,301.6 l-5.0,0" stroke="#c8c8c8" stroke-width="0.4"/>
<circle cx="151.4" cy="301.6" r="1.75" fill="#bdbdbd" stroke="#555" stroke-width="0.7"/>
<path d="M148.1,304.9 l-5.0,-1.0 M148.1,304.9 l-5.0,0" stroke="#c8c8c8" stroke-width="0.4"/>
<circle cx="150.1" cy="304.9" r="1.75" fill="#bdbdbd" stroke="#555" stroke-width="0.7"/>
<path d="M146.0,308.1 l-5.0,-1.5 M146.0,308.1 l-5.0,0" stroke="#c8c8c8" stroke-width="0.4"/>
<circle cx="148.0" cy="308.1" r="1.75" fill="#bdbdbd" stroke="#555" stroke-width="0.7"/>
<path d="M116.0,288.8 q0,-1.8 1.8,-1.8 h7 q1.6,0 1.8,1.6 l2.2,11 v7.5 q0,1.8 -1.8,1.8 h-9.2 q-1.8,0 -1.8,-1.8 z" fill="#c9c9c9" stroke="#b0b0b0" stroke-width="0.5"/>
<path d="M142.7,288.8 q0,-1.8 -1.8,-1.8 h-7 q-1.6,0 -1.8,1.6 l-1.6,11 v7.5 q0,1.8 1.8,1.8 h8.6 q1.8,0 1.8,-1.8 z" fill="#c9c9c9" stroke="#b0b0b0" stroke-width="0.5"/>
<text x="65.8" y="295.0" font-size="8.20" font-weight="bold" fill="#000" stroke="#000" style="stroke-width:0.20px" text-anchor="start" >Mutations</text>
<path d="M65.5,297.5 H100" stroke="#111" stroke-width="1"/><path d="M104,297.5 l-5,-2.4 v4.8 z" fill="#111"/>
<path d="M77.2,298 C77,305 81,310.5 86.5,311.8" stroke="#111" stroke-width="1" fill="none"/><path d="M89.8,312.3 l-4.4,-2.6 l-0.4,4.4 z" fill="#111"/>
<g transform="translate(75.7,308.3) rotate(25)"><path d="M-0.5,2 l-1.5,3 l1,3 l-1,3 M0.8,2 l1.2,3 l-1,3 l1,3" stroke="#777" stroke-width="0.6" fill="none"/><circle r="2.3" fill="#f5c518" stroke="#444" stroke-width="0.3"/></g>
<g transform="translate(79.4,314.0) rotate(25)"><path d="M-0.5,2 l-1.5,3 l1,3 l-1,3 M0.8,2 l1.2,3 l-1,3 l1,3" stroke="#777" stroke-width="0.6" fill="none"/><circle r="2.3" fill="#2ec4f0" stroke="#444" stroke-width="0.3"/></g>
<path d="M82.5,315.5 l2,1 l2,-1 l2,1 l1.8,-0.5 M82.5,318.5 l2,1 l2,-1 l2,1 l1.8,-0.5 M82.5,321.5 l2,-1 l2,1 l2,-1 l1.8,0.5" stroke="#888" stroke-width="0.45" fill="none"/>
<circle cx="92.3" cy="316.5" r="2" fill="#f0609a"/><circle cx="92.3" cy="320.7" r="2" fill="#f0609a"/>
<path d="M23,372 H241.6" stroke="#111" stroke-width="1.2"/>
<path d="M27.7,372 v2.0 M36.8,372 v3.5 M45.9,372 v2.0 M54.9,372 v2.0 M64.0,372 v2.0 M73.1,372 v3.5 M82.2,372 v2.0 M91.2,372 v2.0 M100.3,372 v2.0 M109.4,372 v3.5 M118.5,372 v2.0 M127.5,372 v2.0 M136.6,372 v2.0 M145.7,372 v3.5 M154.8,372 v2.0 M163.8,372 v2.0 M172.9,372 v2.0 M182.0,372 v3.5 M191.1,372 v2.0 M200.2,372 v2.0 M209.2,372 v2.0 M218.3,372 v3.5 M227.4,372 v2.0 M236.4,372 v2.0" stroke="#111" stroke-width="0.9" fill="none"/>
<text x="36.8" y="382.8" font-size="8.40" font-weight="bold" fill="#000" stroke="#000" style="stroke-width:0.20px" text-anchor="middle" >0.6</text>
<text x="73.1" y="382.8" font-size="8.40" font-weight="bold" fill="#000" stroke="#000" style="stroke-width:0.20px" text-anchor="middle" >0.4</text>
<text x="109.4" y="382.8" font-size="8.40" font-weight="bold" fill="#000" stroke="#000" style="stroke-width:0.20px" text-anchor="middle" >0.2</text>
<text x="145.7" y="382.8" font-size="8.40" font-weight="bold" fill="#000" stroke="#000" style="stroke-width:0.20px" text-anchor="middle" >0.0</text>
<text x="180.8" y="382.8" font-size="8.40" font-weight="bold" fill="#000" stroke="#000" style="stroke-width:0.20px" text-anchor="middle" >-0.2</text>
<text x="217.1" y="382.8" font-size="8.40" font-weight="bold" fill="#000" stroke="#000" style="stroke-width:0.20px" text-anchor="middle" >-0.4</text>
<text x="107" y="393.8" font-size="11.2" font-weight="bold"><tspan font-size="6.6" dy="-3.9">31</tspan><tspan dy="3.9">P (ppm)</tspan></text>
<path d="M23.1,368.9 C26.0,368.8 34.1,368.5 40.4,368.3 C46.7,368.2 55.8,368.1 60.9,367.9 C66.0,367.7 68.4,367.8 71.1,367.3 C73.8,366.8 75.5,365.5 77.2,364.9 C78.9,364.2 79.9,363.9 81.3,363.4 C82.7,362.9 84.2,362.9 85.4,361.8 C86.6,360.7 87.4,358.7 88.5,356.7 C89.5,354.6 90.6,351.2 91.5,349.5 C92.5,347.8 93.2,346.8 94.0,346.5 C94.7,346.1 95.3,346.3 96.0,347.5 C96.7,348.7 97.3,351.7 98.1,353.6 C98.9,355.5 99.8,357.6 100.7,358.7 C101.7,359.8 102.8,360.1 103.8,360.2 C104.8,360.3 105.8,359.7 106.9,359.3 C107.9,359.0 108.9,358.0 109.9,358.1 C110.9,358.2 112.0,359.4 113.0,359.7 C114.0,360.1 114.9,360.2 116.1,360.2 C117.2,360.1 119.0,359.6 120.1,359.3 C121.3,359.0 122.2,358.3 123.2,358.3 C124.2,358.3 125.1,358.6 126.3,359.3 C127.5,360.1 129.0,361.7 130.4,362.8 C131.7,363.9 133.1,365.0 134.4,365.9 C135.8,366.7 137.2,367.5 138.5,367.9 C139.9,368.3 141.3,368.4 142.6,368.3 C144.0,368.3 145.3,367.8 146.7,367.5 C148.1,367.2 149.4,366.8 150.8,366.5 C152.2,366.2 152.1,366.4 154.9,365.9 C157.7,365.4 164.3,365.1 167.6,363.5 C170.9,361.9 172.9,360.6 174.7,356.5 C176.5,352.4 177.3,347.6 178.2,338.8 C179.1,330.0 179.4,316.5 180.0,303.5 C180.6,290.5 181.1,270.9 181.8,261.0 C182.5,251.1 183.4,244.2 184.2,244.2 C185.0,244.2 185.9,251.3 186.7,261.2 C187.5,271.1 188.0,290.0 188.8,303.5 C189.6,317.0 190.5,333.3 191.7,342.4 C192.9,351.5 193.4,354.4 195.9,358.2 C198.4,362.0 202.5,363.8 206.5,365.3 C210.5,366.9 214.2,367.1 220.0,367.5 C225.8,367.9 237.5,367.9 241.0,368.0" stroke="#e0141c" stroke-width="1.5" fill="none"/>
<path d="M23.1,369.6 C29.4,369.3 52.9,368.6 60.9,368.3 C68.9,368.1 68.4,368.2 71.1,367.9 C73.8,367.7 75.2,367.1 77.2,366.9 C79.3,366.7 81.5,367.4 83.4,366.9 C85.2,366.4 87.1,365.7 88.5,363.8 C89.8,362.0 90.6,358.0 91.5,355.7 C92.5,353.3 93.3,350.7 94.0,349.5 C94.7,348.3 95.0,348.2 95.6,348.5 C96.2,348.8 96.9,350.0 97.7,351.6 C98.4,353.1 99.3,356.0 100.1,357.7 C101.0,359.4 101.8,361.1 102.8,361.8 C103.7,362.5 104.8,362.3 105.8,361.8 C106.9,361.3 107.9,358.9 108.9,358.7 C109.9,358.6 110.9,360.1 112.0,360.8 C113.0,361.4 114.0,362.6 115.0,362.8 C116.1,363.0 117.1,362.3 118.1,361.8 C119.1,361.3 120.1,360.3 121.2,359.7 C122.2,359.2 123.2,358.6 124.2,358.7 C125.3,358.9 126.1,359.7 127.3,360.8 C128.5,361.8 130.0,363.7 131.4,364.9 C132.7,366.0 133.9,366.9 135.5,367.5 C137.0,368.1 138.7,368.1 140.6,368.3 C142.5,368.6 144.3,368.9 146.7,368.9 C149.1,369.0 151.8,369.4 154.9,368.7 C157.9,368.1 162.0,366.6 165.0,365.0 C168.0,363.4 170.8,361.7 173.0,359.0 C175.2,356.3 177.1,357.1 178.3,349.0 C179.6,340.9 179.5,323.4 180.5,310.6 C181.5,297.9 182.9,272.5 184.2,272.5 C185.4,272.5 186.9,297.2 188.0,310.6 C189.1,324.0 188.8,344.1 190.6,353.0 C192.4,361.9 194.9,361.6 199.0,364.0 C203.1,366.4 208.0,366.8 215.0,367.5 C222.0,368.2 236.7,368.3 241.0,368.5" stroke="#333" stroke-width="1.5" fill="none"/>
<path d="M23.1,370.0 C31.1,369.8 61.4,369.2 71.1,368.9 C80.8,368.7 78.2,368.7 81.3,368.3 C84.4,368.0 87.4,367.8 89.5,366.9 C91.5,366.0 92.4,363.9 93.6,362.8 C94.8,361.7 95.6,360.0 96.6,360.2 C97.7,360.3 98.5,362.6 99.7,363.8 C100.9,365.1 102.4,367.2 103.8,367.5 C105.2,367.8 106.5,365.4 107.9,365.5 C109.2,365.5 110.6,367.4 112.0,367.9 C113.3,368.4 114.5,368.7 116.1,368.3 C117.6,368.0 119.6,366.6 121.2,365.9 C122.7,365.2 123.9,364.1 125.3,364.2 C126.6,364.4 127.8,366.1 129.3,366.9 C130.9,367.7 132.2,368.5 134.4,368.9 C136.7,369.4 139.2,369.4 142.6,369.6 C146.0,369.7 150.7,370.0 154.9,369.8 C159.1,369.5 164.5,368.8 168.0,368.0 C171.5,367.2 174.3,366.0 176.0,365.0 C177.7,364.0 177.4,365.6 178.2,361.8 C178.9,358.0 179.6,348.9 180.5,342.4 C181.4,335.9 182.5,323.0 183.6,323.0 C184.7,323.0 185.9,336.2 186.8,342.4 C187.7,348.6 187.3,355.9 188.8,360.0 C190.3,364.1 191.6,365.5 196.0,367.0 C200.4,368.5 207.5,368.7 215.0,369.0 C222.5,369.3 236.7,369.0 241.0,369.0" stroke="#1a3ff0" stroke-width="1.5" fill="none"/>
<path d="M23.1,369.6 C32.8,369.5 70.2,369.3 81.3,368.9 C92.4,368.6 87.4,368.0 89.5,367.5 C91.5,367.0 92.5,366.5 93.6,365.9 C94.7,365.3 95.2,363.7 96.0,363.8 C96.9,364.0 97.4,366.0 98.7,366.9 C100.0,367.7 102.3,368.8 103.8,368.9 C105.3,369.1 106.5,367.9 107.9,367.9 C109.2,367.9 109.6,368.9 112.0,368.9 C114.4,369.0 119.8,368.5 122.2,368.3 C124.6,368.2 124.6,367.7 126.3,367.9 C128.0,368.1 127.6,369.0 132.4,369.3 C137.2,369.7 149.0,370.0 154.9,370.0 C160.8,369.9 164.5,369.7 168.0,369.0 C171.5,368.3 174.3,366.9 176.0,366.0 C177.7,365.1 177.5,366.6 178.2,363.5 C178.9,360.4 179.5,352.8 180.4,347.6 C181.3,342.4 182.5,332.5 183.6,332.5 C184.7,332.5 186.0,342.6 186.9,347.6 C187.8,352.7 187.3,359.5 188.8,362.8 C190.3,366.1 191.6,366.6 196.0,367.5 C200.4,368.4 207.5,368.5 215.0,368.5 C222.5,368.5 236.7,367.7 241.0,367.5" stroke="#3db53d" stroke-width="1.5" fill="none"/>
<text x="86.8" y="345.1" font-size="11.00" font-weight="bold" fill="#000" stroke="#000" style="stroke-width:0.30px" text-anchor="start" >PG</text>
<text x="101.2" y="356.6" font-size="11.10" font-weight="bold" fill="#d42028" stroke="#d42028" style="stroke-width:0.30px" text-anchor="start" >CDL</text>
<text x="180.0" y="239.4" font-size="11.00" font-weight="bold" fill="#000" stroke="#000" style="stroke-width:0.30px" text-anchor="start" >PE</text>
<text x="196.8" y="340.0" font-size="13.90" font-weight="bold" fill="#000" stroke="#000" style="stroke-width:0.30px" text-anchor="start" >Lower</text>
<path d="M209.3,245.3 H217.8 V315.9 H222.4 L213.5,328.2 L204.7,315.9 H209.3 Z" fill="#fff" stroke="#666" stroke-width="0.9"/>
<text x="245.2" y="226.8" font-size="17.00" font-weight="bold" fill="#000" stroke="#000" style="stroke-width:0.30px" text-anchor="start" >d</text>
<ellipse cx="386.5" cy="253.2" rx="24" ry="16.7" fill="#90c3f2"/>
<ellipse cx="387" cy="285.2" rx="27.3" ry="16" fill="#90c3f2"/>
<ellipse cx="328.5" cy="315" rx="11.3" ry="7" fill="#f7b6d6"/>
<text x="269.5" y="253.6" font-size="8.10" font-weight="bold" fill="#0a3cff" stroke="#0a3cff" style="stroke-width:0.20px" text-anchor="middle" >Basic</text>
<text x="269.5" y="262.9" font-size="8.10" font-weight="bold" fill="#0a3cff" stroke="#0a3cff" style="stroke-width:0.20px" text-anchor="middle" >(K)</text>
<text x="269.5" y="283.3" font-size="8.10" font-weight="bold" fill="#0a3cff" stroke="#0a3cff" style="stroke-width:0.20px" text-anchor="middle" >Basic</text>
<text x="269.5" y="293.2" font-size="8.10" font-weight="bold" fill="#0a3cff" stroke="#0a3cff" style="stroke-width:0.20px" text-anchor="middle" >(R)</text>
<text x="269.5" y="315.1" font-size="8.10" font-weight="bold" fill="#f06aa0" stroke="#f06aa0" style="stroke-width:0.20px" text-anchor="middle" >Neutral</text>
<text x="269.5" y="325.1" font-size="8.10" font-weight="bold" fill="#f06aa0" stroke="#f06aa0" style="stroke-width:0.20px" text-anchor="middle" >(A)</text>
<text x="292.5" y="254.1" font-size="7.20" font-weight="bold" fill="#000" stroke="#000" style="stroke-width:0.12px" text-anchor="start" >H<tspan font-size="4.8" dy="1.6">3</tspan><tspan dy="-1.6">N</tspan></text>
<text x="307.0" y="249.4" font-size="5.00" font-weight="bold" fill="#000" stroke="#000" style="stroke-width:0.12px" text-anchor="start" >+</text>
<text x="311.0" y="254.1" font-size="7.20" font-weight="bold" fill="#000" stroke="#000" style="stroke-width:0.12px" text-anchor="start" >C</text>
<text x="310.5" y="244.3" font-size="7.20" font-weight="bold" fill="#000" stroke="#000" style="stroke-width:0.12px" text-anchor="start" >COO</text>
<text x="326.5" y="239.3" font-size="5.00" font-weight="bold" fill="#000" stroke="#000" style="stroke-width:0.12px" text-anchor="start" >−</text>
<text x="311.6" y="263.1" font-size="7.20" font-weight="bold" fill="#000" stroke="#000" style="stroke-width:0.12px" text-anchor="start" >H</text>
<path d="M313.5,244.4 v3 M313.5,255.1 v2.2 M316.4,251.6 h3.6 M307.3,251.6 h3" stroke="#111" stroke-width="0.6"/>
<text x="321.6" y="254.1" font-size="7.20" font-weight="bold" fill="#000" stroke="#000" style="stroke-width:0.12px" text-anchor="start" >CH<tspan font-size="4.8" dy="1.6">2</tspan><tspan dy="-1.6"></tspan></text>
<path d="M335.2,251.6 h3.8" stroke="#111" stroke-width="0.6"/>
<text x="340.3" y="254.1" font-size="7.20" font-weight="bold" fill="#000" stroke="#000" style="stroke-width:0.12px" text-anchor="start" >CH<tspan font-size="4.8" dy="1.6">2</tspan><tspan dy="-1.6"></tspan></text>
<path d="M353.9,251.6 h3.8" stroke="#111" stroke-width="0.6"/>
<text x="358.6" y="254.1" font-size="7.20" font-weight="bold" fill="#000" stroke="#000" style="stroke-width:0.12px" text-anchor="start" >CH<tspan font-size="4.8" dy="1.6">2</tspan><tspan dy="-1.6"></tspan></text>
<path d="M372.2,251.6 h3.8" stroke="#111" stroke-width="0.6"/>
<text x="376.3" y="254.1" font-size="7.20" font-weight="bold" fill="#000" stroke="#000" style="stroke-width:0.12px" text-anchor="start" >CH<tspan font-size="4.8" dy="1.6">2</tspan><tspan dy="-1.6"></tspan></text>
<path d="M389.9,251.6 h3.8" stroke="#111" stroke-width="0.6"/>
<text x="393.8" y="254.1" font-size="7.20" font-weight="bold" fill="#000" stroke="#000" style="stroke-width:0.12px" text-anchor="start" >NH<tspan font-size="4.8" dy="1.6">3</tspan><tspan dy="-1.6"></tspan></text>
<text x="396.0" y="247.1" font-size="5.00" font-weight="bold" fill="#000" stroke="#000" style="stroke-width:0.12px" text-anchor="start" >+</text>
<text x="292.5" y="286.0" font-size="7.20" font-weight="bold" fill="#000" stroke="#000" style="stroke-width:0.12px" text-anchor="start" >H<tspan font-size="4.8" dy="1.6">3</tspan><tspan dy="-1.6">N</tspan></text>
<text x="307.0" y="281.3" font-size="5.00" font-weight="bold" fill="#000" stroke="#000" style="stroke-width:0.12px" text-anchor="start" >+</text>
<text x="311.0" y="286.0" font-size="7.20" font-weight="bold" fill="#000" stroke="#000" style="stroke-width:0.12px" text-anchor="start" >C</text>
<text x="310.5" y="276.8" font-size="7.20" font-weight="bold" fill="#000" stroke="#000" style="stroke-width:0.12px" text-anchor="start" >COO</text>
<text x="326.5" y="271.8" font-size="5.00" font-weight="bold" fill="#000" stroke="#000" style="stroke-width:0.12px" text-anchor="start" >−</text>
<text x="311.6" y="294.9" font-size="7.20" font-weight="bold" fill="#000" stroke="#000" style="stroke-width:0.12px" text-anchor="start" >H</text>
<path d="M313.5,276.9 v3 M313.5,287.0 v2.2 M316.4,283.5 h3.6 M307.3,283.5 h3" stroke="#111" stroke-width="0.6"/>
<text x="321.6" y="286.0" font-size="7.20" font-weight="bold" fill="#000" stroke="#000" style="stroke-width:0.12px" text-anchor="start" >CH<tspan font-size="4.8" dy="1.6">2</tspan><tspan dy="-1.6"></tspan></text>
<path d="M335.2,283.5 h3.8" stroke="#111" stroke-width="0.6"/>
<text x="340.3" y="286.0" font-size="7.20" font-weight="bold" fill="#000" stroke="#000" style="stroke-width:0.12px" text-anchor="start" >CH<tspan font-size="4.8" dy="1.6">2</tspan><tspan dy="-1.6"></tspan></text>
<path d="M353.9,283.5 h3.8" stroke="#111" stroke-width="0.6"/>
<text x="358.6" y="286.0" font-size="7.20" font-weight="bold" fill="#000" stroke="#000" style="stroke-width:0.12px" text-anchor="start" >CH<tspan font-size="4.8" dy="1.6">2</tspan><tspan dy="-1.6"></tspan></text>
<path d="M372.2,283.5 h3.8" stroke="#111" stroke-width="0.6"/>
<text x="377.2" y="286.0" font-size="7.20" font-weight="bold" fill="#000" stroke="#000" style="stroke-width:0.12px" text-anchor="start" >N</text>
<text x="377.6" y="279.2" font-size="7.20" font-weight="bold" fill="#000" stroke="#000" style="stroke-width:0.12px" text-anchor="start" >H</text>
<path d="M383.5,283.5 h3.2" stroke="#111" stroke-width="0.6"/>
<text x="387.4" y="286.0" font-size="7.20" font-weight="bold" fill="#000" stroke="#000" style="stroke-width:0.12px" text-anchor="start" >C</text>
<path d="M392.8,282.8 h2.6 M392.8,284.2 h2.6" stroke="#111" stroke-width="0.5"/>
<text x="395.7" y="286.0" font-size="7.20" font-weight="bold" fill="#000" stroke="#000" style="stroke-width:0.12px" text-anchor="start" >NH<tspan font-size="4.8" dy="1.6">2</tspan><tspan dy="-1.6"></tspan></text>
<text x="398.0" y="279.0" font-size="5.00" font-weight="bold" fill="#000" stroke="#000" style="stroke-width:0.12px" text-anchor="start" >+</text>
<path d="M389.8,286.7 v3" stroke="#111" stroke-width="0.6"/>
<text x="385.5" y="296.6" font-size="7.20" font-weight="bold" fill="#000" stroke="#000" style="stroke-width:0.12px" text-anchor="start" >NH<tspan font-size="4.8" dy="1.6">2</tspan><tspan dy="-1.6"></tspan></text>
<text x="292.5" y="316.4" font-size="7.20" font-weight="bold" fill="#000" stroke="#000" style="stroke-width:0.12px" text-anchor="start" >H<tspan font-size="4.8" dy="1.6">3</tspan><tspan dy="-1.6">N</tspan></text>
<text x="307.0" y="311.7" font-size="5.00" font-weight="bold" fill="#000" stroke="#000" style="stroke-width:0.12px" text-anchor="start" >+</text>
<text x="311.0" y="316.4" font-size="7.20" font-weight="bold" fill="#000" stroke="#000" style="stroke-width:0.12px" text-anchor="start" >C</text>
<text x="310.5" y="307.1" font-size="7.20" font-weight="bold" fill="#000" stroke="#000" style="stroke-width:0.12px" text-anchor="start" >COO</text>
<text x="326.5" y="302.1" font-size="5.00" font-weight="bold" fill="#000" stroke="#000" style="stroke-width:0.12px" text-anchor="start" >−</text>
<text x="311.6" y="325.9" font-size="7.20" font-weight="bold" fill="#000" stroke="#000" style="stroke-width:0.12px" text-anchor="start" >H</text>
<path d="M313.5,307.2 v3 M313.5,317.4 v2.2 M316.4,313.9 h3.6 M307.3,313.9 h3" stroke="#111" stroke-width="0.6"/>
<text x="321.6" y="316.4" font-size="7.20" font-weight="bold" fill="#000" stroke="#000" style="stroke-width:0.12px" text-anchor="start" >CH<tspan font-size="4.8" dy="1.6">3</tspan><tspan dy="-1.6"></tspan></text>
<rect x="411.5" y="227.5" width="18" height="10.3" fill="#e0141c" stroke="#222" stroke-width="0.9"/>
<text x="431.0" y="235.8" font-size="9.60" font-weight="bold" fill="#000" stroke="#000" style="stroke-width:0.30px" text-anchor="start" >WildType</text>
<rect x="479.4" y="227.6" width="17.8" height="10.3" fill="#3a3fe0" stroke="#222" stroke-width="0.9"/>
<text x="498.8" y="235.8" font-size="9.60" font-weight="bold" fill="#000" stroke="#000" style="stroke-width:0.30px" text-anchor="start" >K32R</text>
<text x="450.4" y="251.0" font-size="9.60" font-weight="bold" fill="#000" stroke="#000" style="stroke-width:0.30px" text-anchor="start" >PE</text>
<path d="M323.5,362.3 H520" stroke="#111" stroke-width="1.1"/>
<path d="M333.0,362.3 v3.5 M346.0,362.3 v2.0 M359.0,362.3 v2.0 M372.0,362.3 v2.0 M385.0,362.3 v3.5 M398.0,362.3 v2.0 M411.0,362.3 v2.0 M424.0,362.3 v2.0 M437.0,362.3 v3.5 M450.0,362.3 v2.0 M463.0,362.3 v2.0 M476.0,362.3 v2.0 M489.0,362.3 v3.5 M502.0,362.3 v2.0" stroke="#111" stroke-width="0.9" fill="none"/>
<text x="333.5" y="375.9" font-size="8.40" font-weight="bold" fill="#000" stroke="#000" style="stroke-width:0.20px" text-anchor="middle" >0.75</text>
<text x="385.5" y="375.9" font-size="8.40" font-weight="bold" fill="#000" stroke="#000" style="stroke-width:0.20px" text-anchor="middle" >0.35</text>
<text x="436.0" y="375.9" font-size="8.40" font-weight="bold" fill="#000" stroke="#000" style="stroke-width:0.20px" text-anchor="middle" >-0.05</text>
<text x="488.0" y="375.9" font-size="8.40" font-weight="bold" fill="#000" stroke="#000" style="stroke-width:0.20px" text-anchor="middle" >-0.45</text>
<text x="400.6" y="387" font-size="11.1" font-weight="bold"><tspan font-size="6.4" dy="-3.9">31</tspan><tspan dy="3.9">P (ppm)</tspan></text>
<path d="M323.7,361.1 C327.1,361.1 338.9,361.1 344.4,361.1 C349.9,361.1 352.6,361.2 356.7,361.1 C360.7,361.0 365.6,360.9 368.9,360.6 C372.1,360.3 374.2,359.9 376.2,359.4 C378.2,358.9 379.7,358.6 381.1,357.4 C382.5,356.3 383.5,354.4 384.8,352.5 C386.0,350.7 387.3,348.1 388.4,346.4 C389.6,344.8 390.7,343.0 391.6,342.8 C392.5,342.6 393.2,343.8 394.0,345.2 C394.9,346.6 396.1,350.0 397.0,351.3 C397.9,352.7 398.6,353.1 399.4,353.3 C400.2,353.5 400.8,352.8 401.9,352.5 C402.9,352.3 404.3,352.0 405.5,351.8 C406.8,351.6 408.0,351.2 409.2,351.3 C410.4,351.4 411.6,351.9 412.9,352.5 C414.1,353.2 415.3,354.2 416.5,355.0 C417.8,355.8 419.0,356.7 420.2,357.4 C421.4,358.2 422.6,358.9 423.9,359.4 C425.1,359.8 426.3,360.2 427.5,360.1 C428.7,360.1 430.0,359.5 431.2,359.1 C432.4,358.8 433.4,358.6 434.9,358.2 C436.3,357.7 438.1,357.9 440.0,356.5 C441.9,355.1 444.2,355.8 446.0,350.0 C447.8,344.2 449.3,332.8 450.5,322.0 C451.7,311.2 452.2,295.0 453.0,285.0 C453.8,275.0 454.4,267.4 455.0,262.0 C455.6,256.6 456.1,252.7 456.7,252.7 C457.3,252.7 457.9,256.6 458.5,262.0 C459.1,267.4 459.8,275.3 460.5,285.0 C461.2,294.7 461.6,309.7 462.5,320.0 C463.4,330.3 464.4,341.0 466.0,347.0 C467.6,353.0 469.7,354.0 472.0,356.0 C474.3,358.0 475.3,358.2 480.0,359.0 C484.7,359.8 493.3,360.2 500.0,360.5 C506.7,360.8 516.7,360.5 520.0,360.5" stroke="#e0141c" stroke-width="1.4" fill="none"/>
<path d="M323.7,361.6 C329.2,361.6 349.1,361.7 356.7,361.6 C364.2,361.5 365.6,361.3 368.9,361.1 C372.1,360.9 374.2,360.7 376.2,360.4 C378.2,360.0 379.7,359.8 381.1,359.1 C382.5,358.4 383.5,357.9 384.8,356.2 C386.0,354.5 387.5,350.6 388.4,348.9 C389.4,347.2 389.6,346.1 390.4,345.9 C391.1,345.7 392.0,347.0 392.8,347.7 C393.6,348.3 394.4,349.9 395.3,350.1 C396.2,350.3 397.1,348.6 398.2,348.9 C399.3,349.2 400.8,350.7 401.9,351.8 C402.9,352.9 403.5,354.6 404.3,355.7 C405.1,356.9 405.9,358.0 406.8,358.7 C407.6,359.3 408.4,359.6 409.2,359.4 C410.0,359.2 410.8,357.6 411.6,357.4 C412.5,357.3 413.1,358.1 414.1,358.7 C415.1,359.2 416.3,360.2 417.8,360.6 C419.2,361.0 421.0,360.9 422.6,361.1 C424.3,361.3 426.1,361.6 427.5,361.6 C429.0,361.6 430.0,361.3 431.2,361.1 C432.4,360.9 433.2,361.0 434.9,360.6 C436.5,360.3 439.0,360.1 441.0,359.0 C443.0,357.9 445.2,360.2 447.0,354.0 C448.8,347.8 450.3,333.5 451.5,322.0 C452.7,310.5 453.3,295.0 454.0,285.0 C454.7,275.0 455.1,267.5 455.5,262.0 C455.9,256.5 456.2,252.0 456.6,252.0 C457.0,252.0 457.4,256.5 458.0,262.0 C458.6,267.5 459.3,275.3 460.0,285.0 C460.7,294.7 461.1,309.2 462.0,320.0 C462.9,330.8 464.0,343.8 465.5,350.0 C467.0,356.2 468.6,355.3 471.0,357.0 C473.4,358.7 475.2,359.3 480.0,360.0 C484.8,360.7 493.3,360.8 500.0,361.0 C506.7,361.2 516.7,361.0 520.0,361.0" stroke="#3a3fe0" stroke-width="1.4" fill="none"/>
<text x="386.3" y="339.6" font-size="9.80" font-weight="bold" fill="#000" stroke="#000" style="stroke-width:0.30px" text-anchor="start" >PG</text>
<text x="406.6" y="338.4" font-size="9.80" font-weight="bold" fill="#000" stroke="#000" style="stroke-width:0.30px" text-anchor="start" >CDL</text>
<path d="M414.8,342 L405,350" stroke="#222" stroke-width="2.3"/><path d="M401.5,353 l2,-6.5 l4.5,5 z" fill="#222"/>
<text x="529.4" y="226.9" font-size="17.00" font-weight="bold" fill="#000" stroke="#000" style="stroke-width:0.30px" text-anchor="start" >e</text>
<path d="M7.5,0 A7.5,5.0 0 0 0 -7.5,0" transform="translate(583.0 261.0) rotate(-87.0)" fill="none" stroke="#ecc6ce" stroke-width="2.3"/>
<path d="M7.5,0 A7.5,5.0 0 0 0 -7.5,0" transform="translate(583.0 261.0) rotate(-87.0)" fill="none" stroke="#fdeef0" stroke-width="1.4"/>
<path d="M7.5,0 A7.5,5.0 0 0 0 -7.5,0" transform="translate(591.0 261.4) rotate(-87.0)" fill="none" stroke="#ecc6ce" stroke-width="2.3"/>
<path d="M7.5,0 A7.5,5.0 0 0 0 -7.5,0" transform="translate(591.0 261.4) rotate(-87.0)" fill="none" stroke="#fdeef0" stroke-width="1.4"/>
<path d="M7.5,0 A7.5,5.0 0 0 0 -7.5,0" transform="translate(599.0 261.8) rotate(-87.0)" fill="none" stroke="#ecc6ce" stroke-width="2.3"/>
<path d="M7.5,0 A7.5,5.0 0 0 0 -7.5,0" transform="translate(599.0 261.8) rotate(-87.0)" fill="none" stroke="#fdeef0" stroke-width="1.4"/>
<path d="M7.5,0 A7.5,5.0 0 0 0 -7.5,0" transform="translate(607.0 262.3) rotate(-87.0)" fill="none" stroke="#ecc6ce" stroke-width="2.3"/>
<path d="M7.5,0 A7.5,5.0 0 0 0 -7.5,0" transform="translate(607.0 262.3) rotate(-87.0)" fill="none" stroke="#fdeef0" stroke-width="1.4"/>
<path d="M7.5,0 A7.5,5.0 0 0 0 -7.5,0" transform="translate(615.0 262.7) rotate(-87.0)" fill="none" stroke="#ecc6ce" stroke-width="2.3"/>
<path d="M7.5,0 A7.5,5.0 0 0 0 -7.5,0" transform="translate(615.0 262.7) rotate(-87.0)" fill="none" stroke="#fdeef0" stroke-width="1.4"/>
<path d="M-7.5,0.0 A7.5,5.0 0 0 0 7.5,-0.0" transform="translate(583.0 261.0) rotate(-87.0)" fill="none" stroke="#ecc6ce" stroke-width="3.5" stroke-linecap="round"/>
<path d="M-7.5,0.0 A7.5,5.0 0 0 0 7.5,-0.0" transform="translate(583.0 261.0) rotate(-87.0)" fill="none" stroke="#fdeef0" stroke-width="2.6" stroke-linecap="round"/>
<path d="M-7.5,0.0 A7.5,5.0 0 0 0 7.5,-0.0" transform="translate(591.0 261.4) rotate(-87.0)" fill="none" stroke="#ecc6ce" stroke-width="3.5" stroke-linecap="round"/>
<path d="M-7.5,0.0 A7.5,5.0 0 0 0 7.5,-0.0" transform="translate(591.0 261.4) rotate(-87.0)" fill="none" stroke="#fdeef0" stroke-width="2.6" stroke-linecap="round"/>
<path d="M-7.5,0.0 A7.5,5.0 0 0 0 7.5,-0.0" transform="translate(599.0 261.8) rotate(-87.0)" fill="none" stroke="#ecc6ce" stroke-width="3.5" stroke-linecap="round"/>
<path d="M-7.5,0.0 A7.5,5.0 0 0 0 7.5,-0.0" transform="translate(599.0 261.8) rotate(-87.0)" fill="none" stroke="#fdeef0" stroke-width="2.6" stroke-linecap="round"/>
<path d="M-7.5,0.0 A7.5,5.0 0 0 0 7.5,-0.0" transform="translate(607.0 262.3) rotate(-87.0)" fill="none" stroke="#ecc6ce" stroke-width="3.5" stroke-linecap="round"/>
<path d="M-7.5,0.0 A7.5,5.0 0 0 0 7.5,-0.0" transform="translate(607.0 262.3) rotate(-87.0)" fill="none" stroke="#fdeef0" stroke-width="2.6" stroke-linecap="round"/>
<path d="M-7.5,0.0 A7.5,5.0 0 0 0 7.5,-0.0" transform="translate(615.0 262.7) rotate(-87.0)" fill="none" stroke="#ecc6ce" stroke-width="3.5" stroke-linecap="round"/>
<path d="M-7.5,0.0 A7.5,5.0 0 0 0 7.5,-0.0" transform="translate(615.0 262.7) rotate(-87.0)" fill="none" stroke="#fdeef0" stroke-width="2.6" stroke-linecap="round"/>
<path d="M8.5,0 A8.5,5.5 0 0 0 -8.5,0" transform="translate(553.0 278.0) rotate(-20.6)" fill="none" stroke="#ecc6ce" stroke-width="2.3"/>
<path d="M8.5,0 A8.5,5.5 0 0 0 -8.5,0" transform="translate(553.0 278.0) rotate(-20.6)" fill="none" stroke="#fdeef0" stroke-width="1.4"/>
<path d="M8.5,0 A8.5,5.5 0 0 0 -8.5,0" transform="translate(557.1 284.9) rotate(-20.6)" fill="none" stroke="#ecc6ce" stroke-width="2.3"/>
<path d="M8.5,0 A8.5,5.5 0 0 0 -8.5,0" transform="translate(557.1 284.9) rotate(-20.6)" fill="none" stroke="#fdeef0" stroke-width="1.4"/>
<path d="M8.5,0 A8.5,5.5 0 0 0 -8.5,0" transform="translate(561.1 291.8) rotate(-20.6)" fill="none" stroke="#ecc6ce" stroke-width="2.3"/>
<path d="M8.5,0 A8.5,5.5 0 0 0 -8.5,0" transform="translate(561.1 291.8) rotate(-20.6)" fill="none" stroke="#fdeef0" stroke-width="1.4"/>
<path d="M8.5,0 A8.5,5.5 0 0 0 -8.5,0" transform="translate(565.2 298.7) rotate(-20.6)" fill="none" stroke="#ecc6ce" stroke-width="2.3"/>
<path d="M8.5,0 A8.5,5.5 0 0 0 -8.5,0" transform="translate(565.2 298.7) rotate(-20.6)" fill="none" stroke="#fdeef0" stroke-width="1.4"/>
<path d="M-8.5,0.0 A8.5,5.5 0 0 0 8.5,-0.0" transform="translate(553.0 278.0) rotate(-20.6)" fill="none" stroke="#ecc6ce" stroke-width="3.5" stroke-linecap="round"/>
<path d="M-8.5,0.0 A8.5,5.5 0 0 0 8.5,-0.0" transform="translate(553.0 278.0) rotate(-20.6)" fill="none" stroke="#fdeef0" stroke-width="2.6" stroke-linecap="round"/>
<path d="M-8.5,0.0 A8.5,5.5 0 0 0 8.5,-0.0" transform="translate(557.1 284.9) rotate(-20.6)" fill="none" stroke="#ecc6ce" stroke-width="3.5" stroke-linecap="round"/>
<path d="M-8.5,0.0 A8.5,5.5 0 0 0 8.5,-0.0" transform="translate(557.1 284.9) rotate(-20.6)" fill="none" stroke="#fdeef0" stroke-width="2.6" stroke-linecap="round"/>
<path d="M-8.5,0.0 A8.5,5.5 0 0 0 8.5,-0.0" transform="translate(561.1 291.8) rotate(-20.6)" fill="none" stroke="#ecc6ce" stroke-width="3.5" stroke-linecap="round"/>
<path d="M-8.5,0.0 A8.5,5.5 0 0 0 8.5,-0.0" transform="translate(561.1 291.8) rotate(-20.6)" fill="none" stroke="#fdeef0" stroke-width="2.6" stroke-linecap="round"/>
<path d="M-8.5,0.0 A8.5,5.5 0 0 0 8.5,-0.0" transform="translate(565.2 298.7) rotate(-20.6)" fill="none" stroke="#ecc6ce" stroke-width="3.5" stroke-linecap="round"/>
<path d="M-8.5,0.0 A8.5,5.5 0 0 0 8.5,-0.0" transform="translate(565.2 298.7) rotate(-20.6)" fill="none" stroke="#fdeef0" stroke-width="2.6" stroke-linecap="round"/>
<path d="M9.5,0 A9.5,6.0 0 0 0 -9.5,0" transform="translate(592.0 282.0) rotate(-37.7)" fill="none" stroke="#ecc6ce" stroke-width="2.3"/>
<path d="M9.5,0 A9.5,6.0 0 0 0 -9.5,0" transform="translate(592.0 282.0) rotate(-37.7)" fill="none" stroke="#fdeef0" stroke-width="1.4"/>
<path d="M9.5,0 A9.5,6.0 0 0 0 -9.5,0" transform="translate(598.3 287.7) rotate(-37.7)" fill="none" stroke="#ecc6ce" stroke-width="2.3"/>
<path d="M9.5,0 A9.5,6.0 0 0 0 -9.5,0" transform="translate(598.3 287.7) rotate(-37.7)" fill="none" stroke="#fdeef0" stroke-width="1.4"/>
<path d="M9.5,0 A9.5,6.0 0 0 0 -9.5,0" transform="translate(604.6 293.4) rotate(-37.7)" fill="none" stroke="#ecc6ce" stroke-width="2.3"/>
<path d="M9.5,0 A9.5,6.0 0 0 0 -9.5,0" transform="translate(604.6 293.4) rotate(-37.7)" fill="none" stroke="#fdeef0" stroke-width="1.4"/>
<path d="M9.5,0 A9.5,6.0 0 0 0 -9.5,0" transform="translate(610.9 299.2) rotate(-37.7)" fill="none" stroke="#ecc6ce" stroke-width="2.3"/>
<path d="M9.5,0 A9.5,6.0 0 0 0 -9.5,0" transform="translate(610.9 299.2) rotate(-37.7)" fill="none" stroke="#fdeef0" stroke-width="1.4"/>
<path d="M-9.5,0.0 A9.5,6.0 0 0 0 9.5,-0.0" transform="translate(592.0 282.0) rotate(-37.7)" fill="none" stroke="#ecc6ce" stroke-width="3.5" stroke-linecap="round"/>
<path d="M-9.5,0.0 A9.5,6.0 0 0 0 9.5,-0.0" transform="translate(592.0 282.0) rotate(-37.7)" fill="none" stroke="#fdeef0" stroke-width="2.6" stroke-linecap="round"/>
<path d="M-9.5,0.0 A9.5,6.0 0 0 0 9.5,-0.0" transform="translate(598.3 287.7) rotate(-37.7)" fill="none" stroke="#ecc6ce" stroke-width="3.5" stroke-linecap="round"/>
<path d="M-9.5,0.0 A9.5,6.0 0 0 0 9.5,-0.0" transform="translate(598.3 287.7) rotate(-37.7)" fill="none" stroke="#fdeef0" stroke-width="2.6" stroke-linecap="round"/>
<path d="M-9.5,0.0 A9.5,6.0 0 0 0 9.5,-0.0" transform="translate(604.6 293.4) rotate(-37.7)" fill="none" stroke="#ecc6ce" stroke-width="3.5" stroke-linecap="round"/>
<path d="M-9.5,0.0 A9.5,6.0 0 0 0 9.5,-0.0" transform="translate(604.6 293.4) rotate(-37.7)" fill="none" stroke="#fdeef0" stroke-width="2.6" stroke-linecap="round"/>
<path d="M-9.5,0.0 A9.5,6.0 0 0 0 9.5,-0.0" transform="translate(610.9 299.2) rotate(-37.7)" fill="none" stroke="#ecc6ce" stroke-width="3.5" stroke-linecap="round"/>
<path d="M-9.5,0.0 A9.5,6.0 0 0 0 9.5,-0.0" transform="translate(610.9 299.2) rotate(-37.7)" fill="none" stroke="#fdeef0" stroke-width="2.6" stroke-linecap="round"/>
<path d="M8.5,0 A8.5,5.5 0 0 0 -8.5,0" transform="translate(612.0 282.0) rotate(-48.2)" fill="none" stroke="#ecc6ce" stroke-width="2.3"/>
<path d="M8.5,0 A8.5,5.5 0 0 0 -8.5,0" transform="translate(612.0 282.0) rotate(-48.2)" fill="none" stroke="#fdeef0" stroke-width="1.4"/>
<path d="M8.5,0 A8.5,5.5 0 0 0 -8.5,0" transform="translate(617.3 288.7) rotate(-48.2)" fill="none" stroke="#ecc6ce" stroke-width="2.3"/>
<path d="M8.5,0 A8.5,5.5 0 0 0 -8.5,0" transform="translate(617.3 288.7) rotate(-48.2)" fill="none" stroke="#fdeef0" stroke-width="1.4"/>
<path d="M8.5,0 A8.5,5.5 0 0 0 -8.5,0" transform="translate(622.5 295.4) rotate(-48.2)" fill="none" stroke="#ecc6ce" stroke-width="2.3"/>
<path d="M8.5,0 A8.5,5.5 0 0 0 -8.5,0" transform="translate(622.5 295.4) rotate(-48.2)" fill="none" stroke="#fdeef0" stroke-width="1.4"/>
<path d="M8.5,0 A8.5,5.5 0 0 0 -8.5,0" transform="translate(627.8 302.1) rotate(-48.2)" fill="none" stroke="#ecc6ce" stroke-width="2.3"/>
<path d="M8.5,0 A8.5,5.5 0 0 0 -8.5,0" transform="translate(627.8 302.1) rotate(-48.2)" fill="none" stroke="#fdeef0" stroke-width="1.4"/>
<path d="M8.5,0 A8.5,5.5 0 0 0 -8.5,0" transform="translate(633.0 308.7) rotate(-48.2)" fill="none" stroke="#ecc6ce" stroke-width="2.3"/>
<path d="M8.5,0 A8.5,5.5 0 0 0 -8.5,0" transform="translate(633.0 308.7) rotate(-48.2)" fill="none" stroke="#fdeef0" stroke-width="1.4"/>
<path d="M-8.5,0.0 A8.5,5.5 0 0 0 8.5,-0.0" transform="translate(612.0 282.0) rotate(-48.2)" fill="none" stroke="#ecc6ce" stroke-width="3.5" stroke-linecap="round"/>
<path d="M-8.5,0.0 A8.5,5.5 0 0 0 8.5,-0.0" transform="translate(612.0 282.0) rotate(-48.2)" fill="none" stroke="#fdeef0" stroke-width="2.6" stroke-linecap="round"/>
<path d="M-8.5,0.0 A8.5,5.5 0 0 0 8.5,-0.0" transform="translate(617.3 288.7) rotate(-48.2)" fill="none" stroke="#ecc6ce" stroke-width="3.5" stroke-linecap="round"/>
<path d="M-8.5,0.0 A8.5,5.5 0 0 0 8.5,-0.0" transform="translate(617.3 288.7) rotate(-48.2)" fill="none" stroke="#fdeef0" stroke-width="2.6" stroke-linecap="round"/>
<path d="M-8.5,0.0 A8.5,5.5 0 0 0 8.5,-0.0" transform="translate(622.5 295.4) rotate(-48.2)" fill="none" stroke="#ecc6ce" stroke-width="3.5" stroke-linecap="round"/>
<path d="M-8.5,0.0 A8.5,5.5 0 0 0 8.5,-0.0" transform="translate(622.5 295.4) rotate(-48.2)" fill="none" stroke="#fdeef0" stroke-width="2.6" stroke-linecap="round"/>
<path d="M-8.5,0.0 A8.5,5.5 0 0 0 8.5,-0.0" transform="translate(627.8 302.1) rotate(-48.2)" fill="none" stroke="#ecc6ce" stroke-width="3.5" stroke-linecap="round"/>
<path d="M-8.5,0.0 A8.5,5.5 0 0 0 8.5,-0.0" transform="translate(627.8 302.1) rotate(-48.2)" fill="none" stroke="#fdeef0" stroke-width="2.6" stroke-linecap="round"/>
<path d="M-8.5,0.0 A8.5,5.5 0 0 0 8.5,-0.0" transform="translate(633.0 308.7) rotate(-48.2)" fill="none" stroke="#ecc6ce" stroke-width="3.5" stroke-linecap="round"/>
<path d="M-8.5,0.0 A8.5,5.5 0 0 0 8.5,-0.0" transform="translate(633.0 308.7) rotate(-48.2)" fill="none" stroke="#fdeef0" stroke-width="2.6" stroke-linecap="round"/>
<path d="M8.5,0 A8.5,5.5 0 0 0 -8.5,0" transform="translate(560.0 304.0) rotate(-49.8)" fill="none" stroke="#ecc6ce" stroke-width="2.3"/>
<path d="M8.5,0 A8.5,5.5 0 0 0 -8.5,0" transform="translate(560.0 304.0) rotate(-49.8)" fill="none" stroke="#fdeef0" stroke-width="1.4"/>
<path d="M8.5,0 A8.5,5.5 0 0 0 -8.5,0" transform="translate(566.5 309.5) rotate(-49.8)" fill="none" stroke="#ecc6ce" stroke-width="2.3"/>
<path d="M8.5,0 A8.5,5.5 0 0 0 -8.5,0" transform="translate(566.5 309.5) rotate(-49.8)" fill="none" stroke="#fdeef0" stroke-width="1.4"/>
<path d="M8.5,0 A8.5,5.5 0 0 0 -8.5,0" transform="translate(573.0 315.0) rotate(-49.8)" fill="none" stroke="#ecc6ce" stroke-width="2.3"/>
<path d="M8.5,0 A8.5,5.5 0 0 0 -8.5,0" transform="translate(573.0 315.0) rotate(-49.8)" fill="none" stroke="#fdeef0" stroke-width="1.4"/>
<path d="M8.5,0 A8.5,5.5 0 0 0 -8.5,0" transform="translate(579.5 320.5) rotate(-49.8)" fill="none" stroke="#ecc6ce" stroke-width="2.3"/>
<path d="M8.5,0 A8.5,5.5 0 0 0 -8.5,0" transform="translate(579.5 320.5) rotate(-49.8)" fill="none" stroke="#fdeef0" stroke-width="1.4"/>
<path d="M8.5,0 A8.5,5.5 0 0 0 -8.5,0" transform="translate(586.0 326.0) rotate(-49.8)" fill="none" stroke="#ecc6ce" stroke-width="2.3"/>
<path d="M8.5,0 A8.5,5.5 0 0 0 -8.5,0" transform="translate(586.0 326.0) rotate(-49.8)" fill="none" stroke="#fdeef0" stroke-width="1.4"/>
<path d="M-8.5,0.0 A8.5,5.5 0 0 0 8.5,-0.0" transform="translate(560.0 304.0) rotate(-49.8)" fill="none" stroke="#ecc6ce" stroke-width="3.5" stroke-linecap="round"/>
<path d="M-8.5,0.0 A8.5,5.5 0 0 0 8.5,-0.0" transform="translate(560.0 304.0) rotate(-49.8)" fill="none" stroke="#fdeef0" stroke-width="2.6" stroke-linecap="round"/>
<path d="M-8.5,0.0 A8.5,5.5 0 0 0 8.5,-0.0" transform="translate(566.5 309.5) rotate(-49.8)" fill="none" stroke="#ecc6ce" stroke-width="3.5" stroke-linecap="round"/>
<path d="M-8.5,0.0 A8.5,5.5 0 0 0 8.5,-0.0" transform="translate(566.5 309.5) rotate(-49.8)" fill="none" stroke="#fdeef0" stroke-width="2.6" stroke-linecap="round"/>
<path d="M-8.5,0.0 A8.5,5.5 0 0 0 8.5,-0.0" transform="translate(573.0 315.0) rotate(-49.8)" fill="none" stroke="#ecc6ce" stroke-width="3.5" stroke-linecap="round"/>
<path d="M-8.5,0.0 A8.5,5.5 0 0 0 8.5,-0.0" transform="translate(573.0 315.0) rotate(-49.8)" fill="none" stroke="#fdeef0" stroke-width="2.6" stroke-linecap="round"/>
<path d="M-8.5,0.0 A8.5,5.5 0 0 0 8.5,-0.0" transform="translate(579.5 320.5) rotate(-49.8)" fill="none" stroke="#ecc6ce" stroke-width="3.5" stroke-linecap="round"/>
<path d="M-8.5,0.0 A8.5,5.5 0 0 0 8.5,-0.0" transform="translate(579.5 320.5) rotate(-49.8)" fill="none" stroke="#fdeef0" stroke-width="2.6" stroke-linecap="round"/>
<path d="M-8.5,0.0 A8.5,5.5 0 0 0 8.5,-0.0" transform="translate(586.0 326.0) rotate(-49.8)" fill="none" stroke="#ecc6ce" stroke-width="3.5" stroke-linecap="round"/>
<path d="M-8.5,0.0 A8.5,5.5 0 0 0 8.5,-0.0" transform="translate(586.0 326.0) rotate(-49.8)" fill="none" stroke="#fdeef0" stroke-width="2.6" stroke-linecap="round"/>
<path d="M7.5,0 A7.5,5.0 0 0 0 -7.5,0" transform="translate(590.0 310.0) rotate(-42.0)" fill="none" stroke="#ecc6ce" stroke-width="2.3"/>
<path d="M7.5,0 A7.5,5.0 0 0 0 -7.5,0" transform="translate(590.0 310.0) rotate(-42.0)" fill="none" stroke="#fdeef0" stroke-width="1.4"/>
<path d="M7.5,0 A7.5,5.0 0 0 0 -7.5,0" transform="translate(595.7 316.3) rotate(-42.0)" fill="none" stroke="#ecc6ce" stroke-width="2.3"/>
<path d="M7.5,0 A7.5,5.0 0 0 0 -7.5,0" transform="translate(595.7 316.3) rotate(-42.0)" fill="none" stroke="#fdeef0" stroke-width="1.4"/>
<path d="M7.5,0 A7.5,5.0 0 0 0 -7.5,0" transform="translate(601.4 322.6) rotate(-42.0)" fill="none" stroke="#ecc6ce" stroke-width="2.3"/>
<path d="M7.5,0 A7.5,5.0 0 0 0 -7.5,0" transform="translate(601.4 322.6) rotate(-42.0)" fill="none" stroke="#fdeef0" stroke-width="1.4"/>
<path d="M7.5,0 A7.5,5.0 0 0 0 -7.5,0" transform="translate(607.1 329.0) rotate(-42.0)" fill="none" stroke="#ecc6ce" stroke-width="2.3"/>
<path d="M7.5,0 A7.5,5.0 0 0 0 -7.5,0" transform="translate(607.1 329.0) rotate(-42.0)" fill="none" stroke="#fdeef0" stroke-width="1.4"/>
<path d="M-7.5,0.0 A7.5,5.0 0 0 0 7.5,-0.0" transform="translate(590.0 310.0) rotate(-42.0)" fill="none" stroke="#ecc6ce" stroke-width="3.5" stroke-linecap="round"/>
<path d="M-7.5,0.0 A7.5,5.0 0 0 0 7.5,-0.0" transform="translate(590.0 310.0) rotate(-42.0)" fill="none" stroke="#fdeef0" stroke-width="2.6" stroke-linecap="round"/>
<path d="M-7.5,0.0 A7.5,5.0 0 0 0 7.5,-0.0" transform="translate(595.7 316.3) rotate(-42.0)" fill="none" stroke="#ecc6ce" stroke-width="3.5" stroke-linecap="round"/>
<path d="M-7.5,0.0 A7.5,5.0 0 0 0 7.5,-0.0" transform="translate(595.7 316.3) rotate(-42.0)" fill="none" stroke="#fdeef0" stroke-width="2.6" stroke-linecap="round"/>
<path d="M-7.5,0.0 A7.5,5.0 0 0 0 7.5,-0.0" transform="translate(601.4 322.6) rotate(-42.0)" fill="none" stroke="#ecc6ce" stroke-width="3.5" stroke-linecap="round"/>
<path d="M-7.5,0.0 A7.5,5.0 0 0 0 7.5,-0.0" transform="translate(601.4 322.6) rotate(-42.0)" fill="none" stroke="#fdeef0" stroke-width="2.6" stroke-linecap="round"/>
<path d="M-7.5,0.0 A7.5,5.0 0 0 0 7.5,-0.0" transform="translate(607.1 329.0) rotate(-42.0)" fill="none" stroke="#ecc6ce" stroke-width="3.5" stroke-linecap="round"/>
<path d="M-7.5,0.0 A7.5,5.0 0 0 0 7.5,-0.0" transform="translate(607.1 329.0) rotate(-42.0)" fill="none" stroke="#fdeef0" stroke-width="2.6" stroke-linecap="round"/>
<path d="M7.0,0 A7.0,5.0 0 0 0 -7.0,0" transform="translate(545.0 325.0) rotate(-36.9)" fill="none" stroke="#ecc6ce" stroke-width="2.3"/>
<path d="M7.0,0 A7.0,5.0 0 0 0 -7.0,0" transform="translate(545.0 325.0) rotate(-36.9)" fill="none" stroke="#fdeef0" stroke-width="1.4"/>
<path d="M7.0,0 A7.0,5.0 0 0 0 -7.0,0" transform="translate(550.1 331.8) rotate(-36.9)" fill="none" stroke="#ecc6ce" stroke-width="2.3"/>
<path d="M7.0,0 A7.0,5.0 0 0 0 -7.0,0" transform="translate(550.1 331.8) rotate(-36.9)" fill="none" stroke="#fdeef0" stroke-width="1.4"/>
<path d="M7.0,0 A7.0,5.0 0 0 0 -7.0,0" transform="translate(555.2 338.6) rotate(-36.9)" fill="none" stroke="#ecc6ce" stroke-width="2.3"/>
<path d="M7.0,0 A7.0,5.0 0 0 0 -7.0,0" transform="translate(555.2 338.6) rotate(-36.9)" fill="none" stroke="#fdeef0" stroke-width="1.4"/>
<path d="M-7.0,0.0 A7.0,5.0 0 0 0 7.0,-0.0" transform="translate(545.0 325.0) rotate(-36.9)" fill="none" stroke="#ecc6ce" stroke-width="3.5" stroke-linecap="round"/>
<path d="M-7.0,0.0 A7.0,5.0 0 0 0 7.0,-0.0" transform="translate(545.0 325.0) rotate(-36.9)" fill="none" stroke="#fdeef0" stroke-width="2.6" stroke-linecap="round"/>
<path d="M-7.0,0.0 A7.0,5.0 0 0 0 7.0,-0.0" transform="translate(550.1 331.8) rotate(-36.9)" fill="none" stroke="#ecc6ce" stroke-width="3.5" stroke-linecap="round"/>
<path d="M-7.0,0.0 A7.0,5.0 0 0 0 7.0,-0.0" transform="translate(550.1 331.8) rotate(-36.9)" fill="none" stroke="#fdeef0" stroke-width="2.6" stroke-linecap="round"/>
<path d="M-7.0,0.0 A7.0,5.0 0 0 0 7.0,-0.0" transform="translate(555.2 338.6) rotate(-36.9)" fill="none" stroke="#ecc6ce" stroke-width="3.5" stroke-linecap="round"/>
<path d="M-7.0,0.0 A7.0,5.0 0 0 0 7.0,-0.0" transform="translate(555.2 338.6) rotate(-36.9)" fill="none" stroke="#fdeef0" stroke-width="2.6" stroke-linecap="round"/>
<path d="M552,300 C548,318 556,334 572,338" stroke="#ecc6ce" stroke-width="3.2" fill="none"/><path d="M552,300 C548,318 556,334 572,338" stroke="#fdeef0" stroke-width="2.2" fill="none"/>
<path d="M600,276 C606,282 612,284 618,280" stroke="#ecc6ce" stroke-width="3.2" fill="none"/><path d="M600,276 C606,282 612,284 618,280" stroke="#fdeef0" stroke-width="2.2" fill="none"/>
<path d="M560,270 C570,266 580,266 586,262" stroke="#ecc6ce" stroke-width="3.2" fill="none"/><path d="M560,270 C570,266 580,266 586,262" stroke="#fdeef0" stroke-width="2.2" fill="none"/>
<path d="M548,330 C545,340 552,348 566,346" stroke="#ecc6ce" stroke-width="3.2" fill="none"/><path d="M548,330 C545,340 552,348 566,346" stroke="#fdeef0" stroke-width="2.2" fill="none"/>
<path d="M600,335 C606,345 618,346 626,340" stroke="#ecc6ce" stroke-width="3.2" fill="none"/><path d="M600,335 C606,345 618,346 626,340" stroke="#fdeef0" stroke-width="2.2" fill="none"/>
<path d="M543.7,297 L553,311" stroke="#ecc6ce" stroke-width="3.6" fill="none" stroke-linecap="round"/><path d="M543.7,297 L553,311" stroke="#fff8f8" stroke-width="2.4" fill="none" stroke-linecap="round"/>
<path d="M11.0,0 A11.0,6.3 0 0 0 -11.0,0" transform="translate(580.0 232.0) rotate(-8.6)" fill="none" stroke="#78aeb2" stroke-width="2.3"/>
<path d="M11.0,0 A11.0,6.3 0 0 0 -11.0,0" transform="translate(580.0 232.0) rotate(-8.6)" fill="none" stroke="#e0f7f7" stroke-width="1.4"/>
<path d="M11.0,0 A11.0,6.3 0 0 0 -11.0,0" transform="translate(579.4 242.0) rotate(-8.6)" fill="none" stroke="#78aeb2" stroke-width="2.3"/>
<path d="M11.0,0 A11.0,6.3 0 0 0 -11.0,0" transform="translate(579.4 242.0) rotate(-8.6)" fill="none" stroke="#e0f7f7" stroke-width="1.4"/>
<path d="M11.0,0 A11.0,6.3 0 0 0 -11.0,0" transform="translate(578.8 252.0) rotate(-8.6)" fill="none" stroke="#78aeb2" stroke-width="2.3"/>
<path d="M11.0,0 A11.0,6.3 0 0 0 -11.0,0" transform="translate(578.8 252.0) rotate(-8.6)" fill="none" stroke="#e0f7f7" stroke-width="1.4"/>
<path d="M11.0,0 A11.0,6.3 0 0 0 -11.0,0" transform="translate(578.2 261.9) rotate(-8.6)" fill="none" stroke="#78aeb2" stroke-width="2.3"/>
<path d="M11.0,0 A11.0,6.3 0 0 0 -11.0,0" transform="translate(578.2 261.9) rotate(-8.6)" fill="none" stroke="#e0f7f7" stroke-width="1.4"/>
<path d="M11.0,0 A11.0,6.3 0 0 0 -11.0,0" transform="translate(577.6 271.9) rotate(-8.6)" fill="none" stroke="#78aeb2" stroke-width="2.3"/>
<path d="M11.0,0 A11.0,6.3 0 0 0 -11.0,0" transform="translate(577.6 271.9) rotate(-8.6)" fill="none" stroke="#e0f7f7" stroke-width="1.4"/>
<path d="M11.0,0 A11.0,6.3 0 0 0 -11.0,0" transform="translate(577.0 281.9) rotate(-8.6)" fill="none" stroke="#78aeb2" stroke-width="2.3"/>
<path d="M11.0,0 A11.0,6.3 0 0 0 -11.0,0" transform="translate(577.0 281.9) rotate(-8.6)" fill="none" stroke="#e0f7f7" stroke-width="1.4"/>
<path d="M-11.0,0.0 A11.0,6.3 0 0 0 11.0,-0.0" transform="translate(580.0 232.0) rotate(-8.6)" fill="none" stroke="#78aeb2" stroke-width="3.9" stroke-linecap="round"/>
<path d="M-11.0,0.0 A11.0,6.3 0 0 0 11.0,-0.0" transform="translate(580.0 232.0) rotate(-8.6)" fill="none" stroke="#e0f7f7" stroke-width="3.0" stroke-linecap="round"/>
<path d="M-11.0,0.0 A11.0,6.3 0 0 0 11.0,-0.0" transform="translate(579.4 242.0) rotate(-8.6)" fill="none" stroke="#78aeb2" stroke-width="3.9" stroke-linecap="round"/>
<path d="M-11.0,0.0 A11.0,6.3 0 0 0 11.0,-0.0" transform="translate(579.4 242.0) rotate(-8.6)" fill="none" stroke="#e0f7f7" stroke-width="3.0" stroke-linecap="round"/>
<path d="M-11.0,0.0 A11.0,6.3 0 0 0 11.0,-0.0" transform="translate(578.8 252.0) rotate(-8.6)" fill="none" stroke="#78aeb2" stroke-width="3.9" stroke-linecap="round"/>
<path d="M-11.0,0.0 A11.0,6.3 0 0 0 11.0,-0.0" transform="translate(578.8 252.0) rotate(-8.6)" fill="none" stroke="#e0f7f7" stroke-width="3.0" stroke-linecap="round"/>
<path d="M-11.0,0.0 A11.0,6.3 0 0 0 11.0,-0.0" transform="translate(578.2 261.9) rotate(-8.6)" fill="none" stroke="#78aeb2" stroke-width="3.9" stroke-linecap="round"/>
<path d="M-11.0,0.0 A11.0,6.3 0 0 0 11.0,-0.0" transform="translate(578.2 261.9) rotate(-8.6)" fill="none" stroke="#e0f7f7" stroke-width="3.0" stroke-linecap="round"/>
<path d="M-11.0,0.0 A11.0,6.3 0 0 0 11.0,-0.0" transform="translate(577.6 271.9) rotate(-8.6)" fill="none" stroke="#78aeb2" stroke-width="3.9" stroke-linecap="round"/>
<path d="M-11.0,0.0 A11.0,6.3 0 0 0 11.0,-0.0" transform="translate(577.6 271.9) rotate(-8.6)" fill="none" stroke="#e0f7f7" stroke-width="3.0" stroke-linecap="round"/>
<path d="M-11.0,0.0 A11.0,6.3 0 0 0 11.0,-0.0" transform="translate(577.0 281.9) rotate(-8.6)" fill="none" stroke="#78aeb2" stroke-width="3.9" stroke-linecap="round"/>
<path d="M-11.0,0.0 A11.0,6.3 0 0 0 11.0,-0.0" transform="translate(577.0 281.9) rotate(-8.6)" fill="none" stroke="#e0f7f7" stroke-width="3.0" stroke-linecap="round"/>
<path d="M10.5,0 A10.5,6.4 0 0 0 -10.5,0" transform="translate(604.0 214.0) rotate(-40.4)" fill="none" stroke="#78aeb2" stroke-width="2.3"/>
<path d="M10.5,0 A10.5,6.4 0 0 0 -10.5,0" transform="translate(604.0 214.0) rotate(-40.4)" fill="none" stroke="#e0f7f7" stroke-width="1.4"/>
<path d="M10.5,0 A10.5,6.4 0 0 0 -10.5,0" transform="translate(609.0 223.2) rotate(-40.4)" fill="none" stroke="#78aeb2" stroke-width="2.3"/>
<path d="M10.5,0 A10.5,6.4 0 0 0 -10.5,0" transform="translate(609.0 223.2) rotate(-40.4)" fill="none" stroke="#e0f7f7" stroke-width="1.4"/>
<path d="M10.5,0 A10.5,6.4 0 0 0 -10.5,0" transform="translate(614.0 232.5) rotate(-40.4)" fill="none" stroke="#78aeb2" stroke-width="2.3"/>
<path d="M10.5,0 A10.5,6.4 0 0 0 -10.5,0" transform="translate(614.0 232.5) rotate(-40.4)" fill="none" stroke="#e0f7f7" stroke-width="1.4"/>
<path d="M10.5,0 A10.5,6.4 0 0 0 -10.5,0" transform="translate(619.0 241.7) rotate(-40.4)" fill="none" stroke="#78aeb2" stroke-width="2.3"/>
<path d="M10.5,0 A10.5,6.4 0 0 0 -10.5,0" transform="translate(619.0 241.7) rotate(-40.4)" fill="none" stroke="#e0f7f7" stroke-width="1.4"/>
<path d="M10.5,0 A10.5,6.4 0 0 0 -10.5,0" transform="translate(624.0 250.9) rotate(-40.4)" fill="none" stroke="#78aeb2" stroke-width="2.3"/>
<path d="M10.5,0 A10.5,6.4 0 0 0 -10.5,0" transform="translate(624.0 250.9) rotate(-40.4)" fill="none" stroke="#e0f7f7" stroke-width="1.4"/>
<path d="M10.5,0 A10.5,6.4 0 0 0 -10.5,0" transform="translate(629.0 260.2) rotate(-40.4)" fill="none" stroke="#78aeb2" stroke-width="2.3"/>
<path d="M10.5,0 A10.5,6.4 0 0 0 -10.5,0" transform="translate(629.0 260.2) rotate(-40.4)" fill="none" stroke="#e0f7f7" stroke-width="1.4"/>
<path d="M-10.5,0.0 A10.5,6.4 0 0 0 10.5,-0.0" transform="translate(604.0 214.0) rotate(-40.4)" fill="none" stroke="#78aeb2" stroke-width="3.9" stroke-linecap="round"/>
<path d="M-10.5,0.0 A10.5,6.4 0 0 0 10.5,-0.0" transform="translate(604.0 214.0) rotate(-40.4)" fill="none" stroke="#e0f7f7" stroke-width="3.0" stroke-linecap="round"/>
<path d="M-10.5,0.0 A10.5,6.4 0 0 0 10.5,-0.0" transform="translate(609.0 223.2) rotate(-40.4)" fill="none" stroke="#78aeb2" stroke-width="3.9" stroke-linecap="round"/>
<path d="M-10.5,0.0 A10.5,6.4 0 0 0 10.5,-0.0" transform="translate(609.0 223.2) rotate(-40.4)" fill="none" stroke="#e0f7f7" stroke-width="3.0" stroke-linecap="round"/>
<path d="M-10.5,0.0 A10.5,6.4 0 0 0 10.5,-0.0" transform="translate(614.0 232.5) rotate(-40.4)" fill="none" stroke="#78aeb2" stroke-width="3.9" stroke-linecap="round"/>
<path d="M-10.5,0.0 A10.5,6.4 0 0 0 10.5,-0.0" transform="translate(614.0 232.5) rotate(-40.4)" fill="none" stroke="#e0f7f7" stroke-width="3.0" stroke-linecap="round"/>
<path d="M-10.5,0.0 A10.5,6.4 0 0 0 10.5,-0.0" transform="translate(619.0 241.7) rotate(-40.4)" fill="none" stroke="#78aeb2" stroke-width="3.9" stroke-linecap="round"/>
<path d="M-10.5,0.0 A10.5,6.4 0 0 0 10.5,-0.0" transform="translate(619.0 241.7) rotate(-40.4)" fill="none" stroke="#e0f7f7" stroke-width="3.0" stroke-linecap="round"/>
<path d="M-10.5,0.0 A10.5,6.4 0 0 0 10.5,-0.0" transform="translate(624.0 250.9) rotate(-40.4)" fill="none" stroke="#78aeb2" stroke-width="3.9" stroke-linecap="round"/>
<path d="M-10.5,0.0 A10.5,6.4 0 0 0 10.5,-0.0" transform="translate(624.0 250.9) rotate(-40.4)" fill="none" stroke="#e0f7f7" stroke-width="3.0" stroke-linecap="round"/>
<path d="M-10.5,0.0 A10.5,6.4 0 0 0 10.5,-0.0" transform="translate(629.0 260.2) rotate(-40.4)" fill="none" stroke="#78aeb2" stroke-width="3.9" stroke-linecap="round"/>
<path d="M-10.5,0.0 A10.5,6.4 0 0 0 10.5,-0.0" transform="translate(629.0 260.2) rotate(-40.4)" fill="none" stroke="#e0f7f7" stroke-width="3.0" stroke-linecap="round"/>
<path d="M9.0,0 A9.0,6.0 0 0 0 -9.0,0" transform="translate(632.0 219.0) rotate(-27.3)" fill="none" stroke="#78aeb2" stroke-width="2.3"/>
<path d="M9.0,0 A9.0,6.0 0 0 0 -9.0,0" transform="translate(632.0 219.0) rotate(-27.3)" fill="none" stroke="#e0f7f7" stroke-width="1.4"/>
<path d="M9.0,0 A9.0,6.0 0 0 0 -9.0,0" transform="translate(634.8 229.1) rotate(-27.3)" fill="none" stroke="#78aeb2" stroke-width="2.3"/>
<path d="M9.0,0 A9.0,6.0 0 0 0 -9.0,0" transform="translate(634.8 229.1) rotate(-27.3)" fill="none" stroke="#e0f7f7" stroke-width="1.4"/>
<path d="M9.0,0 A9.0,6.0 0 0 0 -9.0,0" transform="translate(637.5 239.3) rotate(-27.3)" fill="none" stroke="#78aeb2" stroke-width="2.3"/>
<path d="M9.0,0 A9.0,6.0 0 0 0 -9.0,0" transform="translate(637.5 239.3) rotate(-27.3)" fill="none" stroke="#e0f7f7" stroke-width="1.4"/>
<path d="M9.0,0 A9.0,6.0 0 0 0 -9.0,0" transform="translate(640.3 249.4) rotate(-27.3)" fill="none" stroke="#78aeb2" stroke-width="2.3"/>
<path d="M9.0,0 A9.0,6.0 0 0 0 -9.0,0" transform="translate(640.3 249.4) rotate(-27.3)" fill="none" stroke="#e0f7f7" stroke-width="1.4"/>
<path d="M-9.0,0.0 A9.0,6.0 0 0 0 9.0,-0.0" transform="translate(632.0 219.0) rotate(-27.3)" fill="none" stroke="#78aeb2" stroke-width="3.9" stroke-linecap="round"/>
<path d="M-9.0,0.0 A9.0,6.0 0 0 0 9.0,-0.0" transform="translate(632.0 219.0) rotate(-27.3)" fill="none" stroke="#e0f7f7" stroke-width="3.0" stroke-linecap="round"/>
<path d="M-9.0,0.0 A9.0,6.0 0 0 0 9.0,-0.0" transform="translate(634.8 229.1) rotate(-27.3)" fill="none" stroke="#78aeb2" stroke-width="3.9" stroke-linecap="round"/>
<path d="M-9.0,0.0 A9.0,6.0 0 0 0 9.0,-0.0" transform="translate(634.8 229.1) rotate(-27.3)" fill="none" stroke="#e0f7f7" stroke-width="3.0" stroke-linecap="round"/>
<path d="M-9.0,0.0 A9.0,6.0 0 0 0 9.0,-0.0" transform="translate(637.5 239.3) rotate(-27.3)" fill="none" stroke="#78aeb2" stroke-width="3.9" stroke-linecap="round"/>
<path d="M-9.0,0.0 A9.0,6.0 0 0 0 9.0,-0.0" transform="translate(637.5 239.3) rotate(-27.3)" fill="none" stroke="#e0f7f7" stroke-width="3.0" stroke-linecap="round"/>
<path d="M-9.0,0.0 A9.0,6.0 0 0 0 9.0,-0.0" transform="translate(640.3 249.4) rotate(-27.3)" fill="none" stroke="#78aeb2" stroke-width="3.9" stroke-linecap="round"/>
<path d="M-9.0,0.0 A9.0,6.0 0 0 0 9.0,-0.0" transform="translate(640.3 249.4) rotate(-27.3)" fill="none" stroke="#e0f7f7" stroke-width="3.0" stroke-linecap="round"/>
<path d="M10.0,0 A10.0,6.2 0 0 0 -10.0,0" transform="translate(634.0 266.0) rotate(-35.6)" fill="none" stroke="#78aeb2" stroke-width="2.3"/>
<path d="M10.0,0 A10.0,6.2 0 0 0 -10.0,0" transform="translate(634.0 266.0) rotate(-35.6)" fill="none" stroke="#e0f7f7" stroke-width="1.4"/>
<path d="M10.0,0 A10.0,6.2 0 0 0 -10.0,0" transform="translate(638.2 275.6) rotate(-35.6)" fill="none" stroke="#78aeb2" stroke-width="2.3"/>
<path d="M10.0,0 A10.0,6.2 0 0 0 -10.0,0" transform="translate(638.2 275.6) rotate(-35.6)" fill="none" stroke="#e0f7f7" stroke-width="1.4"/>
<path d="M10.0,0 A10.0,6.2 0 0 0 -10.0,0" transform="translate(642.4 285.2) rotate(-35.6)" fill="none" stroke="#78aeb2" stroke-width="2.3"/>
<path d="M10.0,0 A10.0,6.2 0 0 0 -10.0,0" transform="translate(642.4 285.2) rotate(-35.6)" fill="none" stroke="#e0f7f7" stroke-width="1.4"/>
<path d="M10.0,0 A10.0,6.2 0 0 0 -10.0,0" transform="translate(646.6 294.9) rotate(-35.6)" fill="none" stroke="#78aeb2" stroke-width="2.3"/>
<path d="M10.0,0 A10.0,6.2 0 0 0 -10.0,0" transform="translate(646.6 294.9) rotate(-35.6)" fill="none" stroke="#e0f7f7" stroke-width="1.4"/>
<path d="M-10.0,0.0 A10.0,6.2 0 0 0 10.0,-0.0" transform="translate(634.0 266.0) rotate(-35.6)" fill="none" stroke="#78aeb2" stroke-width="3.9" stroke-linecap="round"/>
<path d="M-10.0,0.0 A10.0,6.2 0 0 0 10.0,-0.0" transform="translate(634.0 266.0) rotate(-35.6)" fill="none" stroke="#e0f7f7" stroke-width="3.0" stroke-linecap="round"/>
<path d="M-10.0,0.0 A10.0,6.2 0 0 0 10.0,-0.0" transform="translate(638.2 275.6) rotate(-35.6)" fill="none" stroke="#78aeb2" stroke-width="3.9" stroke-linecap="round"/>
<path d="M-10.0,0.0 A10.0,6.2 0 0 0 10.0,-0.0" transform="translate(638.2 275.6) rotate(-35.6)" fill="none" stroke="#e0f7f7" stroke-width="3.0" stroke-linecap="round"/>
<path d="M-10.0,0.0 A10.0,6.2 0 0 0 10.0,-0.0" transform="translate(642.4 285.2) rotate(-35.6)" fill="none" stroke="#78aeb2" stroke-width="3.9" stroke-linecap="round"/>
<path d="M-10.0,0.0 A10.0,6.2 0 0 0 10.0,-0.0" transform="translate(642.4 285.2) rotate(-35.6)" fill="none" stroke="#e0f7f7" stroke-width="3.0" stroke-linecap="round"/>
<path d="M-10.0,0.0 A10.0,6.2 0 0 0 10.0,-0.0" transform="translate(646.6 294.9) rotate(-35.6)" fill="none" stroke="#78aeb2" stroke-width="3.9" stroke-linecap="round"/>
<path d="M-10.0,0.0 A10.0,6.2 0 0 0 10.0,-0.0" transform="translate(646.6 294.9) rotate(-35.6)" fill="none" stroke="#e0f7f7" stroke-width="3.0" stroke-linecap="round"/>
<path d="M645,268 C655,266 665,262 668,268 C670,276 670,284 658,288" stroke="#78aeb2" stroke-width="3.2" fill="none"/><path d="M645,268 C655,266 665,262 668,268 C670,276 670,284 658,288" stroke="#e0f7f7" stroke-width="2.2" fill="none"/>
<path d="M603,212 C612,204 622,206 628,216" stroke="#78aeb2" stroke-width="3.2" fill="none"/><path d="M603,212 C612,204 622,206 628,216" stroke="#e0f7f7" stroke-width="2.2" fill="none"/>
<path d="M570,226 C574,222 582,222 586,228" stroke="#78aeb2" stroke-width="3.2" fill="none"/><path d="M570,226 C574,222 582,222 586,228" stroke="#e0f7f7" stroke-width="2.2" fill="none"/>
<path d="M578,281 C582,290 590,292 596,290" stroke="#78aeb2" stroke-width="3.2" fill="none"/><path d="M578,281 C582,290 590,292 596,290" stroke="#e0f7f7" stroke-width="2.2" fill="none"/>
<path d="M612,210 C616,206 624,205 630,214" stroke="#78aeb2" stroke-width="3.2" fill="none"/><path d="M612,210 C616,206 624,205 630,214" stroke="#e0f7f7" stroke-width="2.2" fill="none"/>
<path d="M517.3,277.5 L516.0,281.0 L518.0,284.5 L516.0,288.0 L518.0,291.5 L516.0,295.0 L518.0,298.5 L516.3,302.5 L519.5,306.0 L523.9,309.5 L528.0,310.0 L531.0,313.0" stroke="#aaa" stroke-width="1.0" fill="none"/>
<circle cx="517.3" cy="277.5" r="1.9" fill="#c8c8c8" stroke="#888" stroke-width="0.4"/>
<circle cx="516.0" cy="281.0" r="1.9" fill="#c8c8c8" stroke="#888" stroke-width="0.4"/>
<circle cx="518.0" cy="284.5" r="1.9" fill="#c8c8c8" stroke="#888" stroke-width="0.4"/>
<circle cx="516.0" cy="288.0" r="1.9" fill="#c8c8c8" stroke="#888" stroke-width="0.4"/>
<circle cx="518.0" cy="291.5" r="1.9" fill="#c8c8c8" stroke="#888" stroke-width="0.4"/>
<circle cx="516.0" cy="295.0" r="1.9" fill="#c8c8c8" stroke="#888" stroke-width="0.4"/>
<circle cx="518.0" cy="298.5" r="1.9" fill="#c8c8c8" stroke="#888" stroke-width="0.4"/>
<circle cx="516.3" cy="302.5" r="1.9" fill="#c8c8c8" stroke="#888" stroke-width="0.4"/>
<circle cx="519.5" cy="306.0" r="1.9" fill="#c8c8c8" stroke="#888" stroke-width="0.4"/>
<circle cx="523.9" cy="309.5" r="1.9" fill="#c8c8c8" stroke="#888" stroke-width="0.4"/>
<circle cx="528.0" cy="310.0" r="1.9" fill="#c8c8c8" stroke="#888" stroke-width="0.4"/>
<circle cx="531.0" cy="313.0" r="1.9" fill="#c8c8c8" stroke="#888" stroke-width="0.4"/>
<path d="M530.0,291.0 L533.0,293.5 L531.0,296.5 L534.0,299.5 L531.5,302.5 L534.5,305.5 L532.0,308.5 L535.0,311.5 L533.0,315.0 L536.0,318.0" stroke="#aaa" stroke-width="1.0" fill="none"/>
<circle cx="530.0" cy="291.0" r="1.9" fill="#c8c8c8" stroke="#888" stroke-width="0.4"/>
<circle cx="533.0" cy="293.5" r="1.9" fill="#c8c8c8" stroke="#888" stroke-width="0.4"/>
<circle cx="531.0" cy="296.5" r="1.9" fill="#c8c8c8" stroke="#888" stroke-width="0.4"/>
<circle cx="534.0" cy="299.5" r="1.9" fill="#c8c8c8" stroke="#888" stroke-width="0.4"/>
<circle cx="531.5" cy="302.5" r="1.9" fill="#c8c8c8" stroke="#888" stroke-width="0.4"/>
<circle cx="534.5" cy="305.5" r="1.9" fill="#c8c8c8" stroke="#888" stroke-width="0.4"/>
<circle cx="532.0" cy="308.5" r="1.9" fill="#c8c8c8" stroke="#888" stroke-width="0.4"/>
<circle cx="535.0" cy="311.5" r="1.9" fill="#c8c8c8" stroke="#888" stroke-width="0.4"/>
<circle cx="533.0" cy="315.0" r="1.9" fill="#c8c8c8" stroke="#888" stroke-width="0.4"/>
<circle cx="536.0" cy="318.0" r="1.9" fill="#c8c8c8" stroke="#888" stroke-width="0.4"/>
<path d="M528.6,326.3 L532.0,325.0 L535.0,327.3 L539.0,325.0 L543.0,322.0 L546.9,318.8" stroke="#aaa" stroke-width="1.0" fill="none"/>
<circle cx="528.6" cy="326.3" r="1.9" fill="#c8c8c8" stroke="#888" stroke-width="0.4"/>
<circle cx="532.0" cy="325.0" r="1.9" fill="#c8c8c8" stroke="#888" stroke-width="0.4"/>
<circle cx="535.0" cy="327.3" r="1.9" fill="#c8c8c8" stroke="#888" stroke-width="0.4"/>
<circle cx="539.0" cy="325.0" r="1.9" fill="#c8c8c8" stroke="#888" stroke-width="0.4"/>
<circle cx="543.0" cy="322.0" r="1.9" fill="#c8c8c8" stroke="#888" stroke-width="0.4"/>
<circle cx="546.9" cy="318.8" r="1.9" fill="#c8c8c8" stroke="#888" stroke-width="0.4"/>
<path d="M531.0,290.0 L535.0,292.0 L539.0,290.5 L542.0,292.5 L538.0,295.5 L534.0,297.0" stroke="#aaa" stroke-width="1.0" fill="none"/>
<circle cx="531.0" cy="290.0" r="1.9" fill="#c8c8c8" stroke="#888" stroke-width="0.4"/>
<circle cx="535.0" cy="292.0" r="1.9" fill="#c8c8c8" stroke="#888" stroke-width="0.4"/>
<circle cx="539.0" cy="290.5" r="1.9" fill="#c8c8c8" stroke="#888" stroke-width="0.4"/>
<circle cx="542.0" cy="292.5" r="1.9" fill="#c8c8c8" stroke="#888" stroke-width="0.4"/>
<circle cx="538.0" cy="295.5" r="1.9" fill="#c8c8c8" stroke="#888" stroke-width="0.4"/>
<circle cx="534.0" cy="297.0" r="1.9" fill="#c8c8c8" stroke="#888" stroke-width="0.4"/>
<circle cx="532.4" cy="305.6" r="1.8" fill="#e01818" stroke="#800" stroke-width="0.3"/>
<circle cx="532.4" cy="314.4" r="1.8" fill="#e01818" stroke="#800" stroke-width="0.3"/>
<circle cx="539.0" cy="325.0" r="1.8" fill="#e01818" stroke="#800" stroke-width="0.3"/>
<circle cx="546.9" cy="318.8" r="1.8" fill="#e01818" stroke="#800" stroke-width="0.3"/>
<circle cx="553.7" cy="312.5" r="1.8" fill="#e01818" stroke="#800" stroke-width="0.3"/>
<circle cx="554.4" cy="323.9" r="1.8" fill="#e01818" stroke="#800" stroke-width="0.3"/>
<circle cx="557.8" cy="318.8" r="1.8" fill="#e01818" stroke="#800" stroke-width="0.3"/>
<circle cx="568.0" cy="317.5" r="1.8" fill="#e01818" stroke="#800" stroke-width="0.3"/>
<circle cx="562.0" cy="327.0" r="1.8" fill="#e01818" stroke="#800" stroke-width="0.3"/>
<circle cx="575.0" cy="328.0" r="1.8" fill="#e01818" stroke="#800" stroke-width="0.3"/>
<circle cx="569.0" cy="333.0" r="1.8" fill="#e01818" stroke="#800" stroke-width="0.3"/>
<circle cx="580.0" cy="328.0" r="1.8" fill="#e01818" stroke="#800" stroke-width="0.3"/>
<circle cx="584.0" cy="330.0" r="1.8" fill="#e01818" stroke="#800" stroke-width="0.3"/>
<circle cx="553.0" cy="318.5" r="2.2" fill="#f08a1a" stroke="#a55" stroke-width="0.3"/>
<circle cx="568.8" cy="326.0" r="2.2" fill="#f08a1a" stroke="#a55" stroke-width="0.3"/>
<path d="M561,297 L557,316 M557,318 L566,324 M590,307 L575,316" stroke="#3a9a9a" stroke-width="0.9" stroke-dasharray="1.5 0.8"/>
<path d="M560,293 l3,4 l-2,4 M578,314 l6,-4 l8,-4 l5,1 M583,330 l6,-4 l5,2 l3,6" stroke="#777" stroke-width="1.8" fill="none" stroke-linecap="round"/>
<path d="M581,312 l7,-4 M588,306 l6,-3" stroke="#2a4ad0" stroke-width="1.6"/>
<path d="M585,297 l8,-4 l6,2 M636,320 l-4,6 l3,6 l5,-2 M612,336 l6,4 l-2,5 l-6,0" stroke="#666" stroke-width="1.6" fill="none"/>
<path d="M624.3,366.5 L628.2,370.4 L634.0,372.4 L639.8,376.2 L645.6,380.1 L652.4,382.1" stroke="#aaa" stroke-width="1.0" fill="none"/>
<circle cx="624.3" cy="366.5" r="1.9" fill="#c4c4c4" stroke="#888" stroke-width="0.4"/>
<circle cx="628.2" cy="370.4" r="1.9" fill="#c4c4c4" stroke="#888" stroke-width="0.4"/>
<circle cx="634.0" cy="372.4" r="1.9" fill="#c4c4c4" stroke="#888" stroke-width="0.4"/>
<circle cx="639.8" cy="376.2" r="1.9" fill="#c4c4c4" stroke="#888" stroke-width="0.4"/>
<circle cx="645.6" cy="380.1" r="1.9" fill="#c4c4c4" stroke="#888" stroke-width="0.4"/>
<circle cx="652.4" cy="382.1" r="1.9" fill="#c4c4c4" stroke="#888" stroke-width="0.4"/>
<path d="M601.0,358.8 L603.9,363.6 L607.8,367.5 L610.7,372.4 L614.6,376.2 L619.4,379.1 L624.3,381.1 L630.1,382.1" stroke="#aaa" stroke-width="1.0" fill="none"/>
<circle cx="601.0" cy="358.8" r="1.9" fill="#c4c4c4" stroke="#888" stroke-width="0.4"/>
<circle cx="603.9" cy="363.6" r="1.9" fill="#c4c4c4" stroke="#888" stroke-width="0.4"/>
<circle cx="607.8" cy="367.5" r="1.9" fill="#c4c4c4" stroke="#888" stroke-width="0.4"/>
<circle cx="610.7" cy="372.4" r="1.9" fill="#c4c4c4" stroke="#888" stroke-width="0.4"/>
<circle cx="614.6" cy="376.2" r="1.9" fill="#c4c4c4" stroke="#888" stroke-width="0.4"/>
<circle cx="619.4" cy="379.1" r="1.9" fill="#c4c4c4" stroke="#888" stroke-width="0.4"/>
<circle cx="624.3" cy="381.1" r="1.9" fill="#c4c4c4" stroke="#888" stroke-width="0.4"/>
<circle cx="630.1" cy="382.1" r="1.9" fill="#c4c4c4" stroke="#888" stroke-width="0.4"/>
<path d="M599.1,349.1 L603.0,353.0 L606.8,354.9 L610.7,358.8" stroke="#aaa" stroke-width="1.0" fill="none"/>
<circle cx="599.1" cy="349.1" r="1.9" fill="#c4c4c4" stroke="#888" stroke-width="0.4"/>
<circle cx="603.0" cy="353.0" r="1.9" fill="#c4c4c4" stroke="#888" stroke-width="0.4"/>
<circle cx="606.8" cy="354.9" r="1.9" fill="#c4c4c4" stroke="#888" stroke-width="0.4"/>
<circle cx="610.7" cy="358.8" r="1.9" fill="#c4c4c4" stroke="#888" stroke-width="0.4"/>
<path d="M581.6,353.9 L583.6,356.8 L585.5,359.8" stroke="#aaa" stroke-width="1.0" fill="none"/>
<circle cx="581.6" cy="353.9" r="1.9" fill="#c4c4c4" stroke="#888" stroke-width="0.4"/>
<circle cx="583.6" cy="356.8" r="1.9" fill="#c4c4c4" stroke="#888" stroke-width="0.4"/>
<circle cx="585.5" cy="359.8" r="1.9" fill="#c4c4c4" stroke="#888" stroke-width="0.4"/>
<path d="M614.6,376.2 L618.5,380.1 L622.4,383.0 L627.2,384.0 L632.1,385.0" stroke="#aaa" stroke-width="1.0" fill="none"/>
<circle cx="614.6" cy="376.2" r="1.9" fill="#c4c4c4" stroke="#888" stroke-width="0.4"/>
<circle cx="618.5" cy="380.1" r="1.9" fill="#c4c4c4" stroke="#888" stroke-width="0.4"/>
<circle cx="622.4" cy="383.0" r="1.9" fill="#c4c4c4" stroke="#888" stroke-width="0.4"/>
<circle cx="627.2" cy="384.0" r="1.9" fill="#c4c4c4" stroke="#888" stroke-width="0.4"/>
<circle cx="632.1" cy="385.0" r="1.9" fill="#c4c4c4" stroke="#888" stroke-width="0.4"/>
<path d="M588.4,364.6 L591.3,368.5 L594.2,371.4" stroke="#aaa" stroke-width="1.0" fill="none"/>
<circle cx="588.4" cy="364.6" r="1.9" fill="#c4c4c4" stroke="#888" stroke-width="0.4"/>
<circle cx="591.3" cy="368.5" r="1.9" fill="#c4c4c4" stroke="#888" stroke-width="0.4"/>
<circle cx="594.2" cy="371.4" r="1.9" fill="#c4c4c4" stroke="#888" stroke-width="0.4"/>
<path d="M601.0,338.0 L606.0,337.0 L611.0,336.0 L616.0,335.0 L621.0,334.0 L626.0,333.5 L631.0,334.0 L636.0,335.0 L641.0,336.0 L646.0,337.0 L651.0,338.5 L656.0,340.0 L661.0,341.5 L666.0,343.0" stroke="#c8b400" stroke-width="1.0" fill="none"/>
<circle cx="601.0" cy="338.0" r="2.2" fill="#f6ea1e" stroke="#a89800" stroke-width="0.4"/>
<circle cx="606.0" cy="337.0" r="2.2" fill="#f6ea1e" stroke="#a89800" stroke-width="0.4"/>
<circle cx="611.0" cy="336.0" r="2.2" fill="#f6ea1e" stroke="#a89800" stroke-width="0.4"/>
<circle cx="616.0" cy="335.0" r="2.2" fill="#f6ea1e" stroke="#a89800" stroke-width="0.4"/>
<circle cx="621.0" cy="334.0" r="2.2" fill="#f6ea1e" stroke="#a89800" stroke-width="0.4"/>
<circle cx="626.0" cy="333.5" r="2.2" fill="#f6ea1e" stroke="#a89800" stroke-width="0.4"/>
<circle cx="631.0" cy="334.0" r="2.2" fill="#f6ea1e" stroke="#a89800" stroke-width="0.4"/>
<circle cx="636.0" cy="335.0" r="2.2" fill="#f6ea1e" stroke="#a89800" stroke-width="0.4"/>
<circle cx="641.0" cy="336.0" r="2.2" fill="#f6ea1e" stroke="#a89800" stroke-width="0.4"/>
<circle cx="646.0" cy="337.0" r="2.2" fill="#f6ea1e" stroke="#a89800" stroke-width="0.4"/>
<circle cx="651.0" cy="338.5" r="2.2" fill="#f6ea1e" stroke="#a89800" stroke-width="0.4"/>
<circle cx="656.0" cy="340.0" r="2.2" fill="#f6ea1e" stroke="#a89800" stroke-width="0.4"/>
<circle cx="661.0" cy="341.5" r="2.2" fill="#f6ea1e" stroke="#a89800" stroke-width="0.4"/>
<circle cx="666.0" cy="343.0" r="2.2" fill="#f6ea1e" stroke="#a89800" stroke-width="0.4"/>
<path d="M622.0,339.0 L628.0,338.5 L634.0,339.5 L640.0,340.0 L646.0,341.0" stroke="#c8b400" stroke-width="1.0" fill="none"/>
<circle cx="622.0" cy="339.0" r="2.2" fill="#f6ea1e" stroke="#a89800" stroke-width="0.4"/>
<circle cx="628.0" cy="338.5" r="2.2" fill="#f6ea1e" stroke="#a89800" stroke-width="0.4"/>
<circle cx="634.0" cy="339.5" r="2.2" fill="#f6ea1e" stroke="#a89800" stroke-width="0.4"/>
<circle cx="640.0" cy="340.0" r="2.2" fill="#f6ea1e" stroke="#a89800" stroke-width="0.4"/>
<circle cx="646.0" cy="341.0" r="2.2" fill="#f6ea1e" stroke="#a89800" stroke-width="0.4"/>
<path d="M576.0,358.0 L582.0,361.0 L587.0,360.0 L593.0,355.0 L599.0,351.0 L603.0,347.0 L606.0,342.0 L601.0,338.0" stroke="#c8b400" stroke-width="1.0" fill="none"/>
<circle cx="576.0" cy="358.0" r="2.2" fill="#f6ea1e" stroke="#a89800" stroke-width="0.4"/>
<circle cx="582.0" cy="361.0" r="2.2" fill="#f6ea1e" stroke="#a89800" stroke-width="0.4"/>
<circle cx="587.0" cy="360.0" r="2.2" fill="#f6ea1e" stroke="#a89800" stroke-width="0.4"/>
<circle cx="593.0" cy="355.0" r="2.2" fill="#f6ea1e" stroke="#a89800" stroke-width="0.4"/>
<circle cx="599.0" cy="351.0" r="2.2" fill="#f6ea1e" stroke="#a89800" stroke-width="0.4"/>
<circle cx="603.0" cy="347.0" r="2.2" fill="#f6ea1e" stroke="#a89800" stroke-width="0.4"/>
<circle cx="606.0" cy="342.0" r="2.2" fill="#f6ea1e" stroke="#a89800" stroke-width="0.4"/>
<circle cx="601.0" cy="338.0" r="2.2" fill="#f6ea1e" stroke="#a89800" stroke-width="0.4"/>
<path d="M603.0,347.0 L600.0,355.0 L599.0,362.0 L598.0,370.0 L597.0,376.0 L595.0,382.0 L594.0,388.0 L592.0,394.0" stroke="#c8b400" stroke-width="1.0" fill="none"/>
<circle cx="603.0" cy="347.0" r="2.2" fill="#f6ea1e" stroke="#a89800" stroke-width="0.4"/>
<circle cx="600.0" cy="355.0" r="2.2" fill="#f6ea1e" stroke="#a89800" stroke-width="0.4"/>
<circle cx="599.0" cy="362.0" r="2.2" fill="#f6ea1e" stroke="#a89800" stroke-width="0.4"/>
<circle cx="598.0" cy="370.0" r="2.2" fill="#f6ea1e" stroke="#a89800" stroke-width="0.4"/>
<circle cx="597.0" cy="376.0" r="2.2" fill="#f6ea1e" stroke="#a89800" stroke-width="0.4"/>
<circle cx="595.0" cy="382.0" r="2.2" fill="#f6ea1e" stroke="#a89800" stroke-width="0.4"/>
<circle cx="594.0" cy="388.0" r="2.2" fill="#f6ea1e" stroke="#a89800" stroke-width="0.4"/>
<circle cx="592.0" cy="394.0" r="2.2" fill="#f6ea1e" stroke="#a89800" stroke-width="0.4"/>
<path d="M607.0,361.0 L605.0,367.0 L602.0,373.0 L600.0,379.0" stroke="#c8b400" stroke-width="1.0" fill="none"/>
<circle cx="607.0" cy="361.0" r="2.2" fill="#f6ea1e" stroke="#a89800" stroke-width="0.4"/>
<circle cx="605.0" cy="367.0" r="2.2" fill="#f6ea1e" stroke="#a89800" stroke-width="0.4"/>
<circle cx="602.0" cy="373.0" r="2.2" fill="#f6ea1e" stroke="#a89800" stroke-width="0.4"/>
<circle cx="600.0" cy="379.0" r="2.2" fill="#f6ea1e" stroke="#a89800" stroke-width="0.4"/>
<path d="M625.0,345.0 L623.0,352.0 L622.0,358.0 L621.0,364.0 L620.0,370.0 L617.5,376.0 L615.5,382.0 L613.5,388.0 L611.7,393.0" stroke="#c8b400" stroke-width="1.0" fill="none"/>
<circle cx="625.0" cy="345.0" r="2.2" fill="#f6ea1e" stroke="#a89800" stroke-width="0.4"/>
<circle cx="623.0" cy="352.0" r="2.2" fill="#f6ea1e" stroke="#a89800" stroke-width="0.4"/>
<circle cx="622.0" cy="358.0" r="2.2" fill="#f6ea1e" stroke="#a89800" stroke-width="0.4"/>
<circle cx="621.0" cy="364.0" r="2.2" fill="#f6ea1e" stroke="#a89800" stroke-width="0.4"/>
<circle cx="620.0" cy="370.0" r="2.2" fill="#f6ea1e" stroke="#a89800" stroke-width="0.4"/>
<circle cx="617.5" cy="376.0" r="2.2" fill="#f6ea1e" stroke="#a89800" stroke-width="0.4"/>
<circle cx="615.5" cy="382.0" r="2.2" fill="#f6ea1e" stroke="#a89800" stroke-width="0.4"/>
<circle cx="613.5" cy="388.0" r="2.2" fill="#f6ea1e" stroke="#a89800" stroke-width="0.4"/>
<circle cx="611.7" cy="393.0" r="2.2" fill="#f6ea1e" stroke="#a89800" stroke-width="0.4"/>
<path d="M651.0,332.0 L656.0,334.0 L661.0,336.0 L666.0,338.0 L670.0,340.0" stroke="#c8b400" stroke-width="1.0" fill="none"/>
<circle cx="651.0" cy="332.0" r="2.2" fill="#f6ea1e" stroke="#a89800" stroke-width="0.4"/>
<circle cx="656.0" cy="334.0" r="2.2" fill="#f6ea1e" stroke="#a89800" stroke-width="0.4"/>
<circle cx="661.0" cy="336.0" r="2.2" fill="#f6ea1e" stroke="#a89800" stroke-width="0.4"/>
<circle cx="666.0" cy="338.0" r="2.2" fill="#f6ea1e" stroke="#a89800" stroke-width="0.4"/>
<circle cx="670.0" cy="340.0" r="2.2" fill="#f6ea1e" stroke="#a89800" stroke-width="0.4"/>
<path d="M655.0,345.0 L660.0,348.0 L665.0,350.0 L670.0,352.0" stroke="#c8b400" stroke-width="1.0" fill="none"/>
<circle cx="655.0" cy="345.0" r="2.2" fill="#f6ea1e" stroke="#a89800" stroke-width="0.4"/>
<circle cx="660.0" cy="348.0" r="2.2" fill="#f6ea1e" stroke="#a89800" stroke-width="0.4"/>
<circle cx="665.0" cy="350.0" r="2.2" fill="#f6ea1e" stroke="#a89800" stroke-width="0.4"/>
<circle cx="670.0" cy="352.0" r="2.2" fill="#f6ea1e" stroke="#a89800" stroke-width="0.4"/>
<path d="M653.0,355.0 L658.0,358.0 L663.0,361.0 L668.0,362.0" stroke="#c8b400" stroke-width="1.0" fill="none"/>
<circle cx="653.0" cy="355.0" r="2.2" fill="#f6ea1e" stroke="#a89800" stroke-width="0.4"/>
<circle cx="658.0" cy="358.0" r="2.2" fill="#f6ea1e" stroke="#a89800" stroke-width="0.4"/>
<circle cx="663.0" cy="361.0" r="2.2" fill="#f6ea1e" stroke="#a89800" stroke-width="0.4"/>
<circle cx="668.0" cy="362.0" r="2.2" fill="#f6ea1e" stroke="#a89800" stroke-width="0.4"/>
<path d="M613.0,350.0 L618.0,348.0 L623.0,346.0 L628.0,345.0" stroke="#c8b400" stroke-width="1.0" fill="none"/>
<circle cx="613.0" cy="350.0" r="2.2" fill="#f6ea1e" stroke="#a89800" stroke-width="0.4"/>
<circle cx="618.0" cy="348.0" r="2.2" fill="#f6ea1e" stroke="#a89800" stroke-width="0.4"/>
<circle cx="623.0" cy="346.0" r="2.2" fill="#f6ea1e" stroke="#a89800" stroke-width="0.4"/>
<circle cx="628.0" cy="345.0" r="2.2" fill="#f6ea1e" stroke="#a89800" stroke-width="0.4"/>
<path d="M630.0,350.0 L636.0,352.0 L642.0,351.0 L648.0,353.0" stroke="#c8b400" stroke-width="1.0" fill="none"/>
<circle cx="630.0" cy="350.0" r="2.2" fill="#f6ea1e" stroke="#a89800" stroke-width="0.4"/>
<circle cx="636.0" cy="352.0" r="2.2" fill="#f6ea1e" stroke="#a89800" stroke-width="0.4"/>
<circle cx="642.0" cy="351.0" r="2.2" fill="#f6ea1e" stroke="#a89800" stroke-width="0.4"/>
<circle cx="648.0" cy="353.0" r="2.2" fill="#f6ea1e" stroke="#a89800" stroke-width="0.4"/>
<path d="M606.0,342.0 L610.0,346.0 L613.0,350.0" stroke="#c8b400" stroke-width="1.0" fill="none"/>
<circle cx="606.0" cy="342.0" r="2.2" fill="#f6ea1e" stroke="#a89800" stroke-width="0.4"/>
<circle cx="610.0" cy="346.0" r="2.2" fill="#f6ea1e" stroke="#a89800" stroke-width="0.4"/>
<circle cx="613.0" cy="350.0" r="2.2" fill="#f6ea1e" stroke="#a89800" stroke-width="0.4"/>
<path d="M583.0,340.0 L588.0,342.0 L593.0,344.0" stroke="#c8b400" stroke-width="1.0" fill="none"/>
<circle cx="583.0" cy="340.0" r="2.2" fill="#f6ea1e" stroke="#a89800" stroke-width="0.4"/>
<circle cx="588.0" cy="342.0" r="2.2" fill="#f6ea1e" stroke="#a89800" stroke-width="0.4"/>
<circle cx="593.0" cy="344.0" r="2.2" fill="#f6ea1e" stroke="#a89800" stroke-width="0.4"/>
<path d="M585.0,350.0 L590.0,353.0 L595.0,350.0 L600.0,347.0" stroke="#c8b400" stroke-width="1.0" fill="none"/>
<circle cx="585.0" cy="350.0" r="2.2" fill="#f6ea1e" stroke="#a89800" stroke-width="0.4"/>
<circle cx="590.0" cy="353.0" r="2.2" fill="#f6ea1e" stroke="#a89800" stroke-width="0.4"/>
<circle cx="595.0" cy="350.0" r="2.2" fill="#f6ea1e" stroke="#a89800" stroke-width="0.4"/>
<circle cx="600.0" cy="347.0" r="2.2" fill="#f6ea1e" stroke="#a89800" stroke-width="0.4"/>
<path d="M588.0,362.0 L586.0,368.0 L584.0,374.0 L582.0,380.0 L580.0,386.0" stroke="#c8b400" stroke-width="1.0" fill="none"/>
<circle cx="588.0" cy="362.0" r="2.2" fill="#f6ea1e" stroke="#a89800" stroke-width="0.4"/>
<circle cx="586.0" cy="368.0" r="2.2" fill="#f6ea1e" stroke="#a89800" stroke-width="0.4"/>
<circle cx="584.0" cy="374.0" r="2.2" fill="#f6ea1e" stroke="#a89800" stroke-width="0.4"/>
<circle cx="582.0" cy="380.0" r="2.2" fill="#f6ea1e" stroke="#a89800" stroke-width="0.4"/>
<circle cx="580.0" cy="386.0" r="2.2" fill="#f6ea1e" stroke="#a89800" stroke-width="0.4"/>
<path d="M610.0,352.0 L608.0,358.0 L606.0,364.0 L604.0,370.0 L602.0,376.0 L600.0,382.0 L598.0,388.0" stroke="#c8b400" stroke-width="1.0" fill="none"/>
<circle cx="610.0" cy="352.0" r="2.2" fill="#f6ea1e" stroke="#a89800" stroke-width="0.4"/>
<circle cx="608.0" cy="358.0" r="2.2" fill="#f6ea1e" stroke="#a89800" stroke-width="0.4"/>
<circle cx="606.0" cy="364.0" r="2.2" fill="#f6ea1e" stroke="#a89800" stroke-width="0.4"/>
<circle cx="604.0" cy="370.0" r="2.2" fill="#f6ea1e" stroke="#a89800" stroke-width="0.4"/>
<circle cx="602.0" cy="376.0" r="2.2" fill="#f6ea1e" stroke="#a89800" stroke-width="0.4"/>
<circle cx="600.0" cy="382.0" r="2.2" fill="#f6ea1e" stroke="#a89800" stroke-width="0.4"/>
<circle cx="598.0" cy="388.0" r="2.2" fill="#f6ea1e" stroke="#a89800" stroke-width="0.4"/>
<path d="M632.0,356.0 L630.0,362.0 L628.0,368.0 L626.0,374.0 L624.0,380.0" stroke="#c8b400" stroke-width="1.0" fill="none"/>
<circle cx="632.0" cy="356.0" r="2.2" fill="#f6ea1e" stroke="#a89800" stroke-width="0.4"/>
<circle cx="630.0" cy="362.0" r="2.2" fill="#f6ea1e" stroke="#a89800" stroke-width="0.4"/>
<circle cx="628.0" cy="368.0" r="2.2" fill="#f6ea1e" stroke="#a89800" stroke-width="0.4"/>
<circle cx="626.0" cy="374.0" r="2.2" fill="#f6ea1e" stroke="#a89800" stroke-width="0.4"/>
<circle cx="624.0" cy="380.0" r="2.2" fill="#f6ea1e" stroke="#a89800" stroke-width="0.4"/>
<path d="M640.0,354.0 L645.0,358.0 L650.0,360.0 L655.0,364.0 L660.0,366.0" stroke="#c8b400" stroke-width="1.0" fill="none"/>
<circle cx="640.0" cy="354.0" r="2.2" fill="#f6ea1e" stroke="#a89800" stroke-width="0.4"/>
<circle cx="645.0" cy="358.0" r="2.2" fill="#f6ea1e" stroke="#a89800" stroke-width="0.4"/>
<circle cx="650.0" cy="360.0" r="2.2" fill="#f6ea1e" stroke="#a89800" stroke-width="0.4"/>
<circle cx="655.0" cy="364.0" r="2.2" fill="#f6ea1e" stroke="#a89800" stroke-width="0.4"/>
<circle cx="660.0" cy="366.0" r="2.2" fill="#f6ea1e" stroke="#a89800" stroke-width="0.4"/>
<path d="M572.0,345.0 L577.0,348.0 L582.0,350.0" stroke="#c8b400" stroke-width="1.0" fill="none"/>
<circle cx="572.0" cy="345.0" r="2.2" fill="#f6ea1e" stroke="#a89800" stroke-width="0.4"/>
<circle cx="577.0" cy="348.0" r="2.2" fill="#f6ea1e" stroke="#a89800" stroke-width="0.4"/>
<circle cx="582.0" cy="350.0" r="2.2" fill="#f6ea1e" stroke="#a89800" stroke-width="0.4"/>
<path d="M636.0,330.0 L641.0,327.0 L646.0,329.0 L651.0,327.0" stroke="#c8b400" stroke-width="1.0" fill="none"/>
<circle cx="636.0" cy="330.0" r="2.2" fill="#f6ea1e" stroke="#a89800" stroke-width="0.4"/>
<circle cx="641.0" cy="327.0" r="2.2" fill="#f6ea1e" stroke="#a89800" stroke-width="0.4"/>
<circle cx="646.0" cy="329.0" r="2.2" fill="#f6ea1e" stroke="#a89800" stroke-width="0.4"/>
<circle cx="651.0" cy="327.0" r="2.2" fill="#f6ea1e" stroke="#a89800" stroke-width="0.4"/>
<path d="M596.0,330.0 L601.0,333.0 L606.0,330.0 L611.0,332.0" stroke="#c8b400" stroke-width="1.0" fill="none"/>
<circle cx="596.0" cy="330.0" r="2.2" fill="#f6ea1e" stroke="#a89800" stroke-width="0.4"/>
<circle cx="601.0" cy="333.0" r="2.2" fill="#f6ea1e" stroke="#a89800" stroke-width="0.4"/>
<circle cx="606.0" cy="330.0" r="2.2" fill="#f6ea1e" stroke="#a89800" stroke-width="0.4"/>
<circle cx="611.0" cy="332.0" r="2.2" fill="#f6ea1e" stroke="#a89800" stroke-width="0.4"/>
<path d="M615.0,360.0 L620.0,362.0 L625.0,360.0" stroke="#c8b400" stroke-width="1.0" fill="none"/>
<circle cx="615.0" cy="360.0" r="2.2" fill="#f6ea1e" stroke="#a89800" stroke-width="0.4"/>
<circle cx="620.0" cy="362.0" r="2.2" fill="#f6ea1e" stroke="#a89800" stroke-width="0.4"/>
<circle cx="625.0" cy="360.0" r="2.2" fill="#f6ea1e" stroke="#a89800" stroke-width="0.4"/>
<circle cx="593.3" cy="328.7" r="1.9" fill="#e01818" stroke="#900" stroke-width="0.3"/>
<circle cx="589.4" cy="337.5" r="1.9" fill="#e01818" stroke="#900" stroke-width="0.3"/>
<circle cx="578.7" cy="343.3" r="1.9" fill="#e01818" stroke="#900" stroke-width="0.3"/>
<circle cx="581.6" cy="346.2" r="1.9" fill="#e01818" stroke="#900" stroke-width="0.3"/>
<circle cx="634.0" cy="350.1" r="1.9" fill="#e01818" stroke="#900" stroke-width="0.3"/>
<circle cx="643.7" cy="351.0" r="1.9" fill="#e01818" stroke="#900" stroke-width="0.3"/>
<circle cx="641.7" cy="338.4" r="1.9" fill="#e01818" stroke="#900" stroke-width="0.3"/>
<circle cx="651.4" cy="341.3" r="1.9" fill="#e01818" stroke="#900" stroke-width="0.3"/>
<circle cx="655.3" cy="342.3" r="1.9" fill="#e01818" stroke="#900" stroke-width="0.3"/>
<circle cx="663.1" cy="341.3" r="1.9" fill="#e01818" stroke="#900" stroke-width="0.3"/>
<circle cx="668.9" cy="335.5" r="1.9" fill="#e01818" stroke="#900" stroke-width="0.3"/>
<circle cx="671.8" cy="347.1" r="1.9" fill="#e01818" stroke="#900" stroke-width="0.3"/>
<circle cx="675.7" cy="347.1" r="1.9" fill="#e01818" stroke="#900" stroke-width="0.3"/>
<circle cx="678.6" cy="350.1" r="1.9" fill="#e01818" stroke="#900" stroke-width="0.3"/>
<circle cx="682.5" cy="351.0" r="1.9" fill="#e01818" stroke="#900" stroke-width="0.3"/>
<circle cx="662.1" cy="356.8" r="1.9" fill="#e01818" stroke="#900" stroke-width="0.3"/>
<circle cx="668.9" cy="362.7" r="1.9" fill="#e01818" stroke="#900" stroke-width="0.3"/>
<circle cx="667.0" cy="355.9" r="1.9" fill="#e01818" stroke="#900" stroke-width="0.3"/>
<circle cx="647.6" cy="337.5" r="1.9" fill="#e01818" stroke="#900" stroke-width="0.3"/>
<circle cx="658.2" cy="338.4" r="1.9" fill="#e01818" stroke="#900" stroke-width="0.3"/>
<circle cx="676.7" cy="350.0" r="2.2" fill="#f08a1a"/>
<circle cx="672.0" cy="348.0" r="2.2" fill="#f08a1a"/>
<path d="M618,347 l4,-2 M628,350 l3,3" stroke="#2040d0" stroke-width="1.4"/>
<text x="541.5" y="291.9" font-size="11.40" font-weight="bold" fill="#0a3cff" stroke="#0a3cff" style="stroke-width:0.30px" text-anchor="start" >a.K32</text>
<text x="573.9" y="303.9" font-size="11.40" font-weight="bold" fill="#0a3cff" stroke="#0a3cff" style="stroke-width:0.30px" text-anchor="start" >a.H40</text>
<text x="625.4" y="314.9" font-size="11.40" font-weight="bold" fill="#0a3cff" stroke="#0a3cff" style="stroke-width:0.30px" text-anchor="start" >b.H37</text>
<text x="548.9" y="338.4" font-size="11.40" font-weight="bold" fill="#0a3cff" stroke="#0a3cff" style="stroke-width:0.30px" text-anchor="start" >a.H37</text>
<text x="650.4" y="334.6" font-size="11.40" font-weight="bold" fill="#0a3cff" stroke="#0a3cff" style="stroke-width:0.30px" text-anchor="start" >b.K32</text>
<text x="618.1" y="364.0" font-size="11.40" font-weight="bold" fill="#0a3cff" stroke="#0a3cff" style="stroke-width:0.30px" text-anchor="start" >b.H40</text>
</svg>
</body></html>
